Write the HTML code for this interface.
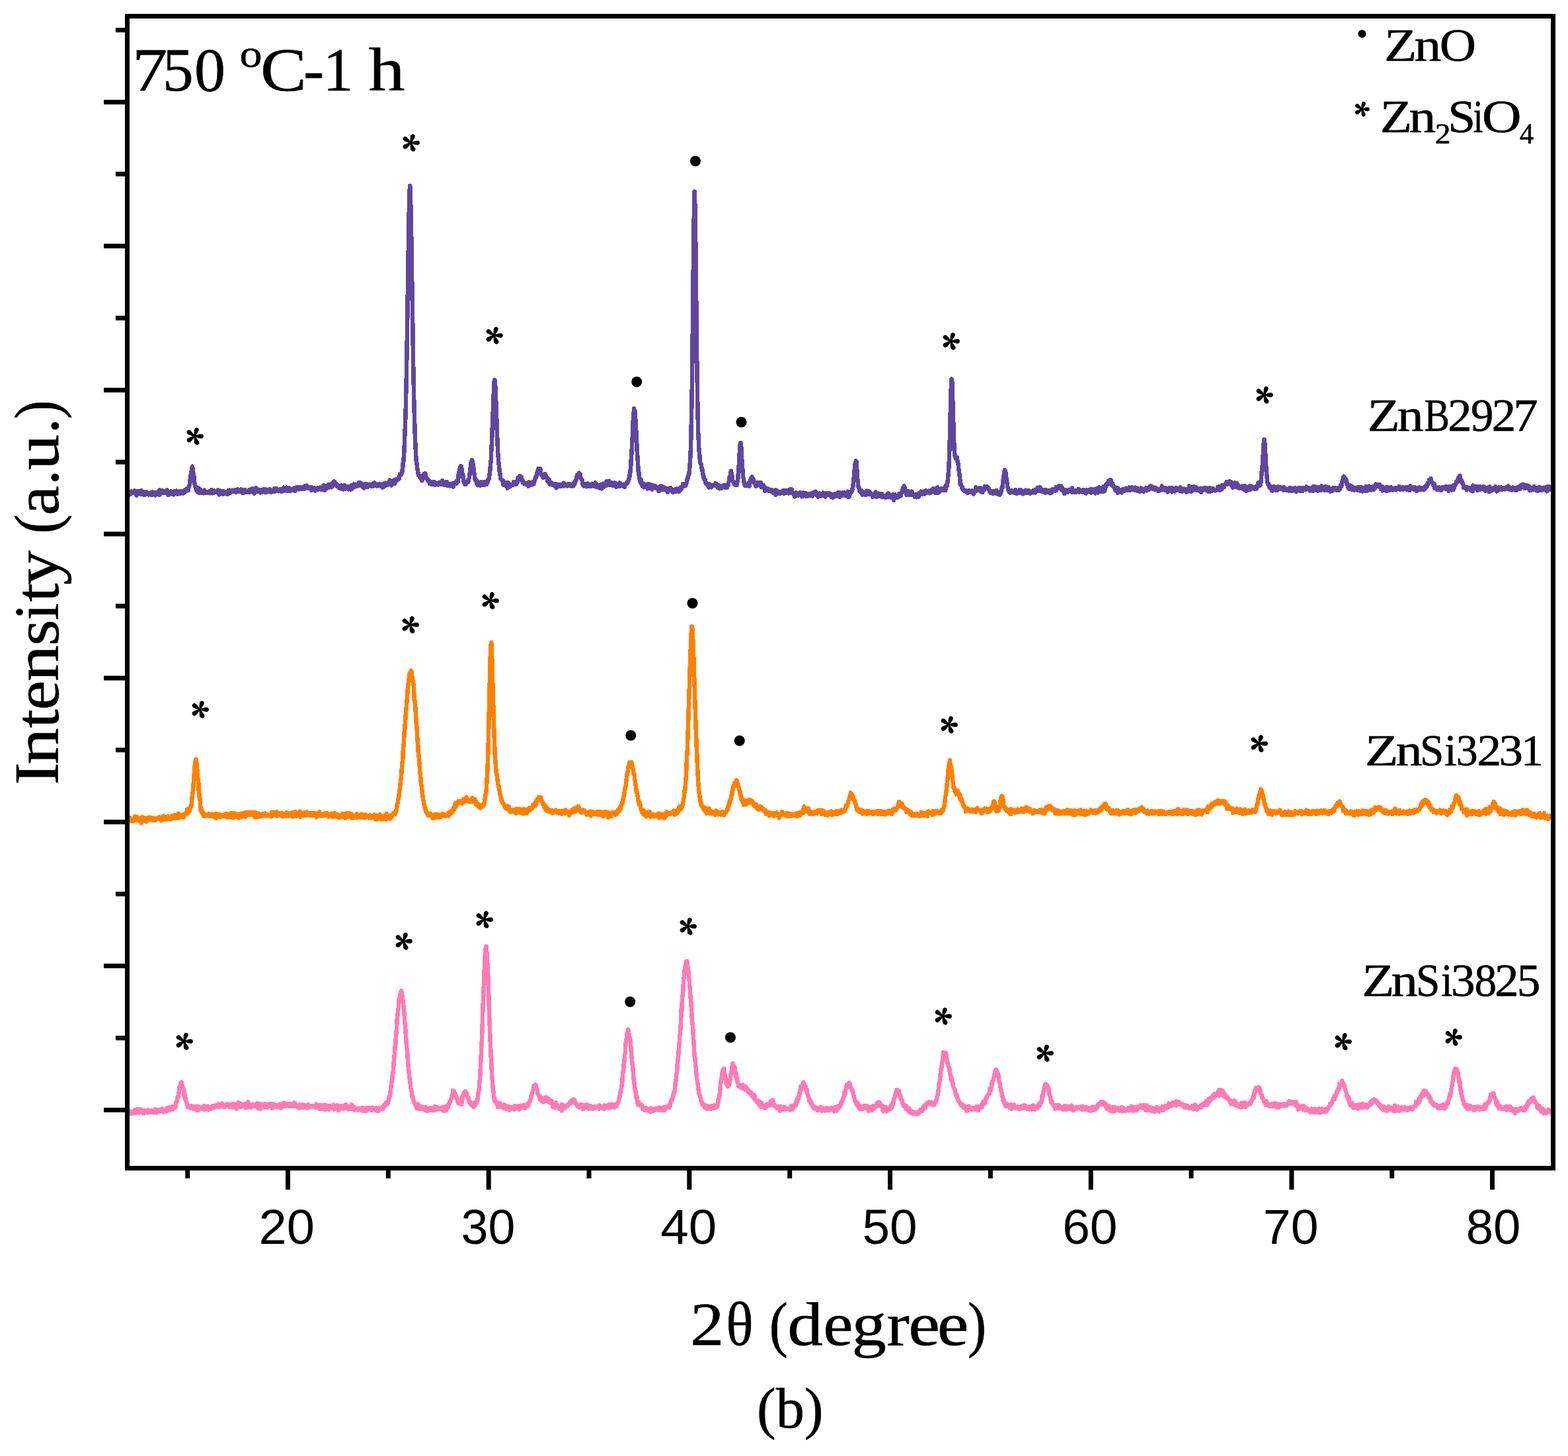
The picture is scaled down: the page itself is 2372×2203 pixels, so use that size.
<!DOCTYPE html>
<html><head><meta charset="utf-8"><title>XRD 750 C-1 h</title>
<style>html,body{margin:0;padding:0;background:#fff;width:2372px;height:2203px;overflow:hidden}svg{display:block}</style>
</head><body>
<svg width="2372" height="2203" viewBox="0 0 2372 2203">
<rect width="2372" height="2203" fill="#fff"/>
<path d="M192.6 746.2L193.2 747.3 193.8 748.0 194.4 744.0 195.0 746.0 195.6 746.1 196.2 746.7 196.8 748.2 197.4 744.2 198.0 747.3 198.6 743.5 199.2 745.1 199.9 745.4 200.5 745.8 201.1 745.2 201.7 745.2 202.3 745.4 202.9 745.4 203.5 742.5 204.1 743.1 204.7 744.6 205.3 746.1 205.9 746.8 206.5 749.8 207.1 745.1 207.7 743.5 208.4 745.2 209.0 746.1 209.6 745.3 210.2 743.4 210.8 745.2 211.4 745.4 212.0 743.3 212.6 743.7 213.2 747.9 213.8 742.1 214.4 746.2 215.0 745.5 215.6 748.2 216.3 746.9 216.9 744.3 217.5 747.8 218.1 744.7 218.7 749.0 219.3 748.4 219.9 745.4 220.5 746.9 221.1 746.0 221.7 744.2 222.3 747.6 222.9 746.6 223.5 747.4 224.1 747.8 224.8 748.4 225.4 747.8 226.0 745.8 226.6 746.1 227.2 746.6 227.8 745.6 228.4 745.4 229.0 748.9 229.6 746.6 230.2 748.9 230.8 744.5 231.4 745.8 232.0 745.1 232.6 745.3 233.3 745.5 233.9 745.9 234.5 745.4 235.1 749.3 235.7 747.4 236.3 745.0 236.9 745.4 237.5 747.5 238.1 747.1 238.7 745.1 239.3 747.6 239.9 743.5 240.5 745.1 241.2 748.7 241.8 741.3 242.4 745.3 243.0 747.2 243.6 745.3 244.2 744.2 244.8 744.0 245.4 742.0 246.0 743.4 246.6 745.7 247.2 744.7 247.8 745.6 248.4 745.4 249.0 746.1 249.7 742.8 250.3 745.1 250.9 744.9 251.5 744.9 252.1 743.9 252.7 741.6 253.3 746.3 253.9 746.6 254.5 749.1 255.1 746.4 255.7 747.9 256.3 746.2 256.9 744.6 257.5 746.1 258.2 743.4 258.8 745.9 259.4 745.3 260.0 743.8 260.6 747.7 261.2 747.5 261.8 746.4 262.4 747.0 263.0 748.3 263.6 745.2 264.2 743.1 264.8 743.7 265.4 746.4 266.1 745.5 266.7 742.6 267.3 747.2 267.9 745.3 268.5 747.6 269.1 746.7 269.7 744.0 270.3 744.9 270.9 743.5 271.5 743.3 272.1 744.2 272.7 745.5 273.3 747.0 273.9 743.2 274.6 745.9 275.2 744.7 275.8 744.2 276.4 746.3 277.0 743.7 277.6 746.4 278.2 743.3 278.8 742.2 279.4 744.8 280.0 740.9 280.6 741.2 281.2 742.8 281.8 743.0 282.5 742.3 283.1 739.2 283.7 739.8 284.3 742.2 284.9 741.2 285.5 736.9 286.1 736.7 286.7 733.4 287.3 730.8 287.9 723.1 288.5 721.8 289.1 713.7 289.7 712.6 290.3 709.2 291.0 705.6 291.6 709.0 292.2 714.1 292.8 720.2 293.4 720.9 294.0 727.1 294.6 733.1 295.2 736.1 295.8 736.0 296.4 738.1 297.0 741.7 297.6 740.1 298.2 742.8 298.8 744.4 299.5 743.1 300.1 738.7 300.7 745.4 301.3 745.4 301.9 745.9 302.5 745.0 303.1 740.7 303.7 745.9 304.3 744.1 304.9 745.1 305.5 743.2 306.1 743.1 306.7 743.1 307.4 746.3 308.0 744.1 308.6 743.3 309.2 741.5 309.8 744.6 310.4 743.8 311.0 744.2 311.6 745.7 312.2 745.3 312.8 744.2 313.4 744.6 314.0 744.5 314.6 745.7 315.2 745.8 315.9 744.9 316.5 743.3 317.1 746.2 317.7 746.3 318.3 743.0 318.9 745.4 319.5 744.1 320.1 741.0 320.7 744.6 321.3 746.3 321.9 743.4 322.5 743.4 323.1 746.2 323.7 742.6 324.4 742.7 325.0 743.7 325.6 745.1 326.2 745.0 326.8 742.9 327.4 743.1 328.0 743.6 328.6 742.7 329.2 741.9 329.8 741.5 330.4 744.6 331.0 743.1 331.6 748.4 332.3 744.7 332.9 742.4 333.5 743.8 334.1 744.4 334.7 744.6 335.3 744.6 335.9 744.7 336.5 743.6 337.1 745.0 337.7 747.6 338.3 743.1 338.9 743.3 339.5 745.2 340.1 746.2 340.8 745.6 341.4 746.4 342.0 744.4 342.6 744.3 343.2 745.9 343.8 746.1 344.4 747.9 345.0 747.7 345.6 742.0 346.2 746.5 346.8 744.0 347.4 741.5 348.0 745.7 348.7 744.6 349.3 744.2 349.9 742.5 350.5 742.8 351.1 744.0 351.7 741.7 352.3 743.9 352.9 744.1 353.5 743.5 354.1 744.1 354.7 743.4 355.3 741.5 355.9 741.6 356.5 743.6 357.2 744.9 357.8 743.6 358.4 742.5 359.0 743.7 359.6 740.4 360.2 741.9 360.8 743.0 361.4 743.6 362.0 743.2 362.6 743.3 363.2 741.7 363.8 742.7 364.4 744.1 365.0 740.5 365.7 741.5 366.3 742.9 366.9 745.9 367.5 744.5 368.1 745.9 368.7 745.4 369.3 742.3 369.9 742.8 370.5 740.9 371.1 744.8 371.7 744.0 372.3 743.8 372.9 743.9 373.6 743.6 374.2 743.2 374.8 743.4 375.4 745.0 376.0 741.6 376.6 741.2 377.2 743.0 377.8 744.9 378.4 743.3 379.0 742.6 379.6 744.3 380.2 743.1 380.8 739.7 381.4 741.3 382.1 739.5 382.7 742.7 383.3 742.3 383.9 743.8 384.5 746.7 385.1 742.1 385.7 743.1 386.3 742.4 386.9 738.2 387.5 741.7 388.1 741.7 388.7 743.4 389.3 741.5 389.9 740.7 390.6 743.9 391.2 742.8 391.8 741.4 392.4 741.7 393.0 742.5 393.6 744.4 394.2 745.5 394.8 740.9 395.4 745.0 396.0 743.1 396.6 743.5 397.2 744.5 397.8 741.0 398.5 744.0 399.1 740.1 399.7 741.4 400.3 740.5 400.9 744.7 401.5 744.5 402.1 742.9 402.7 742.5 403.3 740.7 403.9 744.6 404.5 744.0 405.1 743.2 405.7 741.6 406.3 741.2 407.0 741.7 407.6 744.2 408.2 740.3 408.8 742.1 409.4 744.6 410.0 743.3 410.6 744.7 411.2 742.4 411.8 742.4 412.4 743.9 413.0 742.6 413.6 742.0 414.2 740.5 414.9 738.9 415.5 743.9 416.1 740.7 416.7 740.2 417.3 742.9 417.9 740.0 418.5 739.2 419.1 740.5 419.7 741.4 420.3 742.0 420.9 742.4 421.5 743.1 422.1 741.2 422.7 741.9 423.4 741.1 424.0 740.1 424.6 741.7 425.2 741.5 425.8 744.0 426.4 741.7 427.0 739.5 427.6 741.6 428.2 740.1 428.8 743.2 429.4 737.6 430.0 739.4 430.6 739.5 431.2 740.8 431.9 740.4 432.5 738.0 433.1 737.6 433.7 741.0 434.3 743.2 434.9 743.2 435.5 740.0 436.1 741.4 436.7 739.2 437.3 738.2 437.9 742.7 438.5 741.8 439.1 740.2 439.8 740.2 440.4 742.4 441.0 741.4 441.6 740.3 442.2 741.3 442.8 740.8 443.4 740.0 444.0 739.4 444.6 742.0 445.2 739.5 445.8 738.1 446.4 742.9 447.0 741.9 447.6 740.5 448.3 739.4 448.9 739.8 449.5 737.0 450.1 739.4 450.7 740.0 451.3 739.2 451.9 740.3 452.5 738.4 453.1 740.0 453.7 737.0 454.3 739.6 454.9 738.5 455.5 737.1 456.1 738.5 456.8 739.0 457.4 737.7 458.0 740.0 458.6 737.0 459.2 739.4 459.8 738.8 460.4 736.3 461.0 739.6 461.6 734.8 462.2 737.9 462.8 737.1 463.4 738.4 464.0 734.7 464.7 735.6 465.3 736.5 465.9 738.3 466.5 738.7 467.1 738.8 467.7 738.6 468.3 738.1 468.9 737.1 469.5 738.8 470.1 740.5 470.7 741.4 471.3 739.0 471.9 741.6 472.5 737.6 473.2 741.2 473.8 738.1 474.4 740.4 475.0 738.4 475.6 738.4 476.2 739.2 476.8 742.5 477.4 739.0 478.0 741.2 478.6 740.4 479.2 740.6 479.8 740.6 480.4 741.0 481.1 737.9 481.7 739.9 482.3 740.3 482.9 738.6 483.5 740.1 484.1 737.6 484.7 740.5 485.3 738.0 485.9 738.6 486.5 740.4 487.1 740.9 487.7 738.1 488.3 738.0 488.9 740.8 489.6 734.4 490.2 741.5 490.8 741.4 491.4 737.5 492.0 741.3 492.6 739.9 493.2 740.0 493.8 735.3 494.4 738.2 495.0 738.6 495.6 738.1 496.2 737.9 496.8 737.8 497.4 733.2 498.1 737.4 498.7 736.1 499.3 736.7 499.9 735.5 500.5 735.7 501.1 735.6 501.7 737.3 502.3 732.2 502.9 735.7 503.5 731.7 504.1 730.0 504.7 728.7 505.3 732.4 506.0 728.4 506.6 732.8 507.2 732.3 507.8 731.3 508.4 731.8 509.0 734.4 509.6 734.5 510.2 736.1 510.8 735.4 511.4 735.0 512.0 737.2 512.6 734.6 513.2 738.3 513.8 737.1 514.5 735.3 515.1 735.6 515.7 736.8 516.3 734.4 516.9 739.8 517.5 739.1 518.1 735.7 518.7 737.4 519.3 740.4 519.9 738.3 520.5 735.9 521.1 734.0 521.7 734.9 522.3 739.7 523.0 738.3 523.6 735.6 524.2 739.1 524.8 737.3 525.4 736.8 526.0 737.0 526.6 737.1 527.2 740.6 527.8 736.2 528.4 737.0 529.0 739.8 529.6 739.9 530.2 735.6 530.9 740.5 531.5 738.7 532.1 734.1 532.7 739.5 533.3 733.7 533.9 737.2 534.5 733.9 535.1 732.7 535.7 737.1 536.3 736.2 536.9 735.3 537.5 735.7 538.1 735.1 538.7 734.7 539.4 733.1 540.0 735.7 540.6 734.4 541.2 733.6 541.8 732.7 542.4 732.8 543.0 730.4 543.6 732.1 544.2 730.7 544.8 734.5 545.4 730.6 546.0 731.6 546.6 732.5 547.3 734.0 547.9 733.7 548.5 733.1 549.1 737.0 549.7 733.5 550.3 734.3 550.9 738.6 551.5 732.7 552.1 736.1 552.7 735.4 553.3 732.6 553.9 733.9 554.5 736.4 555.1 732.6 555.8 734.7 556.4 736.5 557.0 734.3 557.6 735.0 558.2 733.2 558.8 733.0 559.4 732.7 560.0 732.8 560.6 734.1 561.2 732.9 561.8 735.9 562.4 733.2 563.0 732.7 563.6 736.0 564.3 732.0 564.9 730.9 565.5 732.7 566.1 730.7 566.7 733.6 567.3 735.1 567.9 734.0 568.5 732.3 569.1 732.9 569.7 734.0 570.3 735.3 570.9 732.7 571.5 732.7 572.2 735.3 572.8 733.9 573.4 734.1 574.0 734.4 574.6 732.3 575.2 733.3 575.8 735.4 576.4 733.3 577.0 733.2 577.6 734.0 578.2 734.1 578.8 737.8 579.4 732.0 580.0 733.6 580.7 736.7 581.3 733.3 581.9 733.8 582.5 730.6 583.1 734.6 583.7 734.3 584.3 734.1 584.9 732.2 585.5 733.0 586.1 732.1 586.7 733.5 587.3 731.9 587.9 733.0 588.5 729.3 589.2 730.8 589.8 726.3 590.4 730.8 591.0 732.2 591.6 730.2 592.2 734.5 592.8 728.7 593.4 729.6 594.0 728.4 594.6 729.0 595.2 728.8 595.8 726.8 596.4 727.4 597.1 732.2 597.7 727.9 598.3 729.5 598.9 725.3 599.5 726.8 600.1 727.5 600.7 725.7 601.3 724.6 601.9 724.5 602.5 724.3 603.1 725.0 603.7 724.9 604.3 719.8 604.9 717.6 605.6 719.8 606.2 718.9 606.8 718.6 607.4 717.5 608.0 712.2 608.6 714.3 609.2 707.5 609.8 699.2 610.4 698.1 611.0 689.0 611.6 678.8 612.2 662.1 612.8 648.0 613.5 628.5 614.1 603.0 614.7 575.5 615.3 543.2 615.9 506.5 616.5 465.6 617.1 420.4 617.7 384.3 618.3 343.2 618.9 314.4 619.5 291.2 620.1 280.8 620.7 285.2 621.3 312.0 622.0 339.8 622.6 378.8 623.2 421.9 623.8 457.6 624.4 497.6 625.0 539.9 625.6 573.9 626.2 602.0 626.8 626.4 627.4 645.0 628.0 664.7 628.6 676.7 629.2 689.2 629.8 698.1 630.5 701.5 631.1 707.9 631.7 711.1 632.3 714.8 632.9 718.5 633.5 718.8 634.1 720.3 634.7 721.6 635.3 720.5 635.9 722.0 636.5 723.2 637.1 725.2 637.7 725.5 638.4 727.3 639.0 721.2 639.6 722.6 640.2 719.0 640.8 720.2 641.4 717.2 642.0 721.2 642.6 719.7 643.2 716.2 643.8 719.0 644.4 720.6 645.0 723.7 645.6 723.6 646.2 724.0 646.9 725.1 647.5 727.7 648.1 728.2 648.7 727.7 649.3 727.1 649.9 731.5 650.5 728.9 651.1 730.0 651.7 732.0 652.3 730.8 652.9 733.0 653.5 729.3 654.1 732.7 654.7 729.2 655.4 729.1 656.0 729.9 656.6 732.0 657.2 730.7 657.8 729.6 658.4 734.0 659.0 730.4 659.6 731.8 660.2 732.4 660.8 731.1 661.4 732.5 662.0 732.9 662.6 731.6 663.3 733.4 663.9 730.6 664.5 729.8 665.1 732.0 665.7 730.0 666.3 732.4 666.9 731.7 667.5 731.2 668.1 733.1 668.7 733.2 669.3 727.3 669.9 731.9 670.5 732.8 671.1 733.5 671.8 731.8 672.4 730.8 673.0 733.0 673.6 734.1 674.2 729.5 674.8 730.5 675.4 732.1 676.0 728.8 676.6 732.3 677.2 734.7 677.8 731.6 678.4 733.6 679.0 731.9 679.7 734.0 680.3 734.3 680.9 735.3 681.5 733.1 682.1 734.7 682.7 733.5 683.3 731.9 683.9 735.2 684.5 731.6 685.1 732.9 685.7 736.7 686.3 734.0 686.9 731.1 687.5 732.9 688.2 731.4 688.8 731.9 689.4 729.3 690.0 731.8 690.6 728.2 691.2 730.6 691.8 729.3 692.4 728.3 693.0 728.3 693.6 718.6 694.2 715.9 694.8 712.6 695.4 709.7 696.0 709.3 696.7 705.5 697.3 705.1 697.9 706.0 698.5 710.0 699.1 714.1 699.7 718.5 700.3 719.7 700.9 725.1 701.5 728.6 702.1 730.0 702.7 728.5 703.3 732.8 703.9 733.2 704.6 732.4 705.2 729.7 705.8 729.0 706.4 731.0 707.0 728.5 707.6 726.9 708.2 729.3 708.8 727.3 709.4 724.3 710.0 722.1 710.6 717.3 711.2 709.0 711.8 708.1 712.4 701.4 713.1 698.0 713.7 697.9 714.3 696.0 714.9 700.6 715.5 702.1 716.1 706.4 716.7 711.0 717.3 716.8 717.9 718.2 718.5 724.3 719.1 726.7 719.7 727.8 720.3 726.2 720.9 727.2 721.6 732.6 722.2 730.1 722.8 734.3 723.4 730.9 724.0 732.7 724.6 729.7 725.2 731.0 725.8 731.6 726.4 732.9 727.0 734.6 727.6 733.3 728.2 729.1 728.8 731.5 729.5 731.1 730.1 730.2 730.7 732.2 731.3 733.8 731.9 730.2 732.5 732.8 733.1 733.2 733.7 728.8 734.3 733.5 734.9 733.2 735.5 730.5 736.1 732.7 736.7 729.7 737.3 730.7 738.0 729.0 738.6 725.3 739.2 725.6 739.8 722.7 740.4 719.1 741.0 713.8 741.6 709.0 742.2 700.9 742.8 696.0 743.4 678.8 744.0 669.1 744.6 652.1 745.2 633.8 745.9 620.1 746.5 600.1 747.1 590.0 747.7 577.2 748.3 574.7 748.9 577.0 749.5 588.3 750.1 603.0 750.7 616.8 751.3 635.1 751.9 655.5 752.5 666.4 753.1 684.3 753.7 691.5 754.4 700.4 755.0 705.6 755.6 712.6 756.2 715.2 756.8 720.3 757.4 724.8 758.0 725.2 758.6 725.6 759.2 725.9 759.8 727.3 760.4 726.7 761.0 727.6 761.6 733.6 762.2 731.1 762.9 729.6 763.5 732.6 764.1 734.4 764.7 731.0 765.3 732.1 765.9 730.3 766.5 729.9 767.1 735.2 767.7 738.9 768.3 731.9 768.9 730.5 769.5 735.9 770.1 735.4 770.8 734.5 771.4 736.3 772.0 733.2 772.6 734.3 773.2 735.1 773.8 733.2 774.4 734.4 775.0 733.1 775.6 734.1 776.2 733.4 776.8 729.6 777.4 732.9 778.0 730.1 778.6 730.8 779.3 729.1 779.9 733.0 780.5 730.6 781.1 729.9 781.7 732.0 782.3 730.1 782.9 727.4 783.5 723.0 784.1 726.4 784.7 723.4 785.3 722.0 785.9 723.0 786.5 720.0 787.1 720.8 787.8 722.9 788.4 723.1 789.0 722.1 789.6 726.9 790.2 727.6 790.8 730.1 791.4 727.8 792.0 729.2 792.6 731.5 793.2 731.1 793.8 731.2 794.4 731.3 795.0 731.3 795.7 731.1 796.3 731.4 796.9 733.4 797.5 732.4 798.1 730.6 798.7 733.2 799.3 736.0 799.9 735.4 800.5 729.6 801.1 731.5 801.7 734.2 802.3 732.8 802.9 732.6 803.5 732.1 804.2 732.2 804.8 730.0 805.4 733.4 806.0 729.2 806.6 730.2 807.2 732.3 807.8 730.7 808.4 727.8 809.0 726.5 809.6 724.0 810.2 722.4 810.8 720.8 811.4 721.3 812.1 715.9 812.7 715.4 813.3 713.0 813.9 711.2 814.5 708.8 815.1 710.1 815.7 709.3 816.3 710.2 816.9 710.7 817.5 709.5 818.1 716.5 818.7 718.3 819.3 717.7 819.9 719.5 820.6 721.2 821.2 719.5 821.8 722.6 822.4 722.5 823.0 722.4 823.6 722.1 824.2 716.8 824.8 720.8 825.4 719.0 826.0 722.0 826.6 722.4 827.2 722.8 827.8 722.3 828.4 728.5 829.1 724.7 829.7 724.2 830.3 728.8 830.9 725.8 831.5 732.5 832.1 731.8 832.7 733.0 833.3 733.1 833.9 732.6 834.5 730.1 835.1 731.6 835.7 733.9 836.3 732.9 837.0 734.1 837.6 732.5 838.2 732.6 838.8 734.6 839.4 735.6 840.0 734.5 840.6 733.0 841.2 732.0 841.8 738.3 842.4 733.0 843.0 733.5 843.6 733.8 844.2 736.5 844.8 733.7 845.5 735.9 846.1 735.4 846.7 733.0 847.3 735.2 847.9 732.9 848.5 734.7 849.1 736.2 849.7 734.5 850.3 733.3 850.9 734.1 851.5 734.4 852.1 735.2 852.7 730.7 853.3 731.4 854.0 735.3 854.6 734.3 855.2 734.5 855.8 734.8 856.4 734.1 857.0 733.6 857.6 734.5 858.2 735.4 858.8 734.8 859.4 734.2 860.0 732.3 860.6 734.4 861.2 732.0 861.9 732.7 862.5 734.0 863.1 733.8 863.7 735.4 864.3 734.9 864.9 734.2 865.5 732.7 866.1 733.1 866.7 732.5 867.3 735.5 867.9 733.0 868.5 730.6 869.1 729.5 869.7 732.1 870.4 727.3 871.0 727.9 871.6 725.8 872.2 725.4 872.8 720.0 873.4 720.3 874.0 717.9 874.6 717.6 875.2 717.8 875.8 715.6 876.4 715.9 877.0 719.4 877.6 717.4 878.3 722.3 878.9 722.6 879.5 724.3 880.1 725.6 880.7 727.1 881.3 732.7 881.9 733.7 882.5 733.2 883.1 735.3 883.7 733.9 884.3 733.2 884.9 732.3 885.5 735.4 886.1 735.5 886.8 736.2 887.4 732.7 888.0 733.5 888.6 731.6 889.2 735.8 889.8 735.0 890.4 734.7 891.0 733.8 891.6 733.6 892.2 733.3 892.8 735.9 893.4 733.0 894.0 735.7 894.6 734.7 895.3 732.6 895.9 731.8 896.5 732.9 897.1 734.2 897.7 732.0 898.3 735.2 898.9 736.1 899.5 735.0 900.1 731.3 900.7 730.2 901.3 735.7 901.9 736.8 902.5 733.7 903.2 735.4 903.8 734.2 904.4 733.8 905.0 736.7 905.6 734.3 906.2 736.8 906.8 738.4 907.4 735.4 908.0 738.8 908.6 733.4 909.2 737.0 909.8 735.4 910.4 739.5 911.0 735.1 911.7 733.4 912.3 737.3 912.9 731.7 913.5 734.8 914.1 732.5 914.7 735.9 915.3 733.1 915.9 734.4 916.5 732.5 917.1 730.3 917.7 728.1 918.3 734.4 918.9 731.4 919.5 728.7 920.2 729.9 920.8 732.0 921.4 727.7 922.0 734.2 922.6 730.0 923.2 730.1 923.8 733.2 924.4 731.7 925.0 729.9 925.6 733.5 926.2 733.1 926.8 734.5 927.4 731.3 928.1 731.3 928.7 734.5 929.3 733.0 929.9 730.3 930.5 733.2 931.1 735.4 931.7 733.3 932.3 736.8 932.9 733.8 933.5 734.5 934.1 731.9 934.7 733.3 935.3 734.2 935.9 735.5 936.6 734.7 937.2 736.1 937.8 730.6 938.4 734.3 939.0 734.0 939.6 732.5 940.2 734.3 940.8 733.1 941.4 735.1 942.0 733.8 942.6 735.2 943.2 732.7 943.8 736.3 944.5 734.6 945.1 736.8 945.7 733.2 946.3 732.3 946.9 733.0 947.5 731.5 948.1 730.1 948.7 731.3 949.3 730.4 949.9 728.5 950.5 727.7 951.1 724.9 951.7 724.5 952.3 718.7 953.0 719.8 953.6 711.4 954.2 706.1 954.8 693.7 955.4 686.5 956.0 674.3 956.6 664.3 957.2 651.6 957.8 634.8 958.4 630.4 959.0 618.2 959.6 621.5 960.2 620.8 960.8 625.0 961.5 638.6 962.1 648.8 962.7 659.2 963.3 671.9 963.9 685.5 964.5 692.1 965.1 701.7 965.7 713.7 966.3 714.6 966.9 721.0 967.5 724.5 968.1 727.9 968.7 729.6 969.4 725.1 970.0 729.7 970.6 733.4 971.2 730.7 971.8 735.7 972.4 733.5 973.0 731.4 973.6 734.8 974.2 737.4 974.8 733.2 975.4 735.5 976.0 733.2 976.6 733.8 977.2 735.1 977.9 735.9 978.5 735.7 979.1 735.5 979.7 739.4 980.3 733.4 980.9 732.1 981.5 736.4 982.1 735.8 982.7 733.1 983.3 738.7 983.9 734.6 984.5 733.6 985.1 736.8 985.8 737.5 986.4 740.7 987.0 734.2 987.6 734.9 988.2 736.8 988.8 736.6 989.4 737.4 990.0 736.4 990.6 735.0 991.2 737.0 991.8 739.0 992.4 739.1 993.0 736.7 993.6 738.8 994.3 738.7 994.9 737.2 995.5 737.5 996.1 738.3 996.7 743.2 997.3 738.8 997.9 737.1 998.5 738.4 999.1 737.8 999.7 740.8 1000.3 735.2 1000.9 737.1 1001.5 740.5 1002.1 739.9 1002.8 739.3 1003.4 740.6 1004.0 737.2 1004.6 740.3 1005.2 737.8 1005.8 737.8 1006.4 741.0 1007.0 739.0 1007.6 739.9 1008.2 741.8 1008.8 739.0 1009.4 742.0 1010.0 744.9 1010.7 740.8 1011.3 742.8 1011.9 742.6 1012.5 739.1 1013.1 739.0 1013.7 741.5 1014.3 737.9 1014.9 741.7 1015.5 742.2 1016.1 742.7 1016.7 742.7 1017.3 744.4 1017.9 741.6 1018.5 744.6 1019.2 743.1 1019.8 743.1 1020.4 741.8 1021.0 743.6 1021.6 740.4 1022.2 742.8 1022.8 743.4 1023.4 740.1 1024.0 739.5 1024.6 739.7 1025.2 740.9 1025.8 741.5 1026.4 742.3 1027.0 744.0 1027.7 743.4 1028.3 740.8 1028.9 739.4 1029.5 737.6 1030.1 740.7 1030.7 739.7 1031.3 737.7 1031.9 737.3 1032.5 736.8 1033.1 731.9 1033.7 735.6 1034.3 735.6 1034.9 734.2 1035.6 731.9 1036.2 733.1 1036.8 733.1 1037.4 734.6 1038.0 732.3 1038.6 730.4 1039.2 728.0 1039.8 724.1 1040.4 723.9 1041.0 720.0 1041.6 719.5 1042.2 718.1 1042.8 713.4 1043.4 706.6 1044.1 695.9 1044.7 684.8 1045.3 664.2 1045.9 635.9 1046.5 607.3 1047.1 565.4 1047.7 511.2 1048.3 457.5 1048.9 393.6 1049.5 344.8 1050.1 310.2 1050.7 289.7 1051.3 308.9 1052.0 343.6 1052.6 393.4 1053.2 448.1 1053.8 509.4 1054.4 557.6 1055.0 593.1 1055.6 627.0 1056.2 653.7 1056.8 667.0 1057.4 681.1 1058.0 685.0 1058.6 692.8 1059.2 700.2 1059.8 700.1 1060.5 702.6 1061.1 705.3 1061.7 709.6 1062.3 709.8 1062.9 714.7 1063.5 718.0 1064.1 721.7 1064.7 720.1 1065.3 725.5 1065.9 725.2 1066.5 725.4 1067.1 728.1 1067.7 731.1 1068.3 732.2 1069.0 732.0 1069.6 731.4 1070.2 733.8 1070.8 733.5 1071.4 734.0 1072.0 734.6 1072.6 737.7 1073.2 732.7 1073.8 734.8 1074.4 733.1 1075.0 736.6 1075.6 736.9 1076.2 737.2 1076.9 734.1 1077.5 734.6 1078.1 735.6 1078.7 734.3 1079.3 734.3 1079.9 734.0 1080.5 734.0 1081.1 733.3 1081.7 734.3 1082.3 731.1 1082.9 733.2 1083.5 731.9 1084.1 734.4 1084.7 733.7 1085.4 736.3 1086.0 737.9 1086.6 733.9 1087.2 735.0 1087.8 737.2 1088.4 739.3 1089.0 738.3 1089.6 737.9 1090.2 737.1 1090.8 736.6 1091.4 738.0 1092.0 738.3 1092.6 737.7 1093.2 736.5 1093.9 734.6 1094.5 735.9 1095.1 736.6 1095.7 735.1 1096.3 737.5 1096.9 734.3 1097.5 736.0 1098.1 737.0 1098.7 737.6 1099.3 736.3 1099.9 737.6 1100.5 733.8 1101.1 732.6 1101.8 734.5 1102.4 729.1 1103.0 727.9 1103.6 722.1 1104.2 724.0 1104.8 720.2 1105.4 715.2 1106.0 712.5 1106.6 716.9 1107.2 719.2 1107.8 723.8 1108.4 728.1 1109.0 728.1 1109.6 729.6 1110.3 731.4 1110.9 732.5 1111.5 731.4 1112.1 732.5 1112.7 734.0 1113.3 731.0 1113.9 730.9 1114.5 734.1 1115.1 728.8 1115.7 728.2 1116.3 724.0 1116.9 715.5 1117.5 708.4 1118.2 696.4 1118.8 684.2 1119.4 675.9 1120.0 670.2 1120.6 670.2 1121.2 675.8 1121.8 684.4 1122.4 697.7 1123.0 705.3 1123.6 713.3 1124.2 722.2 1124.8 723.5 1125.4 728.4 1126.0 733.1 1126.7 732.0 1127.3 735.2 1127.9 732.9 1128.5 732.9 1129.1 733.7 1129.7 733.2 1130.3 733.5 1130.9 733.2 1131.5 735.0 1132.1 733.7 1132.7 731.8 1133.3 729.9 1133.9 735.5 1134.5 728.2 1135.2 729.6 1135.8 723.6 1136.4 723.2 1137.0 725.8 1137.6 721.5 1138.2 721.8 1138.8 724.4 1139.4 724.5 1140.0 726.6 1140.6 728.9 1141.2 731.5 1141.8 731.4 1142.4 732.6 1143.1 735.0 1143.7 735.6 1144.3 732.7 1144.9 730.0 1145.5 731.2 1146.1 734.5 1146.7 731.3 1147.3 730.5 1147.9 730.5 1148.5 733.8 1149.1 730.9 1149.7 730.2 1150.3 730.0 1150.9 729.8 1151.6 737.3 1152.2 733.1 1152.8 734.3 1153.4 734.3 1154.0 737.6 1154.6 734.8 1155.2 733.9 1155.8 736.9 1156.4 739.0 1157.0 742.8 1157.6 739.2 1158.2 738.2 1158.8 739.5 1159.4 738.8 1160.1 738.9 1160.7 740.6 1161.3 741.0 1161.9 739.6 1162.5 742.8 1163.1 740.9 1163.7 741.4 1164.3 740.6 1164.9 742.3 1165.5 742.6 1166.1 743.3 1166.7 740.9 1167.3 743.6 1168.0 741.8 1168.6 743.2 1169.2 744.5 1169.8 746.0 1170.4 742.9 1171.0 742.0 1171.6 744.3 1172.2 746.3 1172.8 743.8 1173.4 748.7 1174.0 741.4 1174.6 747.2 1175.2 746.7 1175.8 746.6 1176.5 743.3 1177.1 747.0 1177.7 746.7 1178.3 746.9 1178.9 744.4 1179.5 744.4 1180.1 747.1 1180.7 745.5 1181.3 744.4 1181.9 743.6 1182.5 745.5 1183.1 742.8 1183.7 746.1 1184.4 745.3 1185.0 742.4 1185.6 745.8 1186.2 747.0 1186.8 745.3 1187.4 742.5 1188.0 743.7 1188.6 746.1 1189.2 742.3 1189.8 743.7 1190.4 746.2 1191.0 743.5 1191.6 742.8 1192.2 745.0 1192.9 746.3 1193.5 744.1 1194.1 741.1 1194.7 740.7 1195.3 743.2 1195.9 740.8 1196.5 744.1 1197.1 746.2 1197.7 740.5 1198.3 745.2 1198.9 746.4 1199.5 745.2 1200.1 747.1 1200.7 747.6 1201.4 748.7 1202.0 751.6 1202.6 747.6 1203.2 745.5 1203.8 745.3 1204.4 745.0 1205.0 748.3 1205.6 747.6 1206.2 747.9 1206.8 747.4 1207.4 749.8 1208.0 749.0 1208.6 748.9 1209.3 746.0 1209.9 746.7 1210.5 745.2 1211.1 746.4 1211.7 747.8 1212.3 745.7 1212.9 746.8 1213.5 751.5 1214.1 747.8 1214.7 745.6 1215.3 746.1 1215.9 748.1 1216.5 749.6 1217.1 748.0 1217.8 749.6 1218.4 748.6 1219.0 746.1 1219.6 749.7 1220.2 747.1 1220.8 751.2 1221.4 746.9 1222.0 747.7 1222.6 747.0 1223.2 747.5 1223.8 748.7 1224.4 747.6 1225.0 749.9 1225.6 748.4 1226.3 750.2 1226.9 747.4 1227.5 749.2 1228.1 748.8 1228.7 746.1 1229.3 750.4 1229.9 748.3 1230.5 746.4 1231.1 745.0 1231.7 745.1 1232.3 745.0 1232.9 745.9 1233.5 743.7 1234.2 746.0 1234.8 745.1 1235.4 749.4 1236.0 748.2 1236.6 750.0 1237.2 751.5 1237.8 748.5 1238.4 751.4 1239.0 748.7 1239.6 749.2 1240.2 746.5 1240.8 748.3 1241.4 750.6 1242.0 749.0 1242.7 747.5 1243.3 748.1 1243.9 746.9 1244.5 747.0 1245.1 745.7 1245.7 750.1 1246.3 750.1 1246.9 748.0 1247.5 746.0 1248.1 747.9 1248.7 751.7 1249.3 746.0 1249.9 747.4 1250.6 747.5 1251.2 749.6 1251.8 746.1 1252.4 748.7 1253.0 746.8 1253.6 747.6 1254.2 746.2 1254.8 749.1 1255.4 747.4 1256.0 747.2 1256.6 750.1 1257.2 748.8 1257.8 752.2 1258.4 748.9 1259.1 748.3 1259.7 748.4 1260.3 752.9 1260.9 750.3 1261.5 747.7 1262.1 748.8 1262.7 747.4 1263.3 749.5 1263.9 747.6 1264.5 747.6 1265.1 749.5 1265.7 751.1 1266.3 750.3 1266.9 750.2 1267.6 749.0 1268.2 744.8 1268.8 748.7 1269.4 748.6 1270.0 749.8 1270.6 751.8 1271.2 750.1 1271.8 745.7 1272.4 748.7 1273.0 748.2 1273.6 749.8 1274.2 748.4 1274.8 745.2 1275.5 746.9 1276.1 747.9 1276.7 744.9 1277.3 748.2 1277.9 747.9 1278.5 750.2 1279.1 748.1 1279.7 747.2 1280.3 748.0 1280.9 748.1 1281.5 749.6 1282.1 746.1 1282.7 743.7 1283.3 752.1 1284.0 748.4 1284.6 746.9 1285.2 750.7 1285.8 744.2 1286.4 744.4 1287.0 744.5 1287.6 745.4 1288.2 742.8 1288.8 743.6 1289.4 739.6 1290.0 739.7 1290.6 734.3 1291.2 725.5 1291.8 722.1 1292.5 713.0 1293.1 707.5 1293.7 701.4 1294.3 701.8 1294.9 697.3 1295.5 698.7 1296.1 708.4 1296.7 713.6 1297.3 726.2 1297.9 730.5 1298.5 737.1 1299.1 737.5 1299.7 739.1 1300.4 743.4 1301.0 741.7 1301.6 743.3 1302.2 744.2 1302.8 745.6 1303.4 743.4 1304.0 742.6 1304.6 748.7 1305.2 745.3 1305.8 745.9 1306.4 747.2 1307.0 746.9 1307.6 745.0 1308.2 745.3 1308.9 748.8 1309.5 748.2 1310.1 747.3 1310.7 748.9 1311.3 742.7 1311.9 746.3 1312.5 745.6 1313.1 742.8 1313.7 746.8 1314.3 747.5 1314.9 746.9 1315.5 743.5 1316.1 746.4 1316.8 747.3 1317.4 746.6 1318.0 747.6 1318.6 748.1 1319.2 749.7 1319.8 747.7 1320.4 751.9 1321.0 747.8 1321.6 747.9 1322.2 748.8 1322.8 747.5 1323.4 747.3 1324.0 750.1 1324.6 744.4 1325.3 745.2 1325.9 752.0 1326.5 749.7 1327.1 749.4 1327.7 749.1 1328.3 749.1 1328.9 746.9 1329.5 748.1 1330.1 746.8 1330.7 750.6 1331.3 749.8 1331.9 749.1 1332.5 749.5 1333.1 748.7 1333.8 747.1 1334.4 752.3 1335.0 750.7 1335.6 749.4 1336.2 750.9 1336.8 752.3 1337.4 752.3 1338.0 751.5 1338.6 751.8 1339.2 750.1 1339.8 752.9 1340.4 752.2 1341.0 752.3 1341.7 748.4 1342.3 751.9 1342.9 752.0 1343.5 752.3 1344.1 746.5 1344.7 747.8 1345.3 751.6 1345.9 749.5 1346.5 751.9 1347.1 751.1 1347.7 752.7 1348.3 750.3 1348.9 749.4 1349.5 752.2 1350.2 750.9 1350.8 749.3 1351.4 748.0 1352.0 757.0 1352.6 751.0 1353.2 751.2 1353.8 748.2 1354.4 749.9 1355.0 751.3 1355.6 752.1 1356.2 752.8 1356.8 750.0 1357.4 752.0 1358.0 753.1 1358.7 750.0 1359.3 750.7 1359.9 747.4 1360.5 748.9 1361.1 747.5 1361.7 750.5 1362.3 748.1 1362.9 750.1 1363.5 746.3 1364.1 745.9 1364.7 743.9 1365.3 741.8 1365.9 738.2 1366.6 742.0 1367.2 738.3 1367.8 735.2 1368.4 738.0 1369.0 738.0 1369.6 743.3 1370.2 744.4 1370.8 746.6 1371.4 749.0 1372.0 745.0 1372.6 743.7 1373.2 745.9 1373.8 748.6 1374.4 743.1 1375.1 746.6 1375.7 748.7 1376.3 745.2 1376.9 745.9 1377.5 744.0 1378.1 748.4 1378.7 748.7 1379.3 743.7 1379.9 744.5 1380.5 746.8 1381.1 748.4 1381.7 748.5 1382.3 749.3 1383.0 750.2 1383.6 750.8 1384.2 752.0 1384.8 749.0 1385.4 747.8 1386.0 748.4 1386.6 752.3 1387.2 749.6 1387.8 749.2 1388.4 750.2 1389.0 749.8 1389.6 751.6 1390.2 745.9 1390.8 747.5 1391.5 748.3 1392.1 748.3 1392.7 746.0 1393.3 743.6 1393.9 745.8 1394.5 744.9 1395.1 745.8 1395.7 747.8 1396.3 747.0 1396.9 743.7 1397.5 744.3 1398.1 745.8 1398.7 747.4 1399.3 745.2 1400.0 745.7 1400.6 742.5 1401.2 744.3 1401.8 743.6 1402.4 745.3 1403.0 744.4 1403.6 743.3 1404.2 742.8 1404.8 745.0 1405.4 743.3 1406.0 746.3 1406.6 744.4 1407.2 743.5 1407.9 745.4 1408.5 741.4 1409.1 745.0 1409.7 741.9 1410.3 744.2 1410.9 741.5 1411.5 740.9 1412.1 739.2 1412.7 742.4 1413.3 743.1 1413.9 739.9 1414.5 745.6 1415.1 742.5 1415.7 740.6 1416.4 746.1 1417.0 741.9 1417.6 745.2 1418.2 737.5 1418.8 746.2 1419.4 742.6 1420.0 742.2 1420.6 742.6 1421.2 739.8 1421.8 743.4 1422.4 742.3 1423.0 742.0 1423.6 740.2 1424.2 738.9 1424.9 741.4 1425.5 742.0 1426.1 740.5 1426.7 739.6 1427.3 738.8 1427.9 740.6 1428.5 741.6 1429.1 738.4 1429.7 736.7 1430.3 742.1 1430.9 734.2 1431.5 736.6 1432.1 734.7 1432.8 735.4 1433.4 730.0 1434.0 723.1 1434.6 717.6 1435.2 710.6 1435.8 697.3 1436.4 678.8 1437.0 657.6 1437.6 631.2 1438.2 606.5 1438.8 586.9 1439.4 573.6 1440.0 573.8 1440.6 582.5 1441.3 607.6 1441.9 622.5 1442.5 649.0 1443.1 666.0 1443.7 681.0 1444.3 689.1 1444.9 688.3 1445.5 693.2 1446.1 694.0 1446.7 693.8 1447.3 693.1 1447.9 692.3 1448.5 698.6 1449.2 699.9 1449.8 704.1 1450.4 710.6 1451.0 714.6 1451.6 719.0 1452.2 724.8 1452.8 733.1 1453.4 732.1 1454.0 734.2 1454.6 735.3 1455.2 738.3 1455.8 736.8 1456.4 740.6 1457.0 740.9 1457.7 741.2 1458.3 742.3 1458.9 741.5 1459.5 743.3 1460.1 743.3 1460.7 743.6 1461.3 742.8 1461.9 744.5 1462.5 742.8 1463.1 745.5 1463.7 743.2 1464.3 745.7 1464.9 744.1 1465.5 743.7 1466.2 742.1 1466.8 745.1 1467.4 744.8 1468.0 744.3 1468.6 745.0 1469.2 744.5 1469.8 742.7 1470.4 742.2 1471.0 745.3 1471.6 744.4 1472.2 746.6 1472.8 747.3 1473.4 745.0 1474.1 744.4 1474.7 744.0 1475.3 742.9 1475.9 741.2 1476.5 737.2 1477.1 742.7 1477.7 741.9 1478.3 740.4 1478.9 740.0 1479.5 741.0 1480.1 740.6 1480.7 739.1 1481.3 738.3 1481.9 740.0 1482.6 740.6 1483.2 743.5 1483.8 738.4 1484.4 741.3 1485.0 739.2 1485.6 740.2 1486.2 745.2 1486.8 740.2 1487.4 740.4 1488.0 739.3 1488.6 741.3 1489.2 738.5 1489.8 735.7 1490.4 738.4 1491.1 739.2 1491.7 737.4 1492.3 737.7 1492.9 736.4 1493.5 736.3 1494.1 738.6 1494.7 737.3 1495.3 739.3 1495.9 739.1 1496.5 741.3 1497.1 743.8 1497.7 743.0 1498.3 745.6 1499.0 744.8 1499.6 744.4 1500.2 743.4 1500.8 745.5 1501.4 743.5 1502.0 747.1 1502.6 743.5 1503.2 743.5 1503.8 744.5 1504.4 743.1 1505.0 746.2 1505.6 744.6 1506.2 745.1 1506.8 746.9 1507.5 741.9 1508.1 745.2 1508.7 746.2 1509.3 747.3 1509.9 745.6 1510.5 744.1 1511.1 746.7 1511.7 746.5 1512.3 748.5 1512.9 748.1 1513.5 743.4 1514.1 745.5 1514.7 742.3 1515.4 738.5 1516.0 739.3 1516.6 737.3 1517.2 726.8 1517.8 728.7 1518.4 719.5 1519.0 719.0 1519.6 712.7 1520.2 711.0 1520.8 714.7 1521.4 715.1 1522.0 724.4 1522.6 723.9 1523.2 729.2 1523.9 732.3 1524.5 738.2 1525.1 739.3 1525.7 742.4 1526.3 743.9 1526.9 744.1 1527.5 745.0 1528.1 745.3 1528.7 743.5 1529.3 742.5 1529.9 742.2 1530.5 745.4 1531.1 743.3 1531.7 742.7 1532.4 743.0 1533.0 744.2 1533.6 745.1 1534.2 744.3 1534.8 743.0 1535.4 745.8 1536.0 741.0 1536.6 744.3 1537.2 746.6 1537.8 745.2 1538.4 746.7 1539.0 744.7 1539.6 745.4 1540.3 744.4 1540.9 743.5 1541.5 744.9 1542.1 746.0 1542.7 740.9 1543.3 743.0 1543.9 740.9 1544.5 743.0 1545.1 742.5 1545.7 744.0 1546.3 744.4 1546.9 746.7 1547.5 747.2 1548.1 743.6 1548.8 744.2 1549.4 746.1 1550.0 743.9 1550.6 744.2 1551.2 741.7 1551.8 746.1 1552.4 745.3 1553.0 743.1 1553.6 742.4 1554.2 742.8 1554.8 745.3 1555.4 743.6 1556.0 742.3 1556.6 743.8 1557.3 745.8 1557.9 746.5 1558.5 746.7 1559.1 744.6 1559.7 744.9 1560.3 745.0 1560.9 745.6 1561.5 745.5 1562.1 742.7 1562.7 743.0 1563.3 743.5 1563.9 745.2 1564.5 742.8 1565.2 742.0 1565.8 744.8 1566.4 745.3 1567.0 740.7 1567.6 741.7 1568.2 743.5 1568.8 740.3 1569.4 742.2 1570.0 737.7 1570.6 739.5 1571.2 740.9 1571.8 742.4 1572.4 741.5 1573.0 737.3 1573.7 737.7 1574.3 739.3 1574.9 742.7 1575.5 742.9 1576.1 743.9 1576.7 743.5 1577.3 741.6 1577.9 742.2 1578.5 741.5 1579.1 744.6 1579.7 741.0 1580.3 743.4 1580.9 743.7 1581.6 745.4 1582.2 741.9 1582.8 744.0 1583.4 741.6 1584.0 745.1 1584.6 742.8 1585.2 743.0 1585.8 742.0 1586.4 742.8 1587.0 742.8 1587.6 743.1 1588.2 746.3 1588.8 742.6 1589.4 744.8 1590.1 745.8 1590.7 742.3 1591.3 740.4 1591.9 744.7 1592.5 740.7 1593.1 741.8 1593.7 742.6 1594.3 742.7 1594.9 741.3 1595.5 739.9 1596.1 742.2 1596.7 740.2 1597.3 742.5 1597.9 736.9 1598.6 737.6 1599.2 737.0 1599.8 737.4 1600.4 736.4 1601.0 735.7 1601.6 739.0 1602.2 735.4 1602.8 736.8 1603.4 736.9 1604.0 736.1 1604.6 739.2 1605.2 735.3 1605.8 741.3 1606.5 737.3 1607.1 740.1 1607.7 741.4 1608.3 740.9 1608.9 741.2 1609.5 744.5 1610.1 746.9 1610.7 744.7 1611.3 743.3 1611.9 741.9 1612.5 741.6 1613.1 745.0 1613.7 744.3 1614.3 745.0 1615.0 744.3 1615.6 744.8 1616.2 741.5 1616.8 741.2 1617.4 740.8 1618.0 742.6 1618.6 742.4 1619.2 743.0 1619.8 740.8 1620.4 743.3 1621.0 744.4 1621.6 743.2 1622.2 738.5 1622.8 743.1 1623.5 742.5 1624.1 744.7 1624.7 742.8 1625.3 744.1 1625.9 742.3 1626.5 743.5 1627.1 744.6 1627.7 742.4 1628.3 743.4 1628.9 743.1 1629.5 743.9 1630.1 742.7 1630.7 743.8 1631.4 739.9 1632.0 742.7 1632.6 744.6 1633.2 744.4 1633.8 741.6 1634.4 741.9 1635.0 744.0 1635.6 743.9 1636.2 744.1 1636.8 743.4 1637.4 743.4 1638.0 745.0 1638.6 741.7 1639.2 740.9 1639.9 745.1 1640.5 742.1 1641.1 744.7 1641.7 742.4 1642.3 741.8 1642.9 746.4 1643.5 743.7 1644.1 741.5 1644.7 743.5 1645.3 743.6 1645.9 743.5 1646.5 744.0 1647.1 741.7 1647.8 743.1 1648.4 744.3 1649.0 744.5 1649.6 743.4 1650.2 741.8 1650.8 739.7 1651.4 745.4 1652.0 740.9 1652.6 741.9 1653.2 742.5 1653.8 743.1 1654.4 742.2 1655.0 740.7 1655.6 742.0 1656.3 745.6 1656.9 746.3 1657.5 741.7 1658.1 743.2 1658.7 739.2 1659.3 742.6 1659.9 743.5 1660.5 741.7 1661.1 745.3 1661.7 743.6 1662.3 743.1 1662.9 737.5 1663.5 740.8 1664.1 743.0 1664.8 740.8 1665.4 738.6 1666.0 740.6 1666.6 744.1 1667.2 742.6 1667.8 742.9 1668.4 741.6 1669.0 743.8 1669.6 736.0 1670.2 738.3 1670.8 743.1 1671.4 741.0 1672.0 738.8 1672.7 736.8 1673.3 733.2 1673.9 734.3 1674.5 733.4 1675.1 730.6 1675.7 733.2 1676.3 731.2 1676.9 727.7 1677.5 728.9 1678.1 726.6 1678.7 727.1 1679.3 726.1 1679.9 732.0 1680.5 726.1 1681.2 729.8 1681.8 733.2 1682.4 734.6 1683.0 731.4 1683.6 733.8 1684.2 736.4 1684.8 736.2 1685.4 737.2 1686.0 738.6 1686.6 739.3 1687.2 741.9 1687.8 737.4 1688.4 742.4 1689.0 740.5 1689.7 742.1 1690.3 740.7 1690.9 745.5 1691.5 738.6 1692.1 743.9 1692.7 741.2 1693.3 741.7 1693.9 744.6 1694.5 741.9 1695.1 743.7 1695.7 744.6 1696.3 741.0 1696.9 745.4 1697.6 744.0 1698.2 741.3 1698.8 741.9 1699.4 740.1 1700.0 741.7 1700.6 742.5 1701.2 742.6 1701.8 741.1 1702.4 739.8 1703.0 739.5 1703.6 738.9 1704.2 740.1 1704.8 741.7 1705.4 739.7 1706.1 739.5 1706.7 738.9 1707.3 741.6 1707.9 740.1 1708.5 737.6 1709.1 742.0 1709.7 741.6 1710.3 739.5 1710.9 738.5 1711.5 738.7 1712.1 736.9 1712.7 740.0 1713.3 740.5 1714.0 739.8 1714.6 738.5 1715.2 738.6 1715.8 739.4 1716.4 741.7 1717.0 737.7 1717.6 739.4 1718.2 738.6 1718.8 737.9 1719.4 740.8 1720.0 742.4 1720.6 738.8 1721.2 742.4 1721.8 742.0 1722.5 741.8 1723.1 743.4 1723.7 740.0 1724.3 743.9 1724.9 740.6 1725.5 742.2 1726.1 738.7 1726.7 743.1 1727.3 741.6 1727.9 740.6 1728.5 739.8 1729.1 742.0 1729.7 743.9 1730.3 742.5 1731.0 741.0 1731.6 740.2 1732.2 739.6 1732.8 740.7 1733.4 738.3 1734.0 740.1 1734.6 742.3 1735.2 740.0 1735.8 739.5 1736.4 738.3 1737.0 740.2 1737.6 739.7 1738.2 740.8 1738.9 736.8 1739.5 735.9 1740.1 736.6 1740.7 735.4 1741.3 737.4 1741.9 736.8 1742.5 736.2 1743.1 737.8 1743.7 739.9 1744.3 739.7 1744.9 737.6 1745.5 739.0 1746.1 739.8 1746.7 740.6 1747.4 739.2 1748.0 737.8 1748.6 740.8 1749.2 738.7 1749.8 739.9 1750.4 740.2 1751.0 742.4 1751.6 740.1 1752.2 741.3 1752.8 740.7 1753.4 740.2 1754.0 742.7 1754.6 740.4 1755.2 742.0 1755.9 741.6 1756.5 737.9 1757.1 738.2 1757.7 735.5 1758.3 741.3 1758.9 741.0 1759.5 739.6 1760.1 739.4 1760.7 739.6 1761.3 738.9 1761.9 739.9 1762.5 739.8 1763.1 738.3 1763.8 742.3 1764.4 741.6 1765.0 739.3 1765.6 743.8 1766.2 744.4 1766.8 742.4 1767.4 742.5 1768.0 739.5 1768.6 740.1 1769.2 738.0 1769.8 740.1 1770.4 742.5 1771.0 740.2 1771.6 738.1 1772.3 743.7 1772.9 744.3 1773.5 743.5 1774.1 738.3 1774.7 742.3 1775.3 739.5 1775.9 740.6 1776.5 741.9 1777.1 743.3 1777.7 739.5 1778.3 739.9 1778.9 738.3 1779.5 740.4 1780.2 738.7 1780.8 739.4 1781.4 741.5 1782.0 740.2 1782.6 740.4 1783.2 740.6 1783.8 741.6 1784.4 742.6 1785.0 738.3 1785.6 737.6 1786.2 741.4 1786.8 741.8 1787.4 743.1 1788.0 742.2 1788.7 743.9 1789.3 741.9 1789.9 740.0 1790.5 742.8 1791.1 739.7 1791.7 740.1 1792.3 742.0 1792.9 740.9 1793.5 743.0 1794.1 740.8 1794.7 744.6 1795.3 739.8 1795.9 742.7 1796.5 740.7 1797.2 743.8 1797.8 740.3 1798.4 742.5 1799.0 735.5 1799.6 739.4 1800.2 743.3 1800.8 740.5 1801.4 740.0 1802.0 741.1 1802.6 743.5 1803.2 737.3 1803.8 738.9 1804.4 738.2 1805.1 740.1 1805.7 737.8 1806.3 736.4 1806.9 736.6 1807.5 740.5 1808.1 739.9 1808.7 741.2 1809.3 737.2 1809.9 738.6 1810.5 739.3 1811.1 741.8 1811.7 741.2 1812.3 740.2 1812.9 738.9 1813.6 740.9 1814.2 739.8 1814.8 742.2 1815.4 743.6 1816.0 740.9 1816.6 738.8 1817.2 744.8 1817.8 741.8 1818.4 741.7 1819.0 741.0 1819.6 741.1 1820.2 741.0 1820.8 741.3 1821.4 738.3 1822.1 739.7 1822.7 740.8 1823.3 741.2 1823.9 741.3 1824.5 741.7 1825.1 737.8 1825.7 739.3 1826.3 739.8 1826.9 741.1 1827.5 740.6 1828.1 744.2 1828.7 740.1 1829.3 740.3 1830.0 738.0 1830.6 743.7 1831.2 740.7 1831.8 740.3 1832.4 739.4 1833.0 740.6 1833.6 739.9 1834.2 742.6 1834.8 739.2 1835.4 739.9 1836.0 739.7 1836.6 741.7 1837.2 741.3 1837.8 742.4 1838.5 741.6 1839.1 741.6 1839.7 740.7 1840.3 742.0 1840.9 741.2 1841.5 740.8 1842.1 737.3 1842.7 739.1 1843.3 738.5 1843.9 736.4 1844.5 741.6 1845.1 741.6 1845.7 740.8 1846.4 739.8 1847.0 741.1 1847.6 735.5 1848.2 740.3 1848.8 734.3 1849.4 737.7 1850.0 737.3 1850.6 737.6 1851.2 737.4 1851.8 736.9 1852.4 733.9 1853.0 733.4 1853.6 732.5 1854.2 733.5 1854.9 732.0 1855.5 729.2 1856.1 733.1 1856.7 728.9 1857.3 729.7 1857.9 728.9 1858.5 728.8 1859.1 731.1 1859.7 729.1 1860.3 728.1 1860.9 729.9 1861.5 729.8 1862.1 729.5 1862.7 734.3 1863.4 735.3 1864.0 731.3 1864.6 737.0 1865.2 737.8 1865.8 732.6 1866.4 735.9 1867.0 734.9 1867.6 736.8 1868.2 730.4 1868.8 736.5 1869.4 734.7 1870.0 736.1 1870.6 736.8 1871.3 731.3 1871.9 735.4 1872.5 735.7 1873.1 737.0 1873.7 738.2 1874.3 737.9 1874.9 735.6 1875.5 738.4 1876.1 736.2 1876.7 739.0 1877.3 737.6 1877.9 737.7 1878.5 738.4 1879.1 735.6 1879.8 737.9 1880.4 736.5 1881.0 740.2 1881.6 740.9 1882.2 736.4 1882.8 735.1 1883.4 739.4 1884.0 738.1 1884.6 737.5 1885.2 743.0 1885.8 738.4 1886.4 737.2 1887.0 738.4 1887.6 739.3 1888.3 741.3 1888.9 739.0 1889.5 736.2 1890.1 737.4 1890.7 741.2 1891.3 735.0 1891.9 737.8 1892.5 739.9 1893.1 738.3 1893.7 737.4 1894.3 736.3 1894.9 738.0 1895.5 738.6 1896.2 738.0 1896.8 739.4 1897.4 737.9 1898.0 739.6 1898.6 737.6 1899.2 738.7 1899.8 736.5 1900.4 739.8 1901.0 738.8 1901.6 737.6 1902.2 734.5 1902.8 736.3 1903.4 730.6 1904.0 734.7 1904.7 735.1 1905.3 732.7 1905.9 733.6 1906.5 733.1 1907.1 732.9 1907.7 726.6 1908.3 719.2 1908.9 711.5 1909.5 707.2 1910.1 699.4 1910.7 689.2 1911.3 677.0 1911.9 667.8 1912.6 664.9 1913.2 669.1 1913.8 677.5 1914.4 689.0 1915.0 699.0 1915.6 712.4 1916.2 717.3 1916.8 724.4 1917.4 730.1 1918.0 733.2 1918.6 732.7 1919.2 732.5 1919.8 734.0 1920.4 737.5 1921.1 738.3 1921.7 738.1 1922.3 739.1 1922.9 740.1 1923.5 736.7 1924.1 742.6 1924.7 742.8 1925.3 739.7 1925.9 738.2 1926.5 738.9 1927.1 736.1 1927.7 738.6 1928.3 737.2 1928.9 738.4 1929.6 738.0 1930.2 742.1 1930.8 737.2 1931.4 739.3 1932.0 738.1 1932.6 741.6 1933.2 740.8 1933.8 736.5 1934.4 737.5 1935.0 739.7 1935.6 738.2 1936.2 740.0 1936.8 739.4 1937.5 737.5 1938.1 738.8 1938.7 740.1 1939.3 739.2 1939.9 739.6 1940.5 740.0 1941.1 739.2 1941.7 741.7 1942.3 737.3 1942.9 740.4 1943.5 738.8 1944.1 740.5 1944.7 741.4 1945.3 741.2 1946.0 741.4 1946.6 741.7 1947.2 741.5 1947.8 740.3 1948.4 742.1 1949.0 742.6 1949.6 742.5 1950.2 741.6 1950.8 741.6 1951.4 737.8 1952.0 739.8 1952.6 740.8 1953.2 742.7 1953.8 743.0 1954.5 741.1 1955.1 738.8 1955.7 741.4 1956.3 742.2 1956.9 741.7 1957.5 739.1 1958.1 738.4 1958.7 738.6 1959.3 738.3 1959.9 741.8 1960.5 740.6 1961.1 743.8 1961.7 742.9 1962.4 741.9 1963.0 739.1 1963.6 741.5 1964.2 741.2 1964.8 738.1 1965.4 738.4 1966.0 739.3 1966.6 742.7 1967.2 739.8 1967.8 738.0 1968.4 740.4 1969.0 741.2 1969.6 738.0 1970.2 743.2 1970.9 738.6 1971.5 741.6 1972.1 740.9 1972.7 738.5 1973.3 739.5 1973.9 739.7 1974.5 739.0 1975.1 740.9 1975.7 739.7 1976.3 736.6 1976.9 739.7 1977.5 737.6 1978.1 739.1 1978.8 739.9 1979.4 739.4 1980.0 741.3 1980.6 739.4 1981.2 738.7 1981.8 742.4 1982.4 740.9 1983.0 739.4 1983.6 739.7 1984.2 739.0 1984.8 739.9 1985.4 738.1 1986.0 742.9 1986.6 742.0 1987.3 736.1 1987.9 738.4 1988.5 740.0 1989.1 739.0 1989.7 736.5 1990.3 741.3 1990.9 738.0 1991.5 741.1 1992.1 740.6 1992.7 742.2 1993.3 737.9 1993.9 742.4 1994.5 737.1 1995.1 741.6 1995.8 740.8 1996.4 739.7 1997.0 737.2 1997.6 741.9 1998.2 740.6 1998.8 736.5 1999.4 735.0 2000.0 738.5 2000.6 738.3 2001.2 741.1 2001.8 740.2 2002.4 740.6 2003.0 739.3 2003.7 741.9 2004.3 739.3 2004.9 737.7 2005.5 736.2 2006.1 741.3 2006.7 739.3 2007.3 737.5 2007.9 739.0 2008.5 739.8 2009.1 741.7 2009.7 736.9 2010.3 739.9 2010.9 741.9 2011.5 741.4 2012.2 741.9 2012.8 743.8 2013.4 738.9 2014.0 739.3 2014.6 742.0 2015.2 742.9 2015.8 740.6 2016.4 739.4 2017.0 738.0 2017.6 741.0 2018.2 740.5 2018.8 738.0 2019.4 739.0 2020.1 738.2 2020.7 740.9 2021.3 739.7 2021.9 742.1 2022.5 742.2 2023.1 740.4 2023.7 741.7 2024.3 741.2 2024.9 741.7 2025.5 737.8 2026.1 739.2 2026.7 740.5 2027.3 737.6 2027.9 734.6 2028.6 734.5 2029.2 736.6 2029.8 730.3 2030.4 728.1 2031.0 729.1 2031.6 725.2 2032.2 721.8 2032.8 720.8 2033.4 723.2 2034.0 722.2 2034.6 726.7 2035.2 724.1 2035.8 724.2 2036.4 726.8 2037.1 727.6 2037.7 733.3 2038.3 731.3 2038.9 736.6 2039.5 736.0 2040.1 739.5 2040.7 736.5 2041.3 738.7 2041.9 734.1 2042.5 737.3 2043.1 737.1 2043.7 740.5 2044.3 738.5 2045.0 740.0 2045.6 737.6 2046.2 736.7 2046.8 738.8 2047.4 741.3 2048.0 739.0 2048.6 741.8 2049.2 738.5 2049.8 738.5 2050.4 738.6 2051.0 738.8 2051.6 738.0 2052.2 738.8 2052.8 737.9 2053.5 737.5 2054.1 742.0 2054.7 740.9 2055.3 739.0 2055.9 738.5 2056.5 737.0 2057.1 740.8 2057.7 738.7 2058.3 743.2 2058.9 736.9 2059.5 740.5 2060.1 742.0 2060.7 739.0 2061.3 743.4 2062.0 741.6 2062.6 741.5 2063.2 738.2 2063.8 741.5 2064.4 741.4 2065.0 739.9 2065.6 742.9 2066.2 740.4 2066.8 736.0 2067.4 740.6 2068.0 743.1 2068.6 739.1 2069.2 741.5 2069.9 739.1 2070.5 740.3 2071.1 735.6 2071.7 737.2 2072.3 739.8 2072.9 739.3 2073.5 737.0 2074.1 741.3 2074.7 740.6 2075.3 738.3 2075.9 736.1 2076.5 740.4 2077.1 738.3 2077.7 740.1 2078.4 740.4 2079.0 737.4 2079.6 737.2 2080.2 738.4 2080.8 736.1 2081.4 732.5 2082.0 736.5 2082.6 735.6 2083.2 733.7 2083.8 735.4 2084.4 733.8 2085.0 733.9 2085.6 736.4 2086.3 733.1 2086.9 733.2 2087.5 736.4 2088.1 735.1 2088.7 739.5 2089.3 737.3 2089.9 736.0 2090.5 738.8 2091.1 735.9 2091.7 742.4 2092.3 740.2 2092.9 741.5 2093.5 741.3 2094.1 740.8 2094.8 738.7 2095.4 742.0 2096.0 740.1 2096.6 739.4 2097.2 737.2 2097.8 743.0 2098.4 740.3 2099.0 740.0 2099.6 737.3 2100.2 742.2 2100.8 740.2 2101.4 742.1 2102.0 740.1 2102.6 738.6 2103.3 741.0 2103.9 737.3 2104.5 737.3 2105.1 739.8 2105.7 741.2 2106.3 741.8 2106.9 739.8 2107.5 739.7 2108.1 740.2 2108.7 739.5 2109.3 738.9 2109.9 740.6 2110.5 738.8 2111.2 739.2 2111.8 741.5 2112.4 739.7 2113.0 738.3 2113.6 740.3 2114.2 738.7 2114.8 740.0 2115.4 737.2 2116.0 737.2 2116.6 736.0 2117.2 740.3 2117.8 740.8 2118.4 740.4 2119.0 739.0 2119.7 738.8 2120.3 738.1 2120.9 739.6 2121.5 738.3 2122.1 737.0 2122.7 740.6 2123.3 740.5 2123.9 739.9 2124.5 739.0 2125.1 738.5 2125.7 739.4 2126.3 739.6 2126.9 737.3 2127.5 738.5 2128.2 737.4 2128.8 741.0 2129.4 736.8 2130.0 736.9 2130.6 737.5 2131.2 739.2 2131.8 737.4 2132.4 742.1 2133.0 740.4 2133.6 735.2 2134.2 739.8 2134.8 740.1 2135.4 737.5 2136.1 739.6 2136.7 739.9 2137.3 738.6 2137.9 739.5 2138.5 740.1 2139.1 738.6 2139.7 739.3 2140.3 737.3 2140.9 740.4 2141.5 738.2 2142.1 741.4 2142.7 742.9 2143.3 742.2 2143.9 738.6 2144.6 740.2 2145.2 739.0 2145.8 740.3 2146.4 738.0 2147.0 737.6 2147.6 739.2 2148.2 737.8 2148.8 741.2 2149.4 740.2 2150.0 739.5 2150.6 738.5 2151.2 738.4 2151.8 740.2 2152.5 738.6 2153.1 738.3 2153.7 741.3 2154.3 738.1 2154.9 737.1 2155.5 736.8 2156.1 738.9 2156.7 735.4 2157.3 734.8 2157.9 736.8 2158.5 736.1 2159.1 735.7 2159.7 730.9 2160.3 732.3 2161.0 729.7 2161.6 730.6 2162.2 726.4 2162.8 728.2 2163.4 730.1 2164.0 728.5 2164.6 724.0 2165.2 730.3 2165.8 729.8 2166.4 729.5 2167.0 730.8 2167.6 731.2 2168.2 734.7 2168.8 733.7 2169.5 731.9 2170.1 734.1 2170.7 739.2 2171.3 739.0 2171.9 739.0 2172.5 736.8 2173.1 739.5 2173.7 740.6 2174.3 739.3 2174.9 740.5 2175.5 741.3 2176.1 741.2 2176.7 740.2 2177.4 740.2 2178.0 737.3 2178.6 738.8 2179.2 740.6 2179.8 742.0 2180.4 739.3 2181.0 740.7 2181.6 738.7 2182.2 736.9 2182.8 739.2 2183.4 739.1 2184.0 736.8 2184.6 736.8 2185.2 738.3 2185.9 737.4 2186.5 739.2 2187.1 736.1 2187.7 739.9 2188.3 737.5 2188.9 739.3 2189.5 736.2 2190.1 740.6 2190.7 739.5 2191.3 742.9 2191.9 736.6 2192.5 736.4 2193.1 740.8 2193.7 741.0 2194.4 736.4 2195.0 740.2 2195.6 740.7 2196.2 741.3 2196.8 738.8 2197.4 735.6 2198.0 734.6 2198.6 741.1 2199.2 737.7 2199.8 738.1 2200.4 735.2 2201.0 734.6 2201.6 733.7 2202.3 731.3 2202.9 731.2 2203.5 728.4 2204.1 728.1 2204.7 729.3 2205.3 725.9 2205.9 723.3 2206.5 726.5 2207.1 725.1 2207.7 722.6 2208.3 719.7 2208.9 725.7 2209.5 726.9 2210.1 724.9 2210.8 729.9 2211.4 727.5 2212.0 730.1 2212.6 731.2 2213.2 733.6 2213.8 734.2 2214.4 737.9 2215.0 735.7 2215.6 737.8 2216.2 737.7 2216.8 738.5 2217.4 737.0 2218.0 738.7 2218.7 741.4 2219.3 740.7 2219.9 737.5 2220.5 739.0 2221.1 738.1 2221.7 738.7 2222.3 738.8 2222.9 737.9 2223.5 740.8 2224.1 741.5 2224.7 740.1 2225.3 739.0 2225.9 739.9 2226.5 738.2 2227.2 741.1 2227.8 743.2 2228.4 734.5 2229.0 739.5 2229.6 738.8 2230.2 738.9 2230.8 738.0 2231.4 735.8 2232.0 738.1 2232.6 737.5 2233.2 737.9 2233.8 738.1 2234.4 737.3 2235.0 742.1 2235.7 736.1 2236.3 737.6 2236.9 736.1 2237.5 738.1 2238.1 741.1 2238.7 738.5 2239.3 737.2 2239.9 736.4 2240.5 739.6 2241.1 737.5 2241.7 739.8 2242.3 737.5 2242.9 737.8 2243.6 738.6 2244.2 735.9 2244.8 740.8 2245.4 736.8 2246.0 739.0 2246.6 739.5 2247.2 742.8 2247.8 739.6 2248.4 740.3 2249.0 738.0 2249.6 738.7 2250.2 739.0 2250.8 740.9 2251.4 737.5 2252.1 739.9 2252.7 744.2 2253.3 737.8 2253.9 736.4 2254.5 738.8 2255.1 739.6 2255.7 742.7 2256.3 740.8 2256.9 742.0 2257.5 738.9 2258.1 740.1 2258.7 740.6 2259.3 738.7 2259.9 740.6 2260.6 739.5 2261.2 740.3 2261.8 737.4 2262.4 736.1 2263.0 741.8 2263.6 739.4 2264.2 739.0 2264.8 743.4 2265.4 740.6 2266.0 739.5 2266.6 737.6 2267.2 739.3 2267.8 739.0 2268.5 738.2 2269.1 741.1 2269.7 740.0 2270.3 739.7 2270.9 737.4 2271.5 737.7 2272.1 740.8 2272.7 739.3 2273.3 737.9 2273.9 739.4 2274.5 739.0 2275.1 738.2 2275.7 738.7 2276.3 740.3 2277.0 739.7 2277.6 737.7 2278.2 738.0 2278.8 739.8 2279.4 737.6 2280.0 739.6 2280.6 739.2 2281.2 737.2 2281.8 735.3 2282.4 737.9 2283.0 739.2 2283.6 739.1 2284.2 741.1 2284.9 738.9 2285.5 738.7 2286.1 739.3 2286.7 737.9 2287.3 741.5 2287.9 737.6 2288.5 737.2 2289.1 737.8 2289.7 740.9 2290.3 738.0 2290.9 737.8 2291.5 740.3 2292.1 741.4 2292.7 738.8 2293.4 740.8 2294.0 738.5 2294.6 741.9 2295.2 737.5 2295.8 738.7 2296.4 738.1 2297.0 736.9 2297.6 737.9 2298.2 738.7 2298.8 735.7 2299.4 739.9 2300.0 736.6 2300.6 736.3 2301.2 734.0 2301.9 734.9 2302.5 736.4 2303.1 733.0 2303.7 733.6 2304.3 733.5 2304.9 733.0 2305.5 736.7 2306.1 734.6 2306.7 739.2 2307.3 734.6 2307.9 736.5 2308.5 737.5 2309.1 736.0 2309.8 734.3 2310.4 736.9 2311.0 738.1 2311.6 736.7 2312.2 738.8 2312.8 735.3 2313.4 739.1 2314.0 742.3 2314.6 740.5 2315.2 740.7 2315.8 738.6 2316.4 738.6 2317.0 741.4 2317.6 739.0 2318.3 740.8 2318.9 738.0 2319.5 740.4 2320.1 740.1 2320.7 736.0 2321.3 739.5 2321.9 740.7 2322.5 740.6 2323.1 740.3 2323.7 741.9 2324.3 739.5 2324.9 738.3 2325.5 741.1 2326.1 743.2 2326.8 739.0 2327.4 742.1 2328.0 739.2 2328.6 737.0 2329.2 738.0 2329.8 738.0 2330.4 741.4 2331.0 739.6 2331.6 738.4 2332.2 739.5 2332.8 741.6 2333.4 739.0 2334.0 737.9 2334.7 739.7 2335.3 737.7 2335.9 740.0 2336.5 740.8 2337.1 739.5 2337.7 738.5 2338.3 739.5 2338.9 736.9 2339.5 742.0 2340.1 743.4 2340.7 739.4 2341.3 735.9 2341.9 738.2 2342.5 736.9 2343.2 736.2 2343.8 739.1 2344.4 739.1 2345.0 738.3 2345.6 741.2 2346.2 739.4 2346.8 737.7 2347.4 740.1 2348.0 737.2 2348.6 738.8" fill="none" stroke="#5e489e" stroke-width="6.5" stroke-linejoin="round" shape-rendering="crispEdges"/>
<path d="M192.6 1239.1L193.2 1239.0 193.8 1241.9 194.4 1239.6 195.0 1239.0 195.6 1237.5 196.2 1239.7 196.8 1237.6 197.4 1239.5 198.0 1241.3 198.6 1239.5 199.2 1240.2 199.9 1241.3 200.5 1242.0 201.1 1243.2 201.7 1242.3 202.3 1241.0 202.9 1240.5 203.5 1239.5 204.1 1238.3 204.7 1234.8 205.3 1239.9 205.9 1238.0 206.5 1241.4 207.1 1237.0 207.7 1236.3 208.4 1238.5 209.0 1241.4 209.6 1239.1 210.2 1238.9 210.8 1241.4 211.4 1239.3 212.0 1240.3 212.6 1239.0 213.2 1239.4 213.8 1245.4 214.4 1236.7 215.0 1242.2 215.6 1236.2 216.3 1236.6 216.9 1241.7 217.5 1239.9 218.1 1240.4 218.7 1242.0 219.3 1239.8 219.9 1237.8 220.5 1241.0 221.1 1239.4 221.7 1243.3 222.3 1240.8 222.9 1241.2 223.5 1237.5 224.1 1239.8 224.8 1239.7 225.4 1240.1 226.0 1236.7 226.6 1239.4 227.2 1240.2 227.8 1237.6 228.4 1237.2 229.0 1238.9 229.6 1239.7 230.2 1237.6 230.8 1239.7 231.4 1241.3 232.0 1239.2 232.6 1238.3 233.3 1240.1 233.9 1241.3 234.5 1241.2 235.1 1239.4 235.7 1240.4 236.3 1238.1 236.9 1239.2 237.5 1238.2 238.1 1237.8 238.7 1238.6 239.3 1237.6 239.9 1238.4 240.5 1238.2 241.2 1236.0 241.8 1236.9 242.4 1238.7 243.0 1237.0 243.6 1240.6 244.2 1241.5 244.8 1239.0 245.4 1238.2 246.0 1238.4 246.6 1235.4 247.2 1237.2 247.8 1234.6 248.4 1238.7 249.0 1239.5 249.7 1238.3 250.3 1237.7 250.9 1236.8 251.5 1238.6 252.1 1235.9 252.7 1239.6 253.3 1235.7 253.9 1235.2 254.5 1237.3 255.1 1238.3 255.7 1236.8 256.3 1237.7 256.9 1238.5 257.5 1236.8 258.2 1239.5 258.8 1237.6 259.4 1238.7 260.0 1236.4 260.6 1234.4 261.2 1237.9 261.8 1238.2 262.4 1235.2 263.0 1236.0 263.6 1233.7 264.2 1233.0 264.8 1237.7 265.4 1237.9 266.1 1234.2 266.7 1238.2 267.3 1234.1 267.9 1235.9 268.5 1235.1 269.1 1235.2 269.7 1230.7 270.3 1237.5 270.9 1233.4 271.5 1234.7 272.1 1236.8 272.7 1232.9 273.3 1234.9 273.9 1234.9 274.6 1234.7 275.2 1233.0 275.8 1235.6 276.4 1232.7 277.0 1234.6 277.6 1237.2 278.2 1234.3 278.8 1231.6 279.4 1233.7 280.0 1230.7 280.6 1231.0 281.2 1232.1 281.8 1229.9 282.5 1230.3 283.1 1224.6 283.7 1229.1 284.3 1230.3 284.9 1224.4 285.5 1226.6 286.1 1228.0 286.7 1225.6 287.3 1223.7 287.9 1222.3 288.5 1220.4 289.1 1218.6 289.7 1216.6 290.3 1209.6 291.0 1203.1 291.6 1199.8 292.2 1192.3 292.8 1184.2 293.4 1176.2 294.0 1167.3 294.6 1158.8 295.2 1157.9 295.8 1150.5 296.4 1148.9 297.0 1151.0 297.6 1156.9 298.2 1163.8 298.8 1170.1 299.5 1180.3 300.1 1180.2 300.7 1195.9 301.3 1200.1 301.9 1208.7 302.5 1208.1 303.1 1217.1 303.7 1226.3 304.3 1223.4 304.9 1229.4 305.5 1228.5 306.1 1230.6 306.7 1228.4 307.4 1231.1 308.0 1235.2 308.6 1234.3 309.2 1231.6 309.8 1233.0 310.4 1232.5 311.0 1234.4 311.6 1234.8 312.2 1234.0 312.8 1233.1 313.4 1234.2 314.0 1234.0 314.6 1233.9 315.2 1233.8 315.9 1231.4 316.5 1232.9 317.1 1232.7 317.7 1235.0 318.3 1233.9 318.9 1234.9 319.5 1234.2 320.1 1231.8 320.7 1234.0 321.3 1233.5 321.9 1235.1 322.5 1233.1 323.1 1235.3 323.7 1232.2 324.4 1235.0 325.0 1234.2 325.6 1233.3 326.2 1231.8 326.8 1231.2 327.4 1238.0 328.0 1232.3 328.6 1236.1 329.2 1233.4 329.8 1234.9 330.4 1235.2 331.0 1233.5 331.6 1235.1 332.3 1232.2 332.9 1235.6 333.5 1236.1 334.1 1232.9 334.7 1234.3 335.3 1234.6 335.9 1234.4 336.5 1234.3 337.1 1233.3 337.7 1234.2 338.3 1232.7 338.9 1232.6 339.5 1234.8 340.1 1232.6 340.8 1232.5 341.4 1232.3 342.0 1234.7 342.6 1231.0 343.2 1235.3 343.8 1236.6 344.4 1232.8 345.0 1233.6 345.6 1235.8 346.2 1232.1 346.8 1231.9 347.4 1234.2 348.0 1233.0 348.7 1237.2 349.3 1231.0 349.9 1230.0 350.5 1233.5 351.1 1232.8 351.7 1230.9 352.3 1234.9 352.9 1233.6 353.5 1237.4 354.1 1230.6 354.7 1231.1 355.3 1233.2 355.9 1232.6 356.5 1236.0 357.2 1233.8 357.8 1235.3 358.4 1231.6 359.0 1233.9 359.6 1234.2 360.2 1234.0 360.8 1233.5 361.4 1232.9 362.0 1237.6 362.6 1233.3 363.2 1233.2 363.8 1231.9 364.4 1232.7 365.0 1233.5 365.7 1230.8 366.3 1235.5 366.9 1232.8 367.5 1235.0 368.1 1230.6 368.7 1234.2 369.3 1230.2 369.9 1233.4 370.5 1234.2 371.1 1235.9 371.7 1229.4 372.3 1233.5 372.9 1234.3 373.6 1229.9 374.2 1229.1 374.8 1229.8 375.4 1231.8 376.0 1229.8 376.6 1229.1 377.2 1233.0 377.8 1232.2 378.4 1231.1 379.0 1232.4 379.6 1228.9 380.2 1231.1 380.8 1232.5 381.4 1232.9 382.1 1230.7 382.7 1233.4 383.3 1229.2 383.9 1231.6 384.5 1231.0 385.1 1235.0 385.7 1236.8 386.3 1233.4 386.9 1229.5 387.5 1230.0 388.1 1234.4 388.7 1236.2 389.3 1232.4 389.9 1233.8 390.6 1231.0 391.2 1230.8 391.8 1235.1 392.4 1236.1 393.0 1233.9 393.6 1233.5 394.2 1233.3 394.8 1232.3 395.4 1232.3 396.0 1235.1 396.6 1233.5 397.2 1233.3 397.8 1233.2 398.5 1231.1 399.1 1232.1 399.7 1233.5 400.3 1232.1 400.9 1230.6 401.5 1234.4 402.1 1233.7 402.7 1231.9 403.3 1232.8 403.9 1234.4 404.5 1233.1 405.1 1234.0 405.7 1233.2 406.3 1233.8 407.0 1233.3 407.6 1233.5 408.2 1234.1 408.8 1234.2 409.4 1235.4 410.0 1235.3 410.6 1232.0 411.2 1229.0 411.8 1232.1 412.4 1234.3 413.0 1232.3 413.6 1231.0 414.2 1229.2 414.9 1231.0 415.5 1232.4 416.1 1232.9 416.7 1230.8 417.3 1229.3 417.9 1233.6 418.5 1228.3 419.1 1234.7 419.7 1231.7 420.3 1230.8 420.9 1230.0 421.5 1231.7 422.1 1230.0 422.7 1232.4 423.4 1230.9 424.0 1233.0 424.6 1230.6 425.2 1230.1 425.8 1230.0 426.4 1234.8 427.0 1232.6 427.6 1232.4 428.2 1235.4 428.8 1231.0 429.4 1233.6 430.0 1233.0 430.6 1232.9 431.2 1233.7 431.9 1233.2 432.5 1235.1 433.1 1230.9 433.7 1229.4 434.3 1232.4 434.9 1230.2 435.5 1233.4 436.1 1231.1 436.7 1233.4 437.3 1234.9 437.9 1231.7 438.5 1231.3 439.1 1230.8 439.8 1231.8 440.4 1230.1 441.0 1232.8 441.6 1233.3 442.2 1229.7 442.8 1235.6 443.4 1231.0 444.0 1232.2 444.6 1232.3 445.2 1230.6 445.8 1235.2 446.4 1228.3 447.0 1231.3 447.6 1229.6 448.3 1232.5 448.9 1234.3 449.5 1233.8 450.1 1230.0 450.7 1231.7 451.3 1231.5 451.9 1231.5 452.5 1229.5 453.1 1232.7 453.7 1227.7 454.3 1235.7 454.9 1232.0 455.5 1231.1 456.1 1230.7 456.8 1234.3 457.4 1231.4 458.0 1234.1 458.6 1230.3 459.2 1231.6 459.8 1231.1 460.4 1232.4 461.0 1233.5 461.6 1229.6 462.2 1233.7 462.8 1230.3 463.4 1231.9 464.0 1228.5 464.7 1230.4 465.3 1230.1 465.9 1230.8 466.5 1233.4 467.1 1231.8 467.7 1230.8 468.3 1231.4 468.9 1231.1 469.5 1229.9 470.1 1231.0 470.7 1233.9 471.3 1232.2 471.9 1231.9 472.5 1234.2 473.2 1230.3 473.8 1231.2 474.4 1229.8 475.0 1232.9 475.6 1232.4 476.2 1230.1 476.8 1231.7 477.4 1232.3 478.0 1231.9 478.6 1236.4 479.2 1233.8 479.8 1233.3 480.4 1234.5 481.1 1234.7 481.7 1230.2 482.3 1231.2 482.9 1232.7 483.5 1228.4 484.1 1233.1 484.7 1232.1 485.3 1231.5 485.9 1232.8 486.5 1234.4 487.1 1233.9 487.7 1232.7 488.3 1233.0 488.9 1234.2 489.6 1231.8 490.2 1233.9 490.8 1231.8 491.4 1232.7 492.0 1233.9 492.6 1232.7 493.2 1230.3 493.8 1232.7 494.4 1230.5 495.0 1231.6 495.6 1232.0 496.2 1233.1 496.8 1231.8 497.4 1235.8 498.1 1233.7 498.7 1234.0 499.3 1233.4 499.9 1233.9 500.5 1231.5 501.1 1232.3 501.7 1235.0 502.3 1234.8 502.9 1233.6 503.5 1236.1 504.1 1231.0 504.7 1230.8 505.3 1231.4 506.0 1234.6 506.6 1230.1 507.2 1234.7 507.8 1232.5 508.4 1235.4 509.0 1235.9 509.6 1234.3 510.2 1232.1 510.8 1232.4 511.4 1236.5 512.0 1235.7 512.6 1233.9 513.2 1234.5 513.8 1237.3 514.5 1234.8 515.1 1236.6 515.7 1233.1 516.3 1232.8 516.9 1232.6 517.5 1233.0 518.1 1235.4 518.7 1231.1 519.3 1235.1 519.9 1231.6 520.5 1234.0 521.1 1231.4 521.7 1232.7 522.3 1238.1 523.0 1232.1 523.6 1233.8 524.2 1233.1 524.8 1230.3 525.4 1235.0 526.0 1232.9 526.6 1231.5 527.2 1232.9 527.8 1235.6 528.4 1230.4 529.0 1236.0 529.6 1230.7 530.2 1235.2 530.9 1232.6 531.5 1232.0 532.1 1238.1 532.7 1235.2 533.3 1235.7 533.9 1233.4 534.5 1237.6 535.1 1237.3 535.7 1236.0 536.3 1234.8 536.9 1237.1 537.5 1234.6 538.1 1237.2 538.7 1237.0 539.4 1237.3 540.0 1231.6 540.6 1235.8 541.2 1234.6 541.8 1233.8 542.4 1236.3 543.0 1233.6 543.6 1234.6 544.2 1235.4 544.8 1234.3 545.4 1237.1 546.0 1235.3 546.6 1236.3 547.3 1232.1 547.9 1235.7 548.5 1234.5 549.1 1236.7 549.7 1234.0 550.3 1235.2 550.9 1232.9 551.5 1233.4 552.1 1232.5 552.7 1237.4 553.3 1233.2 553.9 1234.3 554.5 1234.0 555.1 1234.1 555.8 1235.8 556.4 1235.3 557.0 1234.6 557.6 1235.2 558.2 1237.5 558.8 1234.1 559.4 1233.2 560.0 1234.5 560.6 1236.7 561.2 1237.4 561.8 1234.5 562.4 1236.4 563.0 1234.7 563.6 1236.7 564.3 1234.7 564.9 1236.6 565.5 1235.7 566.1 1232.7 566.7 1235.1 567.3 1234.7 567.9 1239.6 568.5 1234.8 569.1 1237.0 569.7 1233.6 570.3 1239.9 570.9 1237.7 571.5 1235.4 572.2 1234.0 572.8 1235.2 573.4 1234.0 574.0 1237.3 574.6 1232.4 575.2 1236.7 575.8 1239.5 576.4 1237.5 577.0 1239.1 577.6 1236.8 578.2 1236.1 578.8 1235.8 579.4 1235.3 580.0 1239.5 580.7 1235.0 581.3 1234.5 581.9 1236.7 582.5 1235.9 583.1 1237.7 583.7 1237.7 584.3 1240.1 584.9 1230.9 585.5 1236.7 586.1 1235.9 586.7 1235.4 587.3 1236.6 587.9 1236.3 588.5 1236.6 589.2 1236.3 589.8 1238.1 590.4 1239.1 591.0 1233.9 591.6 1235.0 592.2 1235.5 592.8 1234.1 593.4 1232.6 594.0 1233.9 594.6 1230.4 595.2 1233.6 595.8 1229.7 596.4 1229.6 597.1 1229.7 597.7 1232.0 598.3 1230.1 598.9 1226.8 599.5 1226.3 600.1 1222.8 600.7 1218.0 601.3 1216.4 601.9 1213.4 602.5 1209.2 603.1 1207.7 603.7 1201.7 604.3 1196.8 604.9 1192.7 605.6 1187.6 606.2 1179.5 606.8 1177.5 607.4 1169.8 608.0 1158.1 608.6 1152.9 609.2 1150.2 609.8 1135.2 610.4 1129.7 611.0 1122.6 611.6 1108.6 612.2 1105.4 612.8 1093.9 613.5 1085.8 614.1 1076.1 614.7 1070.6 615.3 1062.9 615.9 1056.6 616.5 1045.3 617.1 1038.8 617.7 1035.3 618.3 1027.9 618.9 1025.8 619.5 1019.4 620.1 1017.9 620.7 1018.5 621.3 1017.8 622.0 1014.6 622.6 1016.1 623.2 1024.0 623.8 1025.0 624.4 1030.4 625.0 1034.4 625.6 1035.0 626.2 1046.6 626.8 1060.8 627.4 1060.4 628.0 1066.1 628.6 1073.7 629.2 1085.3 629.8 1096.0 630.5 1099.2 631.1 1113.3 631.7 1122.0 632.3 1127.4 632.9 1140.2 633.5 1142.8 634.1 1150.3 634.7 1159.2 635.3 1168.1 635.9 1172.7 636.5 1179.0 637.1 1187.1 637.7 1189.0 638.4 1195.3 639.0 1204.3 639.6 1204.4 640.2 1209.7 640.8 1212.1 641.4 1216.5 642.0 1218.2 642.6 1220.7 643.2 1221.0 643.8 1226.2 644.4 1228.4 645.0 1228.0 645.6 1230.2 646.2 1231.4 646.9 1231.3 647.5 1233.8 648.1 1232.1 648.7 1234.2 649.3 1233.2 649.9 1231.3 650.5 1230.8 651.1 1233.4 651.7 1231.4 652.3 1233.8 652.9 1234.9 653.5 1233.0 654.1 1233.1 654.7 1237.9 655.4 1235.0 656.0 1234.9 656.6 1235.5 657.2 1234.0 657.8 1232.4 658.4 1237.5 659.0 1232.4 659.6 1235.0 660.2 1236.2 660.8 1236.4 661.4 1235.5 662.0 1232.1 662.6 1235.7 663.3 1236.5 663.9 1233.5 664.5 1234.3 665.1 1236.3 665.7 1233.3 666.3 1234.6 666.9 1233.0 667.5 1234.4 668.1 1235.2 668.7 1233.2 669.3 1231.3 669.9 1232.5 670.5 1232.9 671.1 1232.6 671.8 1232.4 672.4 1234.6 673.0 1232.9 673.6 1233.6 674.2 1233.9 674.8 1234.3 675.4 1233.0 676.0 1232.6 676.6 1232.8 677.2 1233.7 677.8 1232.3 678.4 1229.7 679.0 1234.5 679.7 1231.4 680.3 1233.1 680.9 1228.7 681.5 1231.2 682.1 1227.7 682.7 1230.0 683.3 1229.8 683.9 1227.9 684.5 1225.6 685.1 1228.7 685.7 1225.4 686.3 1221.1 686.9 1220.9 687.5 1224.3 688.2 1217.4 688.8 1215.5 689.4 1220.6 690.0 1216.5 690.6 1219.1 691.2 1213.8 691.8 1214.7 692.4 1214.8 693.0 1213.9 693.6 1212.1 694.2 1215.2 694.8 1215.1 695.4 1215.0 696.0 1213.1 696.7 1213.2 697.3 1212.0 697.9 1212.6 698.5 1212.9 699.1 1215.3 699.7 1213.1 700.3 1212.7 700.9 1213.6 701.5 1209.0 702.1 1213.7 702.7 1210.1 703.3 1212.4 703.9 1210.9 704.6 1207.6 705.2 1209.0 705.8 1206.4 706.4 1208.8 707.0 1212.2 707.6 1211.8 708.2 1209.9 708.8 1212.9 709.4 1211.9 710.0 1211.6 710.6 1213.0 711.2 1213.2 711.8 1211.0 712.4 1213.3 713.1 1211.1 713.7 1210.8 714.3 1207.4 714.9 1210.9 715.5 1212.3 716.1 1211.1 716.7 1209.0 717.3 1212.2 717.9 1208.9 718.5 1213.9 719.1 1214.5 719.7 1211.6 720.3 1216.7 720.9 1215.7 721.6 1216.0 722.2 1219.1 722.8 1218.5 723.4 1216.3 724.0 1219.5 724.6 1221.0 725.2 1219.9 725.8 1222.1 726.4 1222.5 727.0 1222.1 727.6 1218.5 728.2 1221.3 728.8 1219.8 729.5 1218.7 730.1 1218.8 730.7 1218.9 731.3 1219.1 731.9 1215.9 732.5 1215.3 733.1 1209.4 733.7 1209.1 734.3 1203.0 734.9 1200.8 735.5 1198.8 736.1 1188.8 736.7 1177.2 737.3 1166.0 738.0 1150.3 738.6 1129.9 739.2 1107.2 739.8 1075.5 740.4 1051.2 741.0 1021.1 741.6 998.2 742.2 978.8 742.8 974.4 743.4 972.2 744.0 987.2 744.6 1007.2 745.2 1030.5 745.9 1054.1 746.5 1075.0 747.1 1098.1 747.7 1114.0 748.3 1130.8 748.9 1145.4 749.5 1153.0 750.1 1160.4 750.7 1168.5 751.3 1170.4 751.9 1174.8 752.5 1180.7 753.1 1183.9 753.7 1187.3 754.4 1189.2 755.0 1193.0 755.6 1196.2 756.2 1200.2 756.8 1203.5 757.4 1206.2 758.0 1205.5 758.6 1211.3 759.2 1209.6 759.8 1214.3 760.4 1214.8 761.0 1215.1 761.6 1216.7 762.2 1216.8 762.9 1219.5 763.5 1221.3 764.1 1221.2 764.7 1221.8 765.3 1223.0 765.9 1222.1 766.5 1221.9 767.1 1223.1 767.7 1224.3 768.3 1219.5 768.9 1223.8 769.5 1223.9 770.1 1221.2 770.8 1227.8 771.4 1226.4 772.0 1225.2 772.6 1225.9 773.2 1228.4 773.8 1226.4 774.4 1228.2 775.0 1226.4 775.6 1226.2 776.2 1226.7 776.8 1225.0 777.4 1227.7 778.0 1225.4 778.6 1228.5 779.3 1226.5 779.9 1225.1 780.5 1230.7 781.1 1223.9 781.7 1223.7 782.3 1229.3 782.9 1225.3 783.5 1229.2 784.1 1227.9 784.7 1227.0 785.3 1228.2 785.9 1226.3 786.5 1224.2 787.1 1227.6 787.8 1230.1 788.4 1225.7 789.0 1226.2 789.6 1224.8 790.2 1229.2 790.8 1225.7 791.4 1225.9 792.0 1231.3 792.6 1225.6 793.2 1224.2 793.8 1230.8 794.4 1225.8 795.0 1225.0 795.7 1225.2 796.3 1229.2 796.9 1230.3 797.5 1226.6 798.1 1225.4 798.7 1227.1 799.3 1223.6 799.9 1226.0 800.5 1222.4 801.1 1226.2 801.7 1224.2 802.3 1222.1 802.9 1225.3 803.5 1224.0 804.2 1223.2 804.8 1223.0 805.4 1222.1 806.0 1218.1 806.6 1217.7 807.2 1219.0 807.8 1218.0 808.4 1215.8 809.0 1216.7 809.6 1214.9 810.2 1218.9 810.8 1213.9 811.4 1211.8 812.1 1212.1 812.7 1210.7 813.3 1209.0 813.9 1210.3 814.5 1209.2 815.1 1206.3 815.7 1206.6 816.3 1209.4 816.9 1209.8 817.5 1209.4 818.1 1206.6 818.7 1211.2 819.3 1210.3 819.9 1212.0 820.6 1213.8 821.2 1217.3 821.8 1217.2 822.4 1216.1 823.0 1220.7 823.6 1219.4 824.2 1219.6 824.8 1223.9 825.4 1220.9 826.0 1225.4 826.6 1221.7 827.2 1223.7 827.8 1227.0 828.4 1224.7 829.1 1224.3 829.7 1226.0 830.3 1227.8 830.9 1226.6 831.5 1227.8 832.1 1225.8 832.7 1225.7 833.3 1228.0 833.9 1229.0 834.5 1229.4 835.1 1230.2 835.7 1226.5 836.3 1227.9 837.0 1230.2 837.6 1228.7 838.2 1228.5 838.8 1227.8 839.4 1228.4 840.0 1227.4 840.6 1225.7 841.2 1227.7 841.8 1229.4 842.4 1226.6 843.0 1229.4 843.6 1229.0 844.2 1228.2 844.8 1230.5 845.5 1227.0 846.1 1228.9 846.7 1228.7 847.3 1228.7 847.9 1227.2 848.5 1229.7 849.1 1230.3 849.7 1231.4 850.3 1227.5 850.9 1228.3 851.5 1230.1 852.1 1229.3 852.7 1229.8 853.3 1228.1 854.0 1226.4 854.6 1230.5 855.2 1228.7 855.8 1225.5 856.4 1229.1 857.0 1227.8 857.6 1229.8 858.2 1229.4 858.8 1228.7 859.4 1230.7 860.0 1229.7 860.6 1229.3 861.2 1233.8 861.9 1231.5 862.5 1228.1 863.1 1230.7 863.7 1228.8 864.3 1229.4 864.9 1226.7 865.5 1225.1 866.1 1226.2 866.7 1228.7 867.3 1226.8 867.9 1228.2 868.5 1223.2 869.1 1228.5 869.7 1227.9 870.4 1227.0 871.0 1226.3 871.6 1226.1 872.2 1222.2 872.8 1221.7 873.4 1224.7 874.0 1223.7 874.6 1225.8 875.2 1220.3 875.8 1222.7 876.4 1226.4 877.0 1226.9 877.6 1225.4 878.3 1228.4 878.9 1226.0 879.5 1229.7 880.1 1227.5 880.7 1227.9 881.3 1225.4 881.9 1226.4 882.5 1228.6 883.1 1227.5 883.7 1227.9 884.3 1226.3 884.9 1228.4 885.5 1229.4 886.1 1230.5 886.8 1229.4 887.4 1232.7 888.0 1230.1 888.6 1229.3 889.2 1230.9 889.8 1231.9 890.4 1229.4 891.0 1232.6 891.6 1230.0 892.2 1229.9 892.8 1227.7 893.4 1231.4 894.0 1234.3 894.6 1232.6 895.3 1230.1 895.9 1230.1 896.5 1230.2 897.1 1227.9 897.7 1228.2 898.3 1231.7 898.9 1230.3 899.5 1230.2 900.1 1231.5 900.7 1231.0 901.3 1230.4 901.9 1230.3 902.5 1231.4 903.2 1227.8 903.8 1230.1 904.4 1230.4 905.0 1233.2 905.6 1233.1 906.2 1231.3 906.8 1230.4 907.4 1230.6 908.0 1232.4 908.6 1228.2 909.2 1231.4 909.8 1229.9 910.4 1233.2 911.0 1233.7 911.7 1229.3 912.3 1230.3 912.9 1235.3 913.5 1234.6 914.1 1233.9 914.7 1232.0 915.3 1229.1 915.9 1228.3 916.5 1231.3 917.1 1232.2 917.7 1232.7 918.3 1229.8 918.9 1228.9 919.5 1232.6 920.2 1236.8 920.8 1236.2 921.4 1232.4 922.0 1230.8 922.6 1233.4 923.2 1230.6 923.8 1234.4 924.4 1230.7 925.0 1235.0 925.6 1230.1 926.2 1230.6 926.8 1229.2 927.4 1231.6 928.1 1232.2 928.7 1232.0 929.3 1231.5 929.9 1229.1 930.5 1231.7 931.1 1232.9 931.7 1230.9 932.3 1232.5 932.9 1228.6 933.5 1227.9 934.1 1230.1 934.7 1225.5 935.3 1225.3 935.9 1226.2 936.6 1227.6 937.2 1224.1 937.8 1221.1 938.4 1224.9 939.0 1220.8 939.6 1220.2 940.2 1217.9 940.8 1215.7 941.4 1215.8 942.0 1210.0 942.6 1210.1 943.2 1207.7 943.8 1203.7 944.5 1201.4 945.1 1193.4 945.7 1194.7 946.3 1190.9 946.9 1187.2 947.5 1179.6 948.1 1175.6 948.7 1170.4 949.3 1168.2 949.9 1167.1 950.5 1160.1 951.1 1158.4 951.7 1158.4 952.3 1153.6 953.0 1157.0 953.6 1154.1 954.2 1155.7 954.8 1154.0 955.4 1153.4 956.0 1157.8 956.6 1159.7 957.2 1161.9 957.8 1164.3 958.4 1170.5 959.0 1170.4 959.6 1171.5 960.2 1178.9 960.8 1181.1 961.5 1187.2 962.1 1191.4 962.7 1197.7 963.3 1197.6 963.9 1201.8 964.5 1204.5 965.1 1207.7 965.7 1211.3 966.3 1215.8 966.9 1217.5 967.5 1216.7 968.1 1215.3 968.7 1219.2 969.4 1223.4 970.0 1224.0 970.6 1226.8 971.2 1228.6 971.8 1230.0 972.4 1228.2 973.0 1231.8 973.6 1226.0 974.2 1229.7 974.8 1231.9 975.4 1230.3 976.0 1230.7 976.6 1234.8 977.2 1228.9 977.9 1235.4 978.5 1230.7 979.1 1232.0 979.7 1230.2 980.3 1233.5 980.9 1232.0 981.5 1230.6 982.1 1231.4 982.7 1228.1 983.3 1231.7 983.9 1231.5 984.5 1236.1 985.1 1231.7 985.8 1232.8 986.4 1232.4 987.0 1233.7 987.6 1235.1 988.2 1232.0 988.8 1233.6 989.4 1233.9 990.0 1235.5 990.6 1233.8 991.2 1235.1 991.8 1233.8 992.4 1234.3 993.0 1233.2 993.6 1232.4 994.3 1234.6 994.9 1232.4 995.5 1231.2 996.1 1235.2 996.7 1230.6 997.3 1237.6 997.9 1232.7 998.5 1231.5 999.1 1231.8 999.7 1232.1 1000.3 1232.1 1000.9 1234.1 1001.5 1234.7 1002.1 1236.3 1002.8 1234.2 1003.4 1232.3 1004.0 1232.9 1004.6 1231.7 1005.2 1237.8 1005.8 1231.1 1006.4 1230.7 1007.0 1235.2 1007.6 1232.2 1008.2 1231.8 1008.8 1228.3 1009.4 1232.3 1010.0 1232.5 1010.7 1230.8 1011.3 1231.0 1011.9 1230.7 1012.5 1231.3 1013.1 1230.8 1013.7 1232.1 1014.3 1231.0 1014.9 1229.9 1015.5 1230.2 1016.1 1230.2 1016.7 1229.6 1017.3 1230.2 1017.9 1230.0 1018.5 1230.1 1019.2 1226.7 1019.8 1230.2 1020.4 1229.6 1021.0 1232.7 1021.6 1229.0 1022.2 1228.8 1022.8 1228.2 1023.4 1229.3 1024.0 1230.7 1024.6 1226.1 1025.2 1227.4 1025.8 1228.8 1026.4 1226.8 1027.0 1221.8 1027.7 1220.0 1028.3 1225.2 1028.9 1221.2 1029.5 1224.8 1030.1 1222.7 1030.7 1223.0 1031.3 1220.3 1031.9 1220.7 1032.5 1217.1 1033.1 1214.5 1033.7 1212.5 1034.3 1208.3 1034.9 1206.3 1035.6 1196.4 1036.2 1196.7 1036.8 1189.0 1037.4 1178.7 1038.0 1174.0 1038.6 1156.4 1039.2 1144.1 1039.8 1134.7 1040.4 1115.4 1041.0 1097.9 1041.6 1079.1 1042.2 1059.5 1042.8 1041.6 1043.4 1019.4 1044.1 1000.2 1044.7 984.4 1045.3 968.8 1045.9 955.6 1046.5 947.7 1047.1 948.2 1047.7 956.5 1048.3 968.0 1048.9 980.9 1049.5 1002.1 1050.1 1021.0 1050.7 1036.7 1051.3 1060.3 1052.0 1080.1 1052.6 1100.3 1053.2 1115.3 1053.8 1132.3 1054.4 1144.5 1055.0 1159.7 1055.6 1170.0 1056.2 1183.1 1056.8 1190.6 1057.4 1198.4 1058.0 1202.2 1058.6 1204.2 1059.2 1212.2 1059.8 1211.0 1060.5 1216.3 1061.1 1219.1 1061.7 1219.2 1062.3 1219.5 1062.9 1221.2 1063.5 1221.1 1064.1 1223.8 1064.7 1223.0 1065.3 1225.8 1065.9 1223.9 1066.5 1221.9 1067.1 1226.3 1067.7 1226.0 1068.3 1228.9 1069.0 1230.6 1069.6 1228.0 1070.2 1226.0 1070.8 1223.6 1071.4 1230.1 1072.0 1226.2 1072.6 1229.7 1073.2 1223.5 1073.8 1230.6 1074.4 1227.0 1075.0 1229.4 1075.6 1227.8 1076.2 1229.5 1076.9 1230.5 1077.5 1228.4 1078.1 1230.5 1078.7 1228.2 1079.3 1228.4 1079.9 1229.6 1080.5 1231.1 1081.1 1232.0 1081.7 1230.9 1082.3 1232.9 1082.9 1232.2 1083.5 1226.5 1084.1 1228.3 1084.7 1231.1 1085.4 1231.1 1086.0 1232.3 1086.6 1231.2 1087.2 1228.9 1087.8 1230.0 1088.4 1231.3 1089.0 1231.3 1089.6 1232.3 1090.2 1232.3 1090.8 1233.1 1091.4 1230.7 1092.0 1231.0 1092.6 1231.5 1093.2 1228.1 1093.9 1228.7 1094.5 1230.9 1095.1 1233.3 1095.7 1228.8 1096.3 1230.3 1096.9 1229.2 1097.5 1228.8 1098.1 1229.4 1098.7 1227.6 1099.3 1225.2 1099.9 1226.6 1100.5 1225.6 1101.1 1222.5 1101.8 1218.4 1102.4 1220.7 1103.0 1214.1 1103.6 1216.3 1104.2 1213.1 1104.8 1210.7 1105.4 1208.5 1106.0 1208.3 1106.6 1202.9 1107.2 1204.0 1107.8 1196.6 1108.4 1193.5 1109.0 1194.2 1109.6 1190.1 1110.3 1189.4 1110.9 1185.9 1111.5 1184.2 1112.1 1183.9 1112.7 1183.1 1113.3 1182.6 1113.9 1180.6 1114.5 1181.0 1115.1 1188.3 1115.7 1185.7 1116.3 1186.7 1116.9 1189.9 1117.5 1191.5 1118.2 1194.9 1118.8 1196.2 1119.4 1200.0 1120.0 1198.8 1120.6 1205.2 1121.2 1208.8 1121.8 1206.2 1122.4 1210.5 1123.0 1213.4 1123.6 1211.9 1124.2 1211.0 1124.8 1217.5 1125.4 1215.7 1126.0 1214.6 1126.7 1212.8 1127.3 1211.4 1127.9 1213.0 1128.5 1217.4 1129.1 1212.1 1129.7 1216.1 1130.3 1213.2 1130.9 1213.1 1131.5 1212.5 1132.1 1211.9 1132.7 1215.0 1133.3 1209.8 1133.9 1210.5 1134.5 1214.6 1135.2 1212.8 1135.8 1213.2 1136.4 1214.5 1137.0 1211.5 1137.6 1214.8 1138.2 1212.0 1138.8 1214.4 1139.4 1214.9 1140.0 1216.7 1140.6 1218.9 1141.2 1219.1 1141.8 1217.8 1142.4 1218.3 1143.1 1221.5 1143.7 1216.9 1144.3 1219.9 1144.9 1222.8 1145.5 1219.4 1146.1 1220.4 1146.7 1221.6 1147.3 1225.2 1147.9 1225.1 1148.5 1223.1 1149.1 1224.2 1149.7 1220.5 1150.3 1221.5 1150.9 1220.3 1151.6 1221.7 1152.2 1223.9 1152.8 1223.8 1153.4 1223.8 1154.0 1225.4 1154.6 1223.9 1155.2 1224.9 1155.8 1227.6 1156.4 1227.6 1157.0 1227.8 1157.6 1225.9 1158.2 1226.0 1158.8 1231.4 1159.4 1229.0 1160.1 1228.9 1160.7 1232.2 1161.3 1229.3 1161.9 1231.3 1162.5 1229.0 1163.1 1229.9 1163.7 1234.3 1164.3 1231.4 1164.9 1229.8 1165.5 1233.0 1166.1 1230.8 1166.7 1230.0 1167.3 1233.3 1168.0 1232.9 1168.6 1231.8 1169.2 1232.6 1169.8 1231.4 1170.4 1234.6 1171.0 1233.7 1171.6 1230.8 1172.2 1233.8 1172.8 1230.0 1173.4 1230.5 1174.0 1231.8 1174.6 1229.6 1175.2 1232.6 1175.8 1233.8 1176.5 1232.9 1177.1 1233.6 1177.7 1233.9 1178.3 1232.0 1178.9 1237.7 1179.5 1233.9 1180.1 1233.5 1180.7 1231.9 1181.3 1232.4 1181.9 1231.8 1182.5 1232.2 1183.1 1228.2 1183.7 1232.7 1184.4 1229.8 1185.0 1231.1 1185.6 1231.7 1186.2 1232.3 1186.8 1232.4 1187.4 1232.6 1188.0 1233.2 1188.6 1232.3 1189.2 1233.4 1189.8 1233.4 1190.4 1229.9 1191.0 1233.1 1191.6 1235.3 1192.2 1231.0 1192.9 1234.5 1193.5 1231.0 1194.1 1231.1 1194.7 1233.7 1195.3 1233.9 1195.9 1231.8 1196.5 1234.9 1197.1 1234.0 1197.7 1233.8 1198.3 1233.5 1198.9 1232.3 1199.5 1234.3 1200.1 1234.0 1200.7 1232.4 1201.4 1234.0 1202.0 1232.2 1202.6 1234.1 1203.2 1232.3 1203.8 1231.4 1204.4 1232.0 1205.0 1233.3 1205.6 1235.2 1206.2 1230.5 1206.8 1232.2 1207.4 1230.3 1208.0 1230.2 1208.6 1230.7 1209.3 1230.0 1209.9 1234.0 1210.5 1231.3 1211.1 1229.3 1211.7 1228.9 1212.3 1229.7 1212.9 1229.0 1213.5 1227.4 1214.1 1227.0 1214.7 1230.3 1215.3 1224.9 1215.9 1227.1 1216.5 1220.4 1217.1 1225.4 1217.8 1225.9 1218.4 1225.7 1219.0 1223.4 1219.6 1223.7 1220.2 1228.1 1220.8 1223.2 1221.4 1223.9 1222.0 1226.5 1222.6 1228.6 1223.2 1223.7 1223.8 1226.9 1224.4 1228.2 1225.0 1231.7 1225.6 1229.3 1226.3 1228.3 1226.9 1228.0 1227.5 1231.4 1228.1 1231.1 1228.7 1231.2 1229.3 1231.3 1229.9 1229.1 1230.5 1231.8 1231.1 1230.1 1231.7 1231.1 1232.3 1230.8 1232.9 1229.4 1233.5 1228.1 1234.2 1228.9 1234.8 1229.5 1235.4 1231.2 1236.0 1229.2 1236.6 1226.5 1237.2 1228.4 1237.8 1227.1 1238.4 1228.5 1239.0 1227.7 1239.6 1226.2 1240.2 1227.9 1240.8 1226.3 1241.4 1227.0 1242.0 1225.8 1242.7 1226.1 1243.3 1232.0 1243.9 1228.9 1244.5 1229.1 1245.1 1226.6 1245.7 1230.5 1246.3 1229.1 1246.9 1227.6 1247.5 1231.0 1248.1 1232.7 1248.7 1232.6 1249.3 1231.8 1249.9 1231.4 1250.6 1232.2 1251.2 1229.8 1251.8 1233.9 1252.4 1229.4 1253.0 1230.5 1253.6 1230.6 1254.2 1228.9 1254.8 1231.1 1255.4 1230.8 1256.0 1229.4 1256.6 1229.3 1257.2 1232.6 1257.8 1227.3 1258.4 1230.6 1259.1 1232.3 1259.7 1232.5 1260.3 1231.4 1260.9 1228.9 1261.5 1230.6 1262.1 1229.3 1262.7 1229.0 1263.3 1231.6 1263.9 1228.6 1264.5 1232.0 1265.1 1227.6 1265.7 1230.0 1266.3 1230.2 1266.9 1229.2 1267.6 1231.9 1268.2 1227.7 1268.8 1229.0 1269.4 1230.0 1270.0 1229.9 1270.6 1227.9 1271.2 1229.5 1271.8 1229.0 1272.4 1230.1 1273.0 1225.5 1273.6 1229.2 1274.2 1227.2 1274.8 1227.5 1275.5 1227.2 1276.1 1226.9 1276.7 1227.6 1277.3 1227.3 1277.9 1226.0 1278.5 1224.5 1279.1 1224.6 1279.7 1218.8 1280.3 1221.0 1280.9 1220.1 1281.5 1218.8 1282.1 1217.9 1282.7 1215.2 1283.3 1212.7 1284.0 1210.4 1284.6 1209.3 1285.2 1205.8 1285.8 1206.4 1286.4 1203.8 1287.0 1199.5 1287.6 1203.0 1288.2 1201.1 1288.8 1204.7 1289.4 1205.2 1290.0 1206.5 1290.6 1204.8 1291.2 1209.6 1291.8 1210.5 1292.5 1210.2 1293.1 1212.4 1293.7 1215.6 1294.3 1216.2 1294.9 1219.7 1295.5 1220.3 1296.1 1224.8 1296.7 1224.7 1297.3 1225.6 1297.9 1225.3 1298.5 1227.5 1299.1 1227.2 1299.7 1224.8 1300.4 1227.9 1301.0 1228.7 1301.6 1227.2 1302.2 1229.1 1302.8 1228.6 1303.4 1225.7 1304.0 1228.5 1304.6 1231.4 1305.2 1227.8 1305.8 1227.3 1306.4 1227.4 1307.0 1230.8 1307.6 1228.0 1308.2 1228.5 1308.9 1229.2 1309.5 1230.7 1310.1 1228.3 1310.7 1228.5 1311.3 1227.7 1311.9 1231.7 1312.5 1227.8 1313.1 1230.0 1313.7 1227.5 1314.3 1227.2 1314.9 1229.3 1315.5 1230.9 1316.1 1228.9 1316.8 1228.0 1317.4 1230.1 1318.0 1229.0 1318.6 1228.3 1319.2 1229.0 1319.8 1229.8 1320.4 1232.2 1321.0 1228.1 1321.6 1229.6 1322.2 1230.5 1322.8 1229.7 1323.4 1228.0 1324.0 1231.0 1324.6 1229.1 1325.3 1230.6 1325.9 1230.0 1326.5 1227.5 1327.1 1231.2 1327.7 1232.0 1328.3 1227.2 1328.9 1228.4 1329.5 1229.5 1330.1 1230.3 1330.7 1230.4 1331.3 1227.6 1331.9 1231.4 1332.5 1229.1 1333.1 1226.9 1333.8 1228.4 1334.4 1232.1 1335.0 1228.1 1335.6 1228.8 1336.2 1227.9 1336.8 1228.3 1337.4 1228.5 1338.0 1231.8 1338.6 1230.9 1339.2 1232.3 1339.8 1229.4 1340.4 1231.3 1341.0 1228.4 1341.7 1229.0 1342.3 1229.9 1342.9 1231.1 1343.5 1227.3 1344.1 1229.9 1344.7 1226.7 1345.3 1227.7 1345.9 1229.0 1346.5 1227.3 1347.1 1229.2 1347.7 1230.2 1348.3 1228.1 1348.9 1232.0 1349.5 1228.5 1350.2 1226.6 1350.8 1224.7 1351.4 1227.7 1352.0 1226.7 1352.6 1225.6 1353.2 1224.2 1353.8 1225.6 1354.4 1223.1 1355.0 1225.8 1355.6 1225.3 1356.2 1223.5 1356.8 1222.9 1357.4 1222.0 1358.0 1220.6 1358.7 1219.3 1359.3 1219.7 1359.9 1213.0 1360.5 1219.5 1361.1 1219.6 1361.7 1215.3 1362.3 1220.0 1362.9 1218.6 1363.5 1219.0 1364.1 1215.5 1364.7 1216.2 1365.3 1219.1 1365.9 1221.2 1366.6 1222.4 1367.2 1221.7 1367.8 1222.8 1368.4 1223.5 1369.0 1223.2 1369.6 1224.7 1370.2 1224.2 1370.8 1225.7 1371.4 1229.1 1372.0 1225.8 1372.6 1225.1 1373.2 1226.4 1373.8 1228.2 1374.4 1228.6 1375.1 1226.9 1375.7 1228.3 1376.3 1230.9 1376.9 1230.2 1377.5 1228.6 1378.1 1232.8 1378.7 1234.0 1379.3 1231.1 1379.9 1230.4 1380.5 1234.0 1381.1 1234.0 1381.7 1233.1 1382.3 1234.2 1383.0 1233.0 1383.6 1232.3 1384.2 1232.9 1384.8 1231.4 1385.4 1233.0 1386.0 1233.4 1386.6 1231.3 1387.2 1232.5 1387.8 1231.3 1388.4 1233.0 1389.0 1233.9 1389.6 1234.7 1390.2 1232.0 1390.8 1233.1 1391.5 1234.9 1392.1 1232.0 1392.7 1233.9 1393.3 1233.1 1393.9 1228.9 1394.5 1229.4 1395.1 1234.0 1395.7 1231.2 1396.3 1233.9 1396.9 1233.8 1397.5 1233.9 1398.1 1232.0 1398.7 1230.4 1399.3 1232.5 1400.0 1231.0 1400.6 1232.2 1401.2 1231.2 1401.8 1231.5 1402.4 1230.5 1403.0 1235.1 1403.6 1228.0 1404.2 1227.4 1404.8 1231.3 1405.4 1229.8 1406.0 1229.0 1406.6 1228.8 1407.2 1230.6 1407.9 1229.3 1408.5 1231.2 1409.1 1231.6 1409.7 1230.5 1410.3 1232.7 1410.9 1230.4 1411.5 1227.1 1412.1 1230.7 1412.7 1232.3 1413.3 1230.6 1413.9 1231.1 1414.5 1228.1 1415.1 1230.6 1415.7 1229.3 1416.4 1226.8 1417.0 1227.1 1417.6 1228.8 1418.2 1228.6 1418.8 1228.6 1419.4 1230.3 1420.0 1230.6 1420.6 1228.3 1421.2 1229.6 1421.8 1230.0 1422.4 1228.4 1423.0 1230.9 1423.6 1226.2 1424.2 1226.1 1424.9 1227.9 1425.5 1225.1 1426.1 1226.4 1426.7 1226.6 1427.3 1223.3 1427.9 1221.6 1428.5 1219.3 1429.1 1216.0 1429.7 1209.6 1430.3 1204.6 1430.9 1203.2 1431.5 1196.2 1432.1 1193.2 1432.8 1184.5 1433.4 1179.4 1434.0 1173.6 1434.6 1163.7 1435.2 1162.5 1435.8 1156.6 1436.4 1155.9 1437.0 1150.4 1437.6 1157.7 1438.2 1157.7 1438.8 1164.0 1439.4 1163.6 1440.0 1172.1 1440.6 1175.6 1441.3 1181.3 1441.9 1184.3 1442.5 1191.8 1443.1 1193.5 1443.7 1191.4 1444.3 1197.1 1444.9 1196.7 1445.5 1198.0 1446.1 1195.5 1446.7 1201.9 1447.3 1199.3 1447.9 1199.0 1448.5 1196.1 1449.2 1200.9 1449.8 1201.4 1450.4 1203.4 1451.0 1204.0 1451.6 1201.4 1452.2 1206.8 1452.8 1210.2 1453.4 1208.7 1454.0 1207.9 1454.6 1209.9 1455.2 1210.7 1455.8 1215.1 1456.4 1216.3 1457.0 1216.6 1457.7 1219.7 1458.3 1220.9 1458.9 1220.0 1459.5 1221.2 1460.1 1223.5 1460.7 1222.9 1461.3 1228.0 1461.9 1222.9 1462.5 1224.2 1463.1 1226.2 1463.7 1223.2 1464.3 1224.5 1464.9 1226.3 1465.5 1226.5 1466.2 1224.8 1466.8 1225.4 1467.4 1227.2 1468.0 1227.8 1468.6 1225.7 1469.2 1225.0 1469.8 1227.1 1470.4 1224.6 1471.0 1227.3 1471.6 1228.1 1472.2 1225.3 1472.8 1227.9 1473.4 1227.8 1474.1 1225.7 1474.7 1227.8 1475.3 1225.3 1475.9 1229.0 1476.5 1225.0 1477.1 1227.8 1477.7 1225.9 1478.3 1222.5 1478.9 1226.0 1479.5 1224.3 1480.1 1227.1 1480.7 1225.7 1481.3 1225.9 1481.9 1226.2 1482.6 1227.5 1483.2 1226.4 1483.8 1225.8 1484.4 1226.8 1485.0 1230.6 1485.6 1227.2 1486.2 1227.1 1486.8 1225.2 1487.4 1226.9 1488.0 1228.0 1488.6 1224.5 1489.2 1224.5 1489.8 1227.3 1490.4 1222.8 1491.1 1224.8 1491.7 1226.9 1492.3 1225.8 1492.9 1224.2 1493.5 1229.1 1494.1 1227.4 1494.7 1225.0 1495.3 1225.8 1495.9 1224.0 1496.5 1224.4 1497.1 1225.2 1497.7 1227.7 1498.3 1223.9 1499.0 1223.3 1499.6 1224.5 1500.2 1220.8 1500.8 1222.3 1501.4 1220.7 1502.0 1217.1 1502.6 1217.0 1503.2 1212.5 1503.8 1216.8 1504.4 1212.7 1505.0 1218.8 1505.6 1218.7 1506.2 1219.9 1506.8 1226.9 1507.5 1224.8 1508.1 1227.7 1508.7 1224.3 1509.3 1223.8 1509.9 1226.9 1510.5 1224.7 1511.1 1226.0 1511.7 1222.6 1512.3 1219.6 1512.9 1218.8 1513.5 1211.9 1514.1 1207.3 1514.7 1207.5 1515.4 1204.3 1516.0 1206.0 1516.6 1206.0 1517.2 1212.1 1517.8 1211.2 1518.4 1220.3 1519.0 1221.2 1519.6 1220.4 1520.2 1223.5 1520.8 1224.6 1521.4 1225.0 1522.0 1226.3 1522.6 1226.1 1523.2 1226.7 1523.9 1224.3 1524.5 1225.5 1525.1 1227.1 1525.7 1228.6 1526.3 1229.5 1526.9 1225.6 1527.5 1227.3 1528.1 1226.4 1528.7 1232.2 1529.3 1225.0 1529.9 1224.4 1530.5 1227.1 1531.1 1225.3 1531.7 1227.1 1532.4 1227.4 1533.0 1226.5 1533.6 1228.6 1534.2 1228.5 1534.8 1227.1 1535.4 1225.8 1536.0 1229.5 1536.6 1226.1 1537.2 1226.4 1537.8 1227.5 1538.4 1226.7 1539.0 1224.7 1539.6 1228.5 1540.3 1225.9 1540.9 1227.4 1541.5 1227.1 1542.1 1227.8 1542.7 1227.2 1543.3 1225.2 1543.9 1227.9 1544.5 1227.2 1545.1 1226.3 1545.7 1223.3 1546.3 1227.0 1546.9 1227.1 1547.5 1225.3 1548.1 1227.0 1548.8 1228.6 1549.4 1223.7 1550.0 1223.0 1550.6 1225.1 1551.2 1223.6 1551.8 1222.2 1552.4 1221.2 1553.0 1224.2 1553.6 1226.5 1554.2 1222.4 1554.8 1226.8 1555.4 1222.8 1556.0 1225.9 1556.6 1227.2 1557.3 1224.3 1557.9 1224.2 1558.5 1226.5 1559.1 1228.9 1559.7 1227.3 1560.3 1227.3 1560.9 1226.9 1561.5 1228.5 1562.1 1227.9 1562.7 1231.1 1563.3 1229.9 1563.9 1228.0 1564.5 1225.7 1565.2 1228.8 1565.8 1229.2 1566.4 1227.3 1567.0 1228.3 1567.6 1227.4 1568.2 1227.5 1568.8 1228.8 1569.4 1228.6 1570.0 1227.1 1570.6 1228.2 1571.2 1228.9 1571.8 1226.9 1572.4 1225.5 1573.0 1226.6 1573.7 1227.7 1574.3 1229.1 1574.9 1225.2 1575.5 1227.3 1576.1 1230.1 1576.7 1228.2 1577.3 1228.7 1577.9 1226.4 1578.5 1226.9 1579.1 1226.3 1579.7 1231.1 1580.3 1230.3 1580.9 1227.6 1581.6 1224.7 1582.2 1225.7 1582.8 1221.4 1583.4 1225.2 1584.0 1225.6 1584.6 1225.2 1585.2 1223.6 1585.8 1223.3 1586.4 1219.6 1587.0 1224.0 1587.6 1223.1 1588.2 1222.8 1588.8 1219.5 1589.4 1223.3 1590.1 1222.3 1590.7 1223.3 1591.3 1224.4 1591.9 1224.1 1592.5 1225.9 1593.1 1223.4 1593.7 1225.2 1594.3 1227.0 1594.9 1227.3 1595.5 1225.4 1596.1 1230.8 1596.7 1227.9 1597.3 1225.6 1597.9 1227.8 1598.6 1230.4 1599.2 1226.9 1599.8 1229.3 1600.4 1226.3 1601.0 1231.3 1601.6 1229.6 1602.2 1227.3 1602.8 1230.6 1603.4 1231.4 1604.0 1228.5 1604.6 1229.8 1605.2 1228.0 1605.8 1229.4 1606.5 1230.3 1607.1 1229.1 1607.7 1228.8 1608.3 1231.1 1608.9 1227.2 1609.5 1230.5 1610.1 1228.6 1610.7 1230.0 1611.3 1229.5 1611.9 1231.2 1612.5 1229.3 1613.1 1229.8 1613.7 1227.9 1614.3 1225.1 1615.0 1229.2 1615.6 1230.5 1616.2 1227.5 1616.8 1229.9 1617.4 1227.7 1618.0 1231.0 1618.6 1230.1 1619.2 1226.2 1619.8 1230.0 1620.4 1229.2 1621.0 1227.3 1621.6 1226.2 1622.2 1228.5 1622.8 1232.4 1623.5 1232.1 1624.1 1227.6 1624.7 1227.9 1625.3 1228.4 1625.9 1226.4 1626.5 1233.3 1627.1 1229.6 1627.7 1230.2 1628.3 1230.7 1628.9 1228.2 1629.5 1228.7 1630.1 1228.2 1630.7 1229.8 1631.4 1230.9 1632.0 1226.6 1632.6 1230.9 1633.2 1230.8 1633.8 1231.0 1634.4 1227.4 1635.0 1225.7 1635.6 1226.7 1636.2 1227.8 1636.8 1232.1 1637.4 1228.9 1638.0 1227.6 1638.6 1229.4 1639.2 1226.7 1639.9 1227.6 1640.5 1229.3 1641.1 1232.8 1641.7 1230.5 1642.3 1227.2 1642.9 1232.7 1643.5 1230.5 1644.1 1227.7 1644.7 1232.2 1645.3 1228.9 1645.9 1228.1 1646.5 1228.3 1647.1 1230.7 1647.8 1228.5 1648.4 1229.9 1649.0 1228.3 1649.6 1226.4 1650.2 1225.7 1650.8 1228.3 1651.4 1229.3 1652.0 1229.4 1652.6 1227.4 1653.2 1228.4 1653.8 1229.5 1654.4 1228.9 1655.0 1229.2 1655.6 1226.3 1656.3 1227.2 1656.9 1226.8 1657.5 1230.3 1658.1 1227.7 1658.7 1226.3 1659.3 1226.0 1659.9 1227.5 1660.5 1229.4 1661.1 1228.5 1661.7 1225.5 1662.3 1225.4 1662.9 1227.8 1663.5 1225.4 1664.1 1226.0 1664.8 1226.6 1665.4 1221.7 1666.0 1223.5 1666.6 1224.3 1667.2 1222.9 1667.8 1221.2 1668.4 1219.2 1669.0 1218.8 1669.6 1220.4 1670.2 1219.3 1670.8 1216.4 1671.4 1221.0 1672.0 1219.5 1672.7 1216.0 1673.3 1220.9 1673.9 1220.5 1674.5 1224.6 1675.1 1224.8 1675.7 1221.2 1676.3 1224.4 1676.9 1222.5 1677.5 1222.9 1678.1 1224.8 1678.7 1227.1 1679.3 1227.0 1679.9 1230.2 1680.5 1227.7 1681.2 1226.8 1681.8 1231.0 1682.4 1228.7 1683.0 1229.8 1683.6 1226.4 1684.2 1230.8 1684.8 1227.8 1685.4 1227.9 1686.0 1227.3 1686.6 1229.0 1687.2 1227.3 1687.8 1228.5 1688.4 1231.0 1689.0 1226.3 1689.7 1226.9 1690.3 1227.3 1690.9 1226.0 1691.5 1228.7 1692.1 1230.1 1692.7 1227.9 1693.3 1232.4 1693.9 1229.6 1694.5 1231.1 1695.1 1230.8 1695.7 1228.0 1696.3 1228.7 1696.9 1229.7 1697.6 1229.3 1698.2 1229.5 1698.8 1227.4 1699.4 1230.8 1700.0 1227.6 1700.6 1231.1 1701.2 1229.2 1701.8 1227.8 1702.4 1228.6 1703.0 1228.3 1703.6 1226.8 1704.2 1229.6 1704.8 1229.7 1705.4 1229.2 1706.1 1225.1 1706.7 1228.9 1707.3 1230.4 1707.9 1228.0 1708.5 1228.1 1709.1 1227.6 1709.7 1231.9 1710.3 1227.4 1710.9 1232.3 1711.5 1230.1 1712.1 1230.8 1712.7 1230.2 1713.3 1228.0 1714.0 1228.5 1714.6 1225.2 1715.2 1226.4 1715.8 1225.2 1716.4 1230.2 1717.0 1226.9 1717.6 1228.3 1718.2 1226.3 1718.8 1229.1 1719.4 1226.5 1720.0 1225.5 1720.6 1226.3 1721.2 1225.8 1721.8 1224.9 1722.5 1227.1 1723.1 1224.9 1723.7 1225.3 1724.3 1223.6 1724.9 1223.2 1725.5 1225.2 1726.1 1222.2 1726.7 1224.4 1727.3 1221.3 1727.9 1225.4 1728.5 1224.2 1729.1 1225.3 1729.7 1225.3 1730.3 1224.4 1731.0 1226.6 1731.6 1228.8 1732.2 1227.9 1732.8 1227.8 1733.4 1228.7 1734.0 1229.3 1734.6 1230.6 1735.2 1228.6 1735.8 1227.4 1736.4 1226.6 1737.0 1227.9 1737.6 1227.8 1738.2 1228.6 1738.9 1231.7 1739.5 1228.3 1740.1 1230.4 1740.7 1228.2 1741.3 1227.9 1741.9 1227.2 1742.5 1229.4 1743.1 1227.2 1743.7 1231.3 1744.3 1228.4 1744.9 1230.3 1745.5 1228.2 1746.1 1230.9 1746.7 1227.5 1747.4 1228.8 1748.0 1229.8 1748.6 1228.1 1749.2 1228.4 1749.8 1229.2 1750.4 1229.8 1751.0 1228.1 1751.6 1228.9 1752.2 1230.8 1752.8 1232.0 1753.4 1229.6 1754.0 1227.1 1754.6 1227.9 1755.2 1228.8 1755.9 1231.2 1756.5 1228.2 1757.1 1227.0 1757.7 1227.9 1758.3 1231.5 1758.9 1229.5 1759.5 1228.8 1760.1 1228.1 1760.7 1229.3 1761.3 1231.3 1761.9 1229.4 1762.5 1231.1 1763.1 1229.9 1763.8 1231.7 1764.4 1230.1 1765.0 1229.5 1765.6 1229.3 1766.2 1231.0 1766.8 1230.1 1767.4 1229.9 1768.0 1230.7 1768.6 1228.7 1769.2 1228.2 1769.8 1230.5 1770.4 1231.1 1771.0 1230.8 1771.6 1230.4 1772.3 1231.5 1772.9 1228.3 1773.5 1229.0 1774.1 1230.4 1774.7 1231.8 1775.3 1231.2 1775.9 1227.3 1776.5 1230.5 1777.1 1227.8 1777.7 1231.2 1778.3 1229.5 1778.9 1230.3 1779.5 1226.4 1780.2 1228.1 1780.8 1231.5 1781.4 1227.7 1782.0 1224.1 1782.6 1227.5 1783.2 1225.2 1783.8 1230.3 1784.4 1228.3 1785.0 1227.3 1785.6 1230.5 1786.2 1229.8 1786.8 1229.7 1787.4 1226.8 1788.0 1227.4 1788.7 1232.1 1789.3 1227.4 1789.9 1230.3 1790.5 1225.4 1791.1 1230.6 1791.7 1230.6 1792.3 1230.1 1792.9 1229.2 1793.5 1227.1 1794.1 1227.5 1794.7 1229.4 1795.3 1230.0 1795.9 1225.3 1796.5 1231.5 1797.2 1230.5 1797.8 1231.3 1798.4 1230.9 1799.0 1230.0 1799.6 1227.7 1800.2 1227.5 1800.8 1227.0 1801.4 1228.4 1802.0 1227.9 1802.6 1230.7 1803.2 1231.0 1803.8 1231.3 1804.4 1227.7 1805.1 1230.5 1805.7 1228.1 1806.3 1228.6 1806.9 1228.6 1807.5 1231.8 1808.1 1228.7 1808.7 1232.9 1809.3 1232.6 1809.9 1227.0 1810.5 1226.6 1811.1 1230.5 1811.7 1227.8 1812.3 1229.9 1812.9 1231.3 1813.6 1229.6 1814.2 1225.4 1814.8 1229.6 1815.4 1229.9 1816.0 1227.0 1816.6 1228.0 1817.2 1229.4 1817.8 1232.5 1818.4 1227.0 1819.0 1227.6 1819.6 1227.8 1820.2 1225.9 1820.8 1226.8 1821.4 1226.0 1822.1 1226.5 1822.7 1226.7 1823.3 1226.3 1823.9 1225.6 1824.5 1226.2 1825.1 1226.0 1825.7 1227.1 1826.3 1225.5 1826.9 1229.1 1827.5 1220.5 1828.1 1222.7 1828.7 1223.8 1829.3 1224.7 1830.0 1221.2 1830.6 1221.9 1831.2 1219.6 1831.8 1221.8 1832.4 1222.0 1833.0 1221.2 1833.6 1216.0 1834.2 1216.2 1834.8 1218.3 1835.4 1216.2 1836.0 1215.5 1836.6 1217.6 1837.2 1214.0 1837.8 1213.8 1838.5 1217.0 1839.1 1213.4 1839.7 1215.5 1840.3 1213.8 1840.9 1215.4 1841.5 1215.8 1842.1 1211.1 1842.7 1214.1 1843.3 1215.0 1843.9 1211.4 1844.5 1214.1 1845.1 1213.5 1845.7 1216.1 1846.4 1212.1 1847.0 1214.1 1847.6 1214.6 1848.2 1214.4 1848.8 1213.9 1849.4 1211.8 1850.0 1213.6 1850.6 1214.3 1851.2 1213.2 1851.8 1215.4 1852.4 1216.2 1853.0 1212.6 1853.6 1216.9 1854.2 1217.7 1854.9 1215.8 1855.5 1216.8 1856.1 1223.8 1856.7 1219.8 1857.3 1218.9 1857.9 1218.8 1858.5 1222.6 1859.1 1221.0 1859.7 1222.4 1860.3 1224.2 1860.9 1222.7 1861.5 1223.6 1862.1 1223.1 1862.7 1223.9 1863.4 1223.6 1864.0 1226.3 1864.6 1223.3 1865.2 1230.1 1865.8 1227.3 1866.4 1225.8 1867.0 1227.4 1867.6 1226.8 1868.2 1227.6 1868.8 1226.4 1869.4 1225.8 1870.0 1226.6 1870.6 1228.9 1871.3 1223.4 1871.9 1228.1 1872.5 1227.3 1873.1 1227.8 1873.7 1226.3 1874.3 1229.4 1874.9 1226.2 1875.5 1228.8 1876.1 1224.6 1876.7 1229.4 1877.3 1228.8 1877.9 1228.3 1878.5 1226.5 1879.1 1229.0 1879.8 1230.8 1880.4 1232.1 1881.0 1228.7 1881.6 1225.6 1882.2 1228.2 1882.8 1226.6 1883.4 1224.5 1884.0 1230.9 1884.6 1229.7 1885.2 1230.1 1885.8 1226.8 1886.4 1227.1 1887.0 1229.9 1887.6 1230.2 1888.3 1227.6 1888.9 1230.1 1889.5 1226.1 1890.1 1229.9 1890.7 1230.0 1891.3 1229.8 1891.9 1229.8 1892.5 1229.6 1893.1 1229.4 1893.7 1229.4 1894.3 1227.8 1894.9 1225.0 1895.5 1226.9 1896.2 1227.8 1896.8 1225.3 1897.4 1227.3 1898.0 1228.2 1898.6 1226.7 1899.2 1228.4 1899.8 1225.1 1900.4 1223.1 1901.0 1220.0 1901.6 1216.9 1902.2 1215.6 1902.8 1213.1 1903.4 1210.1 1904.0 1205.1 1904.7 1203.2 1905.3 1205.3 1905.9 1198.6 1906.5 1199.5 1907.1 1194.2 1907.7 1195.5 1908.3 1195.5 1908.9 1198.0 1909.5 1200.3 1910.1 1201.8 1910.7 1205.0 1911.3 1206.2 1911.9 1212.3 1912.6 1213.2 1913.2 1217.4 1913.8 1217.0 1914.4 1221.4 1915.0 1222.0 1915.6 1223.5 1916.2 1226.2 1916.8 1228.1 1917.4 1225.1 1918.0 1228.0 1918.6 1227.3 1919.2 1232.0 1919.8 1231.5 1920.4 1226.9 1921.1 1226.1 1921.7 1231.1 1922.3 1228.6 1922.9 1227.1 1923.5 1232.1 1924.1 1232.5 1924.7 1226.9 1925.3 1229.8 1925.9 1228.3 1926.5 1229.1 1927.1 1229.3 1927.7 1229.5 1928.3 1227.1 1928.9 1230.0 1929.6 1229.9 1930.2 1227.9 1930.8 1231.0 1931.4 1229.1 1932.0 1227.9 1932.6 1229.0 1933.2 1228.6 1933.8 1228.5 1934.4 1229.7 1935.0 1227.2 1935.6 1229.7 1936.2 1225.6 1936.8 1227.3 1937.5 1228.7 1938.1 1231.0 1938.7 1232.1 1939.3 1233.2 1939.9 1229.9 1940.5 1230.2 1941.1 1230.6 1941.7 1231.3 1942.3 1231.2 1942.9 1231.2 1943.5 1232.8 1944.1 1228.3 1944.7 1228.4 1945.3 1228.7 1946.0 1229.2 1946.6 1229.3 1947.2 1233.2 1947.8 1229.3 1948.4 1230.2 1949.0 1227.7 1949.6 1229.1 1950.2 1228.4 1950.8 1230.7 1951.4 1232.5 1952.0 1232.5 1952.6 1233.3 1953.2 1228.9 1953.8 1231.3 1954.5 1232.3 1955.1 1232.5 1955.7 1230.6 1956.3 1231.2 1956.9 1232.9 1957.5 1230.0 1958.1 1230.2 1958.7 1230.1 1959.3 1227.0 1959.9 1231.3 1960.5 1229.8 1961.1 1228.9 1961.7 1230.4 1962.4 1230.2 1963.0 1231.1 1963.6 1229.4 1964.2 1229.2 1964.8 1228.2 1965.4 1228.3 1966.0 1229.1 1966.6 1227.5 1967.2 1229.0 1967.8 1229.3 1968.4 1229.3 1969.0 1227.6 1969.6 1232.3 1970.2 1228.7 1970.9 1229.0 1971.5 1230.7 1972.1 1229.8 1972.7 1230.5 1973.3 1230.3 1973.9 1230.1 1974.5 1230.1 1975.1 1229.2 1975.7 1230.7 1976.3 1225.5 1976.9 1229.5 1977.5 1229.6 1978.1 1231.4 1978.8 1231.7 1979.4 1230.8 1980.0 1227.6 1980.6 1231.5 1981.2 1229.0 1981.8 1229.4 1982.4 1228.2 1983.0 1229.5 1983.6 1232.0 1984.2 1229.9 1984.8 1230.3 1985.4 1227.5 1986.0 1227.4 1986.6 1227.9 1987.3 1229.0 1987.9 1227.5 1988.5 1228.3 1989.1 1231.3 1989.7 1228.5 1990.3 1230.1 1990.9 1231.9 1991.5 1227.2 1992.1 1228.1 1992.7 1226.7 1993.3 1228.2 1993.9 1228.0 1994.5 1228.6 1995.1 1231.1 1995.8 1227.7 1996.4 1228.0 1997.0 1227.6 1997.6 1229.4 1998.2 1228.6 1998.8 1226.5 1999.4 1230.2 2000.0 1229.1 2000.6 1230.3 2001.2 1229.6 2001.8 1228.2 2002.4 1228.7 2003.0 1228.9 2003.7 1225.9 2004.3 1227.7 2004.9 1227.4 2005.5 1230.1 2006.1 1227.6 2006.7 1230.8 2007.3 1229.4 2007.9 1230.8 2008.5 1230.6 2009.1 1231.4 2009.7 1231.7 2010.3 1227.7 2010.9 1229.2 2011.5 1227.3 2012.2 1228.7 2012.8 1228.7 2013.4 1227.9 2014.0 1230.0 2014.6 1228.3 2015.2 1225.9 2015.8 1224.9 2016.4 1226.0 2017.0 1226.1 2017.6 1227.7 2018.2 1224.5 2018.8 1225.6 2019.4 1222.3 2020.1 1219.8 2020.7 1221.8 2021.3 1220.3 2021.9 1217.0 2022.5 1219.3 2023.1 1217.5 2023.7 1215.0 2024.3 1215.6 2024.9 1215.2 2025.5 1215.3 2026.1 1213.2 2026.7 1212.2 2027.3 1216.1 2027.9 1216.3 2028.6 1218.6 2029.2 1219.1 2029.8 1219.7 2030.4 1220.2 2031.0 1223.4 2031.6 1220.9 2032.2 1226.7 2032.8 1224.2 2033.4 1224.3 2034.0 1225.6 2034.6 1226.5 2035.2 1227.6 2035.8 1230.8 2036.4 1226.3 2037.1 1231.1 2037.7 1230.7 2038.3 1229.5 2038.9 1229.1 2039.5 1231.2 2040.1 1229.7 2040.7 1230.1 2041.3 1229.5 2041.9 1231.2 2042.5 1228.8 2043.1 1227.8 2043.7 1230.0 2044.3 1227.8 2045.0 1229.2 2045.6 1228.6 2046.2 1229.1 2046.8 1232.8 2047.4 1229.9 2048.0 1233.8 2048.6 1229.9 2049.2 1234.0 2049.8 1228.1 2050.4 1228.8 2051.0 1228.4 2051.6 1229.5 2052.2 1227.7 2052.8 1230.6 2053.5 1229.4 2054.1 1228.4 2054.7 1232.7 2055.3 1228.3 2055.9 1227.5 2056.5 1232.5 2057.1 1228.3 2057.7 1228.8 2058.3 1229.6 2058.9 1230.7 2059.5 1227.6 2060.1 1228.6 2060.7 1231.7 2061.3 1226.6 2062.0 1228.8 2062.6 1228.5 2063.2 1228.6 2063.8 1226.7 2064.4 1231.1 2065.0 1227.2 2065.6 1228.1 2066.2 1231.6 2066.8 1227.6 2067.4 1230.7 2068.0 1227.7 2068.6 1228.9 2069.2 1228.9 2069.9 1233.0 2070.5 1231.5 2071.1 1229.0 2071.7 1228.4 2072.3 1229.5 2072.9 1232.8 2073.5 1226.7 2074.1 1227.2 2074.7 1225.4 2075.3 1228.1 2075.9 1226.1 2076.5 1226.2 2077.1 1228.0 2077.7 1229.9 2078.4 1226.5 2079.0 1226.5 2079.6 1224.6 2080.2 1221.5 2080.8 1226.3 2081.4 1224.3 2082.0 1226.2 2082.6 1222.3 2083.2 1223.4 2083.8 1225.0 2084.4 1223.5 2085.0 1224.5 2085.6 1220.8 2086.3 1223.8 2086.9 1223.7 2087.5 1225.1 2088.1 1221.4 2088.7 1223.4 2089.3 1223.8 2089.9 1224.7 2090.5 1224.8 2091.1 1224.9 2091.7 1228.2 2092.3 1227.8 2092.9 1227.1 2093.5 1227.6 2094.1 1230.1 2094.8 1227.1 2095.4 1227.4 2096.0 1229.2 2096.6 1225.7 2097.2 1229.7 2097.8 1230.7 2098.4 1231.0 2099.0 1229.7 2099.6 1231.4 2100.2 1228.2 2100.8 1229.5 2101.4 1230.0 2102.0 1228.9 2102.6 1228.6 2103.3 1228.7 2103.9 1228.7 2104.5 1228.2 2105.1 1230.2 2105.7 1230.1 2106.3 1231.9 2106.9 1228.0 2107.5 1227.0 2108.1 1227.7 2108.7 1230.3 2109.3 1228.1 2109.9 1228.0 2110.5 1223.3 2111.2 1227.5 2111.8 1230.3 2112.4 1230.8 2113.0 1227.2 2113.6 1230.8 2114.2 1228.4 2114.8 1230.7 2115.4 1226.9 2116.0 1230.3 2116.6 1231.6 2117.2 1225.8 2117.8 1229.6 2118.4 1230.1 2119.0 1228.7 2119.7 1230.1 2120.3 1229.6 2120.9 1230.8 2121.5 1230.3 2122.1 1230.6 2122.7 1228.0 2123.3 1227.6 2123.9 1228.1 2124.5 1229.5 2125.1 1230.0 2125.7 1230.1 2126.3 1231.1 2126.9 1228.0 2127.5 1228.8 2128.2 1229.3 2128.8 1229.8 2129.4 1231.5 2130.0 1228.1 2130.6 1227.2 2131.2 1226.8 2131.8 1229.1 2132.4 1226.5 2133.0 1229.7 2133.6 1230.8 2134.2 1229.9 2134.8 1229.2 2135.4 1229.2 2136.1 1226.8 2136.7 1229.2 2137.3 1229.5 2137.9 1229.4 2138.5 1230.2 2139.1 1228.1 2139.7 1225.4 2140.3 1227.6 2140.9 1228.4 2141.5 1226.4 2142.1 1227.9 2142.7 1227.6 2143.3 1226.1 2143.9 1225.0 2144.6 1227.0 2145.2 1224.6 2145.8 1224.6 2146.4 1224.2 2147.0 1224.6 2147.6 1223.6 2148.2 1221.8 2148.8 1220.7 2149.4 1217.7 2150.0 1216.2 2150.6 1216.2 2151.2 1215.4 2151.8 1218.5 2152.5 1212.4 2153.1 1213.3 2153.7 1215.5 2154.3 1210.8 2154.9 1213.5 2155.5 1214.0 2156.1 1210.3 2156.7 1213.9 2157.3 1210.7 2157.9 1214.4 2158.5 1213.4 2159.1 1215.5 2159.7 1212.3 2160.3 1216.7 2161.0 1213.9 2161.6 1218.7 2162.2 1220.2 2162.8 1217.7 2163.4 1222.8 2164.0 1223.2 2164.6 1222.5 2165.2 1222.6 2165.8 1225.8 2166.4 1224.0 2167.0 1224.5 2167.6 1226.0 2168.2 1226.9 2168.8 1229.0 2169.5 1225.1 2170.1 1227.0 2170.7 1227.2 2171.3 1228.5 2171.9 1227.8 2172.5 1227.4 2173.1 1230.4 2173.7 1229.0 2174.3 1226.9 2174.9 1227.5 2175.5 1227.0 2176.1 1228.9 2176.7 1228.5 2177.4 1226.9 2178.0 1225.6 2178.6 1226.0 2179.2 1229.9 2179.8 1230.0 2180.4 1227.3 2181.0 1230.7 2181.6 1226.9 2182.2 1229.6 2182.8 1226.6 2183.4 1229.3 2184.0 1226.3 2184.6 1229.9 2185.2 1228.0 2185.9 1229.8 2186.5 1228.2 2187.1 1228.6 2187.7 1227.6 2188.3 1230.0 2188.9 1228.0 2189.5 1233.3 2190.1 1229.4 2190.7 1228.6 2191.3 1230.1 2191.9 1227.0 2192.5 1226.4 2193.1 1225.4 2193.7 1229.6 2194.4 1227.4 2195.0 1228.4 2195.6 1222.8 2196.2 1220.0 2196.8 1222.5 2197.4 1223.4 2198.0 1220.1 2198.6 1218.4 2199.2 1216.8 2199.8 1214.2 2200.4 1213.3 2201.0 1211.7 2201.6 1208.6 2202.3 1207.1 2202.9 1203.7 2203.5 1204.3 2204.1 1206.2 2204.7 1204.1 2205.3 1207.2 2205.9 1206.2 2206.5 1209.2 2207.1 1208.6 2207.7 1216.6 2208.3 1212.7 2208.9 1215.9 2209.5 1218.5 2210.1 1216.8 2210.8 1220.6 2211.4 1224.1 2212.0 1224.1 2212.6 1224.4 2213.2 1225.3 2213.8 1225.4 2214.4 1229.0 2215.0 1229.2 2215.6 1224.8 2216.2 1228.8 2216.8 1228.3 2217.4 1228.3 2218.0 1231.4 2218.7 1224.5 2219.3 1233.9 2219.9 1228.7 2220.5 1231.1 2221.1 1227.4 2221.7 1230.6 2222.3 1231.5 2222.9 1228.9 2223.5 1229.8 2224.1 1230.5 2224.7 1230.1 2225.3 1231.8 2225.9 1231.2 2226.5 1232.2 2227.2 1227.1 2227.8 1230.2 2228.4 1228.2 2229.0 1228.9 2229.6 1229.3 2230.2 1227.3 2230.8 1228.2 2231.4 1229.4 2232.0 1229.4 2232.6 1230.1 2233.2 1232.2 2233.8 1227.9 2234.4 1228.0 2235.0 1229.9 2235.7 1232.4 2236.3 1229.0 2236.9 1227.1 2237.5 1228.4 2238.1 1231.8 2238.7 1233.3 2239.3 1229.8 2239.9 1230.0 2240.5 1231.8 2241.1 1230.1 2241.7 1230.8 2242.3 1229.0 2242.9 1230.1 2243.6 1230.3 2244.2 1226.5 2244.8 1228.6 2245.4 1227.1 2246.0 1224.7 2246.6 1227.8 2247.2 1228.8 2247.8 1229.2 2248.4 1231.5 2249.0 1225.8 2249.6 1223.9 2250.2 1226.9 2250.8 1228.0 2251.4 1230.5 2252.1 1230.3 2252.7 1229.6 2253.3 1221.4 2253.9 1226.6 2254.5 1228.3 2255.1 1224.0 2255.7 1220.7 2256.3 1220.9 2256.9 1221.4 2257.5 1222.4 2258.1 1216.1 2258.7 1218.0 2259.3 1216.6 2259.9 1212.8 2260.6 1217.7 2261.2 1215.1 2261.8 1216.1 2262.4 1217.8 2263.0 1222.7 2263.6 1220.0 2264.2 1222.0 2264.8 1222.4 2265.4 1223.4 2266.0 1221.9 2266.6 1227.9 2267.2 1227.7 2267.8 1227.3 2268.5 1229.2 2269.1 1223.2 2269.7 1232.0 2270.3 1229.4 2270.9 1229.6 2271.5 1231.4 2272.1 1229.1 2272.7 1229.9 2273.3 1231.3 2273.9 1225.9 2274.5 1232.1 2275.1 1232.9 2275.7 1229.8 2276.3 1232.6 2277.0 1229.6 2277.6 1231.4 2278.2 1231.9 2278.8 1227.6 2279.4 1231.2 2280.0 1228.6 2280.6 1228.5 2281.2 1229.7 2281.8 1232.4 2282.4 1231.5 2283.0 1231.8 2283.6 1230.0 2284.2 1231.0 2284.9 1232.2 2285.5 1232.8 2286.1 1231.7 2286.7 1231.2 2287.3 1233.2 2287.9 1229.6 2288.5 1231.5 2289.1 1229.0 2289.7 1231.1 2290.3 1229.4 2290.9 1231.6 2291.5 1230.3 2292.1 1227.3 2292.7 1233.6 2293.4 1230.5 2294.0 1229.0 2294.6 1228.1 2295.2 1231.2 2295.8 1230.1 2296.4 1231.1 2297.0 1229.2 2297.6 1228.1 2298.2 1229.9 2298.8 1229.4 2299.4 1227.2 2300.0 1227.8 2300.6 1227.3 2301.2 1231.6 2301.9 1229.8 2302.5 1227.7 2303.1 1227.4 2303.7 1225.4 2304.3 1227.3 2304.9 1231.1 2305.5 1228.0 2306.1 1226.6 2306.7 1226.1 2307.3 1228.7 2307.9 1231.4 2308.5 1231.2 2309.1 1229.1 2309.8 1228.9 2310.4 1225.5 2311.0 1227.5 2311.6 1230.6 2312.2 1229.0 2312.8 1228.1 2313.4 1233.1 2314.0 1233.1 2314.6 1231.7 2315.2 1229.4 2315.8 1232.0 2316.4 1232.0 2317.0 1234.8 2317.6 1232.4 2318.3 1231.5 2318.9 1232.9 2319.5 1232.2 2320.1 1233.0 2320.7 1231.9 2321.3 1231.1 2321.9 1235.8 2322.5 1234.7 2323.1 1234.1 2323.7 1232.7 2324.3 1236.6 2324.9 1236.0 2325.5 1234.9 2326.1 1232.7 2326.8 1235.6 2327.4 1236.0 2328.0 1233.1 2328.6 1232.8 2329.2 1229.9 2329.8 1234.2 2330.4 1237.3 2331.0 1235.0 2331.6 1235.7 2332.2 1236.0 2332.8 1232.8 2333.4 1237.2 2334.0 1235.6 2334.7 1232.7 2335.3 1236.1 2335.9 1230.0 2336.5 1235.3 2337.1 1236.4 2337.7 1237.7 2338.3 1235.8 2338.9 1237.6 2339.5 1234.1 2340.1 1234.3 2340.7 1236.4 2341.3 1239.2 2341.9 1237.9 2342.5 1237.5 2343.2 1235.4 2343.8 1237.6 2344.4 1234.4 2345.0 1234.9 2345.6 1236.5 2346.2 1236.4 2346.8 1235.5 2347.4 1235.4 2348.0 1235.7 2348.6 1236.1" fill="none" stroke="#ff8000" stroke-width="6.5" stroke-linejoin="round" shape-rendering="crispEdges"/>
<path d="M192.6 1682.8L193.2 1686.1 193.8 1683.0 194.4 1682.9 195.0 1680.6 195.6 1684.8 196.2 1684.7 196.8 1683.6 197.4 1682.8 198.0 1684.0 198.6 1683.0 199.2 1683.5 199.9 1684.5 200.5 1682.6 201.1 1681.8 201.7 1683.1 202.3 1680.6 202.9 1680.4 203.5 1684.3 204.1 1679.5 204.7 1679.2 205.3 1680.6 205.9 1681.4 206.5 1680.9 207.1 1683.3 207.7 1681.8 208.4 1677.9 209.0 1680.2 209.6 1682.5 210.2 1677.8 210.8 1683.6 211.4 1683.4 212.0 1682.0 212.6 1682.3 213.2 1679.2 213.8 1682.5 214.4 1682.9 215.0 1679.7 215.6 1682.5 216.3 1684.1 216.9 1685.0 217.5 1682.8 218.1 1681.9 218.7 1682.2 219.3 1680.5 219.9 1681.9 220.5 1682.6 221.1 1680.2 221.7 1680.9 222.3 1682.2 222.9 1680.8 223.5 1684.0 224.1 1679.7 224.8 1681.8 225.4 1682.1 226.0 1682.9 226.6 1680.4 227.2 1679.9 227.8 1681.3 228.4 1681.0 229.0 1680.8 229.6 1682.8 230.2 1680.0 230.8 1682.9 231.4 1681.7 232.0 1683.3 232.6 1682.0 233.3 1682.2 233.9 1681.2 234.5 1681.2 235.1 1678.0 235.7 1683.3 236.3 1683.6 236.9 1680.1 237.5 1682.4 238.1 1680.2 238.7 1682.1 239.3 1679.1 239.9 1680.5 240.5 1681.3 241.2 1680.0 241.8 1681.8 242.4 1678.7 243.0 1679.5 243.6 1682.2 244.2 1678.9 244.8 1679.6 245.4 1677.3 246.0 1678.7 246.6 1679.4 247.2 1682.6 247.8 1679.4 248.4 1681.3 249.0 1680.2 249.7 1679.1 250.3 1678.5 250.9 1682.2 251.5 1678.9 252.1 1678.2 252.7 1676.4 253.3 1679.1 253.9 1679.1 254.5 1679.4 255.1 1676.9 255.7 1676.4 256.3 1675.7 256.9 1677.7 257.5 1677.2 258.2 1677.5 258.8 1679.2 259.4 1676.9 260.0 1678.9 260.6 1673.9 261.2 1679.0 261.8 1676.9 262.4 1675.8 263.0 1676.0 263.6 1675.1 264.2 1675.8 264.8 1673.5 265.4 1675.6 266.1 1668.4 266.7 1668.6 267.3 1667.1 267.9 1666.3 268.5 1659.8 269.1 1658.9 269.7 1660.3 270.3 1653.8 270.9 1653.6 271.5 1645.5 272.1 1644.8 272.7 1642.9 273.3 1639.1 273.9 1638.3 274.6 1637.3 275.2 1639.8 275.8 1641.9 276.4 1644.8 277.0 1645.8 277.6 1648.2 278.2 1648.8 278.8 1659.2 279.4 1661.1 280.0 1656.8 280.6 1664.1 281.2 1665.6 281.8 1666.8 282.5 1668.0 283.1 1671.7 283.7 1673.4 284.3 1675.2 284.9 1672.4 285.5 1673.7 286.1 1676.2 286.7 1675.5 287.3 1675.0 287.9 1675.3 288.5 1676.7 289.1 1674.1 289.7 1673.3 290.3 1677.2 291.0 1676.2 291.6 1673.8 292.2 1675.1 292.8 1675.9 293.4 1677.7 294.0 1676.5 294.6 1676.3 295.2 1674.6 295.8 1676.4 296.4 1674.4 297.0 1677.4 297.6 1680.4 298.2 1675.6 298.8 1678.7 299.5 1680.1 300.1 1674.0 300.7 1678.2 301.3 1676.1 301.9 1677.2 302.5 1676.0 303.1 1676.5 303.7 1677.3 304.3 1675.8 304.9 1676.5 305.5 1676.5 306.1 1676.3 306.7 1675.4 307.4 1675.0 308.0 1674.7 308.6 1678.5 309.2 1673.3 309.8 1679.0 310.4 1677.0 311.0 1677.9 311.6 1675.7 312.2 1678.0 312.8 1675.8 313.4 1674.3 314.0 1675.4 314.6 1674.1 315.2 1679.3 315.9 1676.6 316.5 1675.7 317.1 1675.3 317.7 1678.2 318.3 1677.4 318.9 1676.0 319.5 1674.6 320.1 1675.1 320.7 1676.8 321.3 1673.3 321.9 1674.9 322.5 1674.7 323.1 1673.2 323.7 1675.9 324.4 1674.1 325.0 1673.3 325.6 1672.8 326.2 1674.5 326.8 1672.2 327.4 1673.3 328.0 1674.1 328.6 1673.3 329.2 1673.9 329.8 1674.6 330.4 1670.5 331.0 1674.6 331.6 1672.9 332.3 1673.3 332.9 1674.4 333.5 1674.3 334.1 1672.3 334.7 1671.6 335.3 1673.0 335.9 1669.6 336.5 1674.1 337.1 1671.3 337.7 1673.0 338.3 1672.3 338.9 1675.2 339.5 1675.2 340.1 1671.8 340.8 1674.6 341.4 1672.4 342.0 1671.8 342.6 1673.0 343.2 1671.2 343.8 1672.3 344.4 1670.1 345.0 1671.4 345.6 1673.3 346.2 1671.1 346.8 1674.9 347.4 1673.8 348.0 1671.2 348.7 1673.2 349.3 1671.9 349.9 1674.4 350.5 1674.7 351.1 1671.5 351.7 1670.1 352.3 1675.4 352.9 1672.0 353.5 1672.0 354.1 1673.3 354.7 1670.5 355.3 1675.3 355.9 1672.7 356.5 1671.7 357.2 1677.4 357.8 1677.4 358.4 1673.9 359.0 1674.1 359.6 1674.8 360.2 1671.8 360.8 1667.9 361.4 1674.6 362.0 1672.3 362.6 1672.7 363.2 1673.4 363.8 1673.8 364.4 1674.8 365.0 1672.1 365.7 1670.4 366.3 1672.6 366.9 1672.9 367.5 1672.7 368.1 1673.9 368.7 1673.2 369.3 1673.3 369.9 1672.7 370.5 1670.5 371.1 1676.3 371.7 1670.6 372.3 1670.1 372.9 1672.6 373.6 1676.0 374.2 1673.6 374.8 1674.7 375.4 1667.3 376.0 1673.1 376.6 1672.5 377.2 1673.3 377.8 1674.3 378.4 1675.2 379.0 1674.8 379.6 1674.0 380.2 1675.3 380.8 1671.4 381.4 1671.3 382.1 1671.9 382.7 1672.0 383.3 1671.1 383.9 1672.4 384.5 1673.5 385.1 1673.7 385.7 1671.9 386.3 1671.6 386.9 1671.6 387.5 1671.3 388.1 1672.5 388.7 1669.5 389.3 1670.9 389.9 1671.1 390.6 1676.7 391.2 1671.2 391.8 1669.8 392.4 1672.0 393.0 1669.9 393.6 1673.8 394.2 1677.7 394.8 1672.1 395.4 1670.6 396.0 1673.0 396.6 1673.1 397.2 1673.4 397.8 1672.9 398.5 1675.3 399.1 1673.6 399.7 1672.9 400.3 1673.8 400.9 1670.2 401.5 1671.5 402.1 1674.6 402.7 1672.0 403.3 1671.7 403.9 1673.6 404.5 1675.5 405.1 1672.5 405.7 1671.2 406.3 1671.7 407.0 1671.8 407.6 1673.8 408.2 1670.0 408.8 1672.6 409.4 1673.3 410.0 1671.7 410.6 1670.9 411.2 1671.8 411.8 1677.0 412.4 1673.2 413.0 1674.3 413.6 1670.2 414.2 1672.3 414.9 1671.1 415.5 1673.4 416.1 1672.1 416.7 1674.0 417.3 1672.7 417.9 1674.8 418.5 1673.1 419.1 1672.8 419.7 1672.7 420.3 1671.9 420.9 1673.0 421.5 1674.4 422.1 1671.2 422.7 1673.9 423.4 1673.4 424.0 1672.0 424.6 1672.1 425.2 1676.6 425.8 1675.1 426.4 1672.1 427.0 1672.4 427.6 1669.7 428.2 1673.6 428.8 1670.5 429.4 1672.8 430.0 1672.8 430.6 1669.0 431.2 1673.8 431.9 1673.6 432.5 1672.7 433.1 1672.6 433.7 1671.3 434.3 1672.8 434.9 1671.8 435.5 1671.3 436.1 1670.4 436.7 1670.8 437.3 1671.4 437.9 1673.7 438.5 1672.9 439.1 1669.9 439.8 1673.9 440.4 1674.1 441.0 1672.4 441.6 1673.8 442.2 1670.6 442.8 1670.8 443.4 1670.7 444.0 1673.6 444.6 1673.0 445.2 1668.7 445.8 1672.2 446.4 1669.6 447.0 1673.0 447.6 1672.2 448.3 1673.8 448.9 1672.3 449.5 1672.5 450.1 1674.5 450.7 1676.0 451.3 1673.1 451.9 1675.3 452.5 1676.5 453.1 1674.3 453.7 1671.3 454.3 1674.6 454.9 1672.6 455.5 1673.4 456.1 1675.6 456.8 1674.4 457.4 1673.1 458.0 1671.4 458.6 1675.7 459.2 1674.1 459.8 1674.7 460.4 1672.2 461.0 1672.3 461.6 1675.2 462.2 1673.4 462.8 1674.5 463.4 1674.8 464.0 1676.3 464.7 1676.4 465.3 1672.3 465.9 1671.1 466.5 1673.5 467.1 1674.4 467.7 1672.2 468.3 1675.5 468.9 1673.5 469.5 1673.7 470.1 1673.3 470.7 1673.4 471.3 1673.4 471.9 1673.8 472.5 1672.9 473.2 1673.2 473.8 1674.8 474.4 1674.1 475.0 1674.7 475.6 1674.5 476.2 1673.4 476.8 1675.1 477.4 1673.0 478.0 1675.7 478.6 1670.6 479.2 1675.8 479.8 1672.9 480.4 1675.9 481.1 1673.8 481.7 1674.1 482.3 1673.5 482.9 1672.8 483.5 1678.1 484.1 1675.6 484.7 1673.1 485.3 1671.9 485.9 1675.5 486.5 1674.0 487.1 1675.2 487.7 1675.4 488.3 1677.8 488.9 1675.6 489.6 1671.8 490.2 1676.2 490.8 1673.4 491.4 1673.6 492.0 1679.2 492.6 1674.4 493.2 1673.2 493.8 1672.5 494.4 1673.8 495.0 1673.6 495.6 1677.6 496.2 1675.3 496.8 1677.8 497.4 1678.4 498.1 1673.4 498.7 1673.6 499.3 1673.4 499.9 1674.1 500.5 1677.1 501.1 1674.2 501.7 1674.4 502.3 1675.2 502.9 1675.8 503.5 1673.6 504.1 1676.0 504.7 1671.6 505.3 1678.5 506.0 1677.5 506.6 1675.7 507.2 1677.1 507.8 1675.8 508.4 1674.9 509.0 1673.9 509.6 1677.0 510.2 1672.0 510.8 1676.7 511.4 1675.4 512.0 1680.3 512.6 1674.5 513.2 1678.0 513.8 1678.0 514.5 1673.7 515.1 1676.4 515.7 1673.6 516.3 1674.7 516.9 1676.6 517.5 1674.0 518.1 1675.9 518.7 1675.0 519.3 1673.7 519.9 1677.6 520.5 1674.7 521.1 1675.5 521.7 1676.9 522.3 1672.0 523.0 1671.5 523.6 1676.9 524.2 1677.0 524.8 1676.9 525.4 1674.9 526.0 1676.9 526.6 1674.2 527.2 1678.5 527.8 1675.1 528.4 1677.6 529.0 1673.8 529.6 1678.2 530.2 1677.4 530.9 1674.4 531.5 1677.7 532.1 1671.5 532.7 1675.4 533.3 1678.1 533.9 1677.1 534.5 1677.0 535.1 1674.6 535.7 1675.3 536.3 1676.3 536.9 1679.5 537.5 1678.9 538.1 1677.3 538.7 1676.9 539.4 1678.5 540.0 1677.3 540.6 1678.1 541.2 1679.5 541.8 1677.4 542.4 1676.9 543.0 1677.3 543.6 1678.3 544.2 1678.9 544.8 1677.8 545.4 1677.8 546.0 1677.1 546.6 1677.4 547.3 1676.6 547.9 1680.4 548.5 1680.1 549.1 1676.9 549.7 1676.3 550.3 1679.9 550.9 1680.8 551.5 1676.9 552.1 1677.5 552.7 1678.7 553.3 1678.7 553.9 1681.2 554.5 1677.3 555.1 1675.9 555.8 1679.8 556.4 1677.7 557.0 1676.4 557.6 1676.2 558.2 1676.7 558.8 1677.8 559.4 1678.1 560.0 1676.7 560.6 1677.3 561.2 1675.8 561.8 1679.6 562.4 1679.9 563.0 1677.4 563.6 1675.7 564.3 1678.7 564.9 1676.4 565.5 1679.2 566.1 1678.5 566.7 1677.6 567.3 1677.9 567.9 1679.4 568.5 1677.9 569.1 1676.6 569.7 1679.7 570.3 1681.3 570.9 1679.4 571.5 1678.9 572.2 1679.8 572.8 1680.8 573.4 1676.6 574.0 1677.1 574.6 1677.1 575.2 1678.2 575.8 1676.8 576.4 1677.0 577.0 1676.1 577.6 1675.2 578.2 1676.3 578.8 1675.9 579.4 1677.8 580.0 1676.4 580.7 1675.4 581.3 1671.8 581.9 1674.3 582.5 1670.9 583.1 1670.3 583.7 1668.3 584.3 1670.6 584.9 1670.9 585.5 1670.3 586.1 1669.3 586.7 1669.9 587.3 1666.3 587.9 1664.1 588.5 1661.2 589.2 1657.4 589.8 1658.3 590.4 1653.4 591.0 1649.0 591.6 1644.7 592.2 1637.1 592.8 1637.3 593.4 1631.6 594.0 1623.0 594.6 1623.3 595.2 1614.5 595.8 1605.3 596.4 1600.3 597.1 1592.5 597.7 1582.8 598.3 1580.0 598.9 1568.7 599.5 1563.6 600.1 1554.2 600.7 1542.7 601.3 1537.0 601.9 1530.1 602.5 1527.0 603.1 1521.9 603.7 1512.6 604.3 1510.0 604.9 1507.6 605.6 1504.7 606.2 1500.8 606.8 1499.0 607.4 1501.1 608.0 1504.0 608.6 1506.3 609.2 1515.1 609.8 1514.0 610.4 1523.5 611.0 1528.9 611.6 1533.2 612.2 1545.9 612.8 1549.9 613.5 1561.1 614.1 1566.4 614.7 1579.3 615.3 1586.5 615.9 1589.0 616.5 1596.8 617.1 1607.4 617.7 1613.5 618.3 1618.9 618.9 1625.6 619.5 1631.1 620.1 1635.7 620.7 1638.9 621.3 1646.5 622.0 1648.8 622.6 1650.7 623.2 1655.7 623.8 1660.8 624.4 1661.1 625.0 1660.7 625.6 1665.3 626.2 1665.9 626.8 1669.2 627.4 1669.4 628.0 1671.2 628.6 1672.1 629.2 1671.8 629.8 1671.1 630.5 1676.9 631.1 1674.0 631.7 1676.8 632.3 1670.5 632.9 1676.7 633.5 1672.2 634.1 1678.0 634.7 1676.7 635.3 1677.7 635.9 1677.9 636.5 1677.0 637.1 1676.0 637.7 1675.8 638.4 1674.7 639.0 1676.2 639.6 1678.1 640.2 1677.0 640.8 1677.6 641.4 1677.4 642.0 1676.9 642.6 1679.1 643.2 1675.6 643.8 1675.3 644.4 1680.4 645.0 1679.2 645.6 1676.7 646.2 1681.3 646.9 1677.2 647.5 1680.0 648.1 1678.0 648.7 1678.5 649.3 1679.4 649.9 1679.2 650.5 1679.7 651.1 1676.9 651.7 1676.5 652.3 1677.8 652.9 1678.3 653.5 1680.2 654.1 1678.1 654.7 1676.8 655.4 1680.3 656.0 1677.3 656.6 1677.5 657.2 1677.0 657.8 1674.2 658.4 1675.1 659.0 1679.3 659.6 1678.3 660.2 1679.0 660.8 1679.1 661.4 1676.2 662.0 1675.4 662.6 1677.2 663.3 1677.0 663.9 1677.8 664.5 1678.3 665.1 1677.9 665.7 1677.2 666.3 1677.7 666.9 1677.1 667.5 1676.3 668.1 1678.4 668.7 1676.6 669.3 1677.8 669.9 1675.4 670.5 1677.6 671.1 1675.3 671.8 1681.1 672.4 1676.7 673.0 1676.0 673.6 1674.2 674.2 1675.3 674.8 1679.5 675.4 1679.6 676.0 1676.1 676.6 1675.8 677.2 1673.8 677.8 1674.8 678.4 1670.8 679.0 1671.4 679.7 1669.6 680.3 1666.7 680.9 1665.7 681.5 1666.7 682.1 1663.2 682.7 1662.7 683.3 1659.2 683.9 1656.6 684.5 1656.9 685.1 1650.1 685.7 1653.5 686.3 1652.1 686.9 1651.0 687.5 1655.1 688.2 1655.0 688.8 1654.5 689.4 1656.3 690.0 1658.1 690.6 1661.0 691.2 1661.5 691.8 1664.1 692.4 1667.7 693.0 1667.6 693.6 1669.4 694.2 1667.8 694.8 1668.5 695.4 1668.1 696.0 1668.8 696.7 1668.4 697.3 1664.4 697.9 1670.8 698.5 1668.2 699.1 1659.8 699.7 1662.7 700.3 1658.4 700.9 1656.2 701.5 1654.7 702.1 1652.4 702.7 1653.0 703.3 1652.2 703.9 1651.3 704.6 1653.0 705.2 1654.8 705.8 1653.5 706.4 1658.1 707.0 1658.7 707.6 1660.2 708.2 1661.6 708.8 1661.2 709.4 1666.8 710.0 1667.9 710.6 1666.8 711.2 1667.2 711.8 1668.2 712.4 1670.5 713.1 1671.7 713.7 1671.5 714.3 1672.4 714.9 1671.6 715.5 1672.4 716.1 1674.8 716.7 1672.1 717.3 1669.3 717.9 1670.9 718.5 1672.6 719.1 1667.6 719.7 1669.4 720.3 1670.1 720.9 1667.2 721.6 1666.5 722.2 1665.6 722.8 1660.4 723.4 1655.0 724.0 1649.6 724.6 1649.5 725.2 1640.0 725.8 1633.2 726.4 1626.1 727.0 1611.5 727.6 1601.1 728.2 1586.2 728.8 1573.8 729.5 1559.5 730.1 1537.0 730.7 1519.1 731.3 1507.4 731.9 1487.1 732.5 1471.9 733.1 1460.3 733.7 1445.9 734.3 1436.5 734.9 1434.2 735.5 1431.8 736.1 1438.4 736.7 1444.5 737.3 1457.9 738.0 1469.0 738.6 1485.6 739.2 1503.8 739.8 1523.3 740.4 1543.3 741.0 1557.8 741.6 1571.9 742.2 1585.4 742.8 1600.6 743.4 1611.1 744.0 1625.8 744.6 1631.1 745.2 1640.2 745.9 1648.6 746.5 1651.5 747.1 1657.4 747.7 1663.9 748.3 1661.5 748.9 1665.8 749.5 1667.5 750.1 1667.6 750.7 1667.7 751.3 1671.0 751.9 1669.7 752.5 1671.1 753.1 1674.8 753.7 1669.9 754.4 1670.1 755.0 1675.1 755.6 1671.4 756.2 1669.3 756.8 1674.9 757.4 1672.4 758.0 1672.9 758.6 1674.3 759.2 1674.1 759.8 1672.5 760.4 1673.6 761.0 1676.4 761.6 1675.5 762.2 1671.3 762.9 1674.7 763.5 1672.0 764.1 1672.9 764.7 1674.1 765.3 1677.8 765.9 1676.4 766.5 1673.6 767.1 1677.6 767.7 1675.9 768.3 1678.3 768.9 1676.3 769.5 1674.5 770.1 1677.1 770.8 1679.8 771.4 1676.5 772.0 1677.8 772.6 1676.7 773.2 1675.0 773.8 1677.8 774.4 1677.6 775.0 1675.9 775.6 1677.2 776.2 1675.9 776.8 1678.4 777.4 1676.9 778.0 1674.2 778.6 1678.6 779.3 1673.0 779.9 1674.1 780.5 1675.8 781.1 1674.8 781.7 1676.2 782.3 1674.0 782.9 1676.4 783.5 1676.6 784.1 1675.4 784.7 1675.7 785.3 1672.8 785.9 1678.8 786.5 1674.6 787.1 1674.1 787.8 1672.9 788.4 1675.4 789.0 1675.3 789.6 1673.3 790.2 1673.7 790.8 1676.0 791.4 1673.4 792.0 1672.0 792.6 1674.5 793.2 1675.9 793.8 1676.8 794.4 1675.5 795.0 1672.0 795.7 1673.7 796.3 1672.8 796.9 1674.3 797.5 1670.5 798.1 1672.2 798.7 1673.6 799.3 1671.4 799.9 1669.5 800.5 1669.2 801.1 1666.9 801.7 1666.2 802.3 1663.9 802.9 1661.3 803.5 1659.0 804.2 1655.7 804.8 1656.0 805.4 1653.0 806.0 1649.7 806.6 1650.1 807.2 1647.8 807.8 1642.8 808.4 1643.3 809.0 1641.6 809.6 1643.2 810.2 1641.3 810.8 1643.6 811.4 1646.8 812.1 1647.1 812.7 1649.2 813.3 1653.4 813.9 1655.9 814.5 1656.3 815.1 1657.9 815.7 1658.0 816.3 1660.0 816.9 1663.5 817.5 1658.7 818.1 1662.0 818.7 1663.4 819.3 1666.0 819.9 1663.2 820.6 1666.9 821.2 1667.4 821.8 1664.6 822.4 1662.5 823.0 1661.6 823.6 1664.1 824.2 1666.4 824.8 1661.5 825.4 1665.3 826.0 1664.6 826.6 1660.1 827.2 1660.9 827.8 1663.9 828.4 1664.5 829.1 1666.3 829.7 1662.5 830.3 1664.0 830.9 1665.5 831.5 1668.3 832.1 1667.3 832.7 1668.1 833.3 1665.3 833.9 1668.2 834.5 1667.3 835.1 1666.4 835.7 1669.4 836.3 1675.3 837.0 1672.6 837.6 1670.0 838.2 1672.2 838.8 1674.7 839.4 1672.8 840.0 1676.0 840.6 1674.9 841.2 1668.3 841.8 1674.2 842.4 1673.7 843.0 1672.3 843.6 1672.9 844.2 1674.8 844.8 1675.1 845.5 1675.3 846.1 1677.9 846.7 1675.6 847.3 1675.7 847.9 1675.7 848.5 1674.7 849.1 1675.5 849.7 1680.6 850.3 1671.1 850.9 1675.1 851.5 1676.4 852.1 1674.7 852.7 1676.9 853.3 1675.3 854.0 1676.3 854.6 1676.7 855.2 1673.3 855.8 1674.8 856.4 1673.6 857.0 1674.3 857.6 1672.9 858.2 1673.5 858.8 1671.2 859.4 1671.1 860.0 1671.7 860.6 1670.5 861.2 1670.2 861.9 1667.5 862.5 1667.2 863.1 1669.4 863.7 1666.2 864.3 1667.3 864.9 1664.5 865.5 1665.6 866.1 1666.4 866.7 1663.7 867.3 1663.5 867.9 1665.3 868.5 1665.2 869.1 1664.2 869.7 1666.3 870.4 1668.3 871.0 1669.5 871.6 1669.7 872.2 1671.2 872.8 1670.7 873.4 1673.4 874.0 1672.4 874.6 1674.4 875.2 1674.1 875.8 1673.7 876.4 1675.7 877.0 1672.2 877.6 1671.7 878.3 1674.8 878.9 1672.2 879.5 1674.6 880.1 1671.4 880.7 1674.6 881.3 1672.6 881.9 1678.3 882.5 1674.8 883.1 1674.5 883.7 1677.1 884.3 1675.0 884.9 1676.4 885.5 1672.2 886.1 1675.3 886.8 1675.3 887.4 1672.1 888.0 1671.0 888.6 1676.1 889.2 1673.2 889.8 1674.8 890.4 1677.6 891.0 1673.7 891.6 1674.9 892.2 1674.8 892.8 1673.6 893.4 1676.7 894.0 1673.3 894.6 1676.3 895.3 1676.6 895.9 1674.5 896.5 1677.9 897.1 1677.5 897.7 1676.5 898.3 1675.1 898.9 1677.3 899.5 1676.1 900.1 1674.3 900.7 1676.4 901.3 1674.6 901.9 1675.6 902.5 1675.5 903.2 1676.3 903.8 1676.1 904.4 1675.3 905.0 1676.1 905.6 1677.8 906.2 1672.5 906.8 1672.5 907.4 1672.5 908.0 1674.4 908.6 1675.8 909.2 1673.9 909.8 1675.9 910.4 1676.7 911.0 1673.8 911.7 1674.2 912.3 1676.2 912.9 1675.8 913.5 1675.5 914.1 1677.8 914.7 1672.6 915.3 1676.4 915.9 1673.6 916.5 1673.3 917.1 1673.9 917.7 1674.1 918.3 1675.4 918.9 1675.1 919.5 1673.2 920.2 1676.6 920.8 1671.5 921.4 1676.7 922.0 1674.9 922.6 1674.6 923.2 1675.7 923.8 1675.9 924.4 1675.1 925.0 1671.4 925.6 1672.1 926.2 1674.0 926.8 1673.7 927.4 1673.6 928.1 1671.0 928.7 1672.9 929.3 1675.6 929.9 1673.2 930.5 1674.7 931.1 1670.9 931.7 1674.1 932.3 1674.2 932.9 1670.4 933.5 1671.9 934.1 1669.1 934.7 1668.8 935.3 1666.9 935.9 1664.3 936.6 1662.3 937.2 1660.8 937.8 1657.3 938.4 1653.4 939.0 1649.6 939.6 1648.3 940.2 1645.1 940.8 1640.2 941.4 1636.7 942.0 1625.6 942.6 1622.4 943.2 1617.5 943.8 1608.3 944.5 1605.8 945.1 1595.3 945.7 1594.3 946.3 1582.5 946.9 1575.4 947.5 1572.5 948.1 1570.6 948.7 1562.9 949.3 1563.0 949.9 1559.0 950.5 1557.5 951.1 1561.7 951.7 1566.4 952.3 1568.2 953.0 1571.9 953.6 1574.0 954.2 1583.6 954.8 1591.1 955.4 1600.3 956.0 1603.3 956.6 1610.6 957.2 1615.0 957.8 1621.1 958.4 1631.2 959.0 1636.0 959.6 1639.7 960.2 1644.4 960.8 1649.1 961.5 1651.5 962.1 1655.9 962.7 1661.3 963.3 1658.8 963.9 1666.6 964.5 1668.6 965.1 1668.6 965.7 1672.1 966.3 1667.9 966.9 1669.8 967.5 1670.8 968.1 1672.0 968.7 1672.1 969.4 1671.4 970.0 1673.3 970.6 1673.1 971.2 1672.6 971.8 1676.2 972.4 1678.2 973.0 1676.5 973.6 1676.6 974.2 1677.1 974.8 1679.7 975.4 1678.0 976.0 1678.2 976.6 1677.6 977.2 1675.9 977.9 1680.1 978.5 1680.2 979.1 1678.7 979.7 1678.5 980.3 1680.5 980.9 1680.0 981.5 1677.8 982.1 1677.9 982.7 1680.0 983.3 1680.3 983.9 1677.3 984.5 1682.4 985.1 1676.7 985.8 1677.5 986.4 1678.5 987.0 1680.3 987.6 1678.8 988.2 1678.0 988.8 1680.7 989.4 1679.0 990.0 1679.5 990.6 1679.8 991.2 1677.3 991.8 1677.2 992.4 1678.6 993.0 1677.8 993.6 1677.7 994.3 1678.8 994.9 1677.4 995.5 1676.3 996.1 1680.2 996.7 1677.0 997.3 1678.2 997.9 1675.7 998.5 1678.9 999.1 1676.2 999.7 1677.9 1000.3 1679.6 1000.9 1677.5 1001.5 1677.2 1002.1 1680.1 1002.8 1678.5 1003.4 1679.2 1004.0 1675.2 1004.6 1676.7 1005.2 1676.6 1005.8 1679.7 1006.4 1678.0 1007.0 1675.0 1007.6 1676.9 1008.2 1675.5 1008.8 1675.8 1009.4 1673.9 1010.0 1676.2 1010.7 1675.4 1011.3 1673.7 1011.9 1673.3 1012.5 1675.8 1013.1 1671.6 1013.7 1673.8 1014.3 1668.5 1014.9 1666.0 1015.5 1666.1 1016.1 1663.9 1016.7 1664.7 1017.3 1662.3 1017.9 1658.1 1018.5 1657.0 1019.2 1653.2 1019.8 1651.9 1020.4 1652.5 1021.0 1647.5 1021.6 1638.7 1022.2 1637.7 1022.8 1631.9 1023.4 1624.2 1024.0 1622.7 1024.6 1611.4 1025.2 1607.4 1025.8 1600.4 1026.4 1594.5 1027.0 1583.8 1027.7 1578.7 1028.3 1567.2 1028.9 1563.9 1029.5 1555.3 1030.1 1544.0 1030.7 1526.7 1031.3 1529.9 1031.9 1512.0 1032.5 1507.5 1033.1 1503.2 1033.7 1490.3 1034.3 1481.8 1034.9 1477.7 1035.6 1467.7 1036.2 1464.6 1036.8 1461.0 1037.4 1460.2 1038.0 1455.6 1038.6 1455.8 1039.2 1453.8 1039.8 1458.9 1040.4 1464.0 1041.0 1463.6 1041.6 1473.4 1042.2 1480.9 1042.8 1485.5 1043.4 1492.4 1044.1 1503.4 1044.7 1509.8 1045.3 1515.9 1045.9 1526.3 1046.5 1535.2 1047.1 1545.2 1047.7 1549.8 1048.3 1557.9 1048.9 1568.3 1049.5 1576.6 1050.1 1588.3 1050.7 1598.4 1051.3 1600.6 1052.0 1608.8 1052.6 1615.4 1053.2 1622.7 1053.8 1629.0 1054.4 1633.9 1055.0 1635.4 1055.6 1641.1 1056.2 1644.9 1056.8 1650.2 1057.4 1653.7 1058.0 1657.2 1058.6 1657.4 1059.2 1659.9 1059.8 1660.6 1060.5 1666.2 1061.1 1666.9 1061.7 1667.6 1062.3 1671.1 1062.9 1669.6 1063.5 1670.8 1064.1 1671.8 1064.7 1673.3 1065.3 1674.9 1065.9 1673.5 1066.5 1673.4 1067.1 1675.8 1067.7 1675.1 1068.3 1672.6 1069.0 1673.2 1069.6 1676.8 1070.2 1678.0 1070.8 1676.8 1071.4 1675.7 1072.0 1675.8 1072.6 1675.2 1073.2 1674.1 1073.8 1674.7 1074.4 1675.9 1075.0 1674.4 1075.6 1677.9 1076.2 1676.1 1076.9 1675.8 1077.5 1673.0 1078.1 1675.9 1078.7 1675.0 1079.3 1677.2 1079.9 1673.3 1080.5 1672.5 1081.1 1675.2 1081.7 1674.9 1082.3 1674.3 1082.9 1675.8 1083.5 1672.3 1084.1 1672.1 1084.7 1672.5 1085.4 1673.5 1086.0 1669.8 1086.6 1664.5 1087.2 1662.3 1087.8 1660.9 1088.4 1657.7 1089.0 1651.7 1089.6 1646.9 1090.2 1638.8 1090.8 1635.2 1091.4 1633.7 1092.0 1627.9 1092.6 1623.3 1093.2 1620.0 1093.9 1619.9 1094.5 1617.7 1095.1 1620.2 1095.7 1617.0 1096.3 1626.3 1096.9 1626.3 1097.5 1630.8 1098.1 1634.6 1098.7 1640.6 1099.3 1638.1 1099.9 1640.7 1100.5 1641.5 1101.1 1644.2 1101.8 1641.1 1102.4 1642.6 1103.0 1642.0 1103.6 1639.6 1104.2 1633.9 1104.8 1633.1 1105.4 1626.2 1106.0 1622.1 1106.6 1623.7 1107.2 1620.9 1107.8 1612.4 1108.4 1608.9 1109.0 1610.0 1109.6 1611.9 1110.3 1612.5 1110.9 1615.8 1111.5 1614.9 1112.1 1621.7 1112.7 1625.7 1113.3 1623.5 1113.9 1632.1 1114.5 1630.5 1115.1 1632.6 1115.7 1637.0 1116.3 1638.6 1116.9 1639.8 1117.5 1643.4 1118.2 1641.1 1118.8 1644.2 1119.4 1642.3 1120.0 1645.2 1120.6 1644.5 1121.2 1644.5 1121.8 1645.8 1122.4 1645.0 1123.0 1646.2 1123.6 1641.3 1124.2 1642.7 1124.8 1646.2 1125.4 1646.4 1126.0 1648.3 1126.7 1648.8 1127.3 1644.7 1127.9 1646.3 1128.5 1644.1 1129.1 1648.6 1129.7 1646.7 1130.3 1650.2 1130.9 1650.6 1131.5 1648.0 1132.1 1653.0 1132.7 1650.7 1133.3 1652.9 1133.9 1653.7 1134.5 1654.8 1135.2 1652.4 1135.8 1654.6 1136.4 1653.4 1137.0 1656.2 1137.6 1658.7 1138.2 1659.0 1138.8 1659.0 1139.4 1660.1 1140.0 1657.9 1140.6 1656.6 1141.2 1663.4 1141.8 1658.6 1142.4 1664.4 1143.1 1663.5 1143.7 1663.5 1144.3 1664.0 1144.9 1665.3 1145.5 1667.8 1146.1 1665.2 1146.7 1665.8 1147.3 1667.5 1147.9 1671.4 1148.5 1671.0 1149.1 1669.6 1149.7 1667.5 1150.3 1672.4 1150.9 1674.9 1151.6 1672.8 1152.2 1668.4 1152.8 1673.1 1153.4 1675.0 1154.0 1672.5 1154.6 1673.5 1155.2 1673.8 1155.8 1673.4 1156.4 1674.7 1157.0 1676.6 1157.6 1675.4 1158.2 1676.3 1158.8 1673.8 1159.4 1673.8 1160.1 1670.4 1160.7 1674.3 1161.3 1671.9 1161.9 1672.0 1162.5 1672.4 1163.1 1670.5 1163.7 1673.1 1164.3 1670.9 1164.9 1669.3 1165.5 1667.2 1166.1 1666.2 1166.7 1670.7 1167.3 1671.2 1168.0 1668.7 1168.6 1670.9 1169.2 1664.5 1169.8 1668.9 1170.4 1671.5 1171.0 1673.2 1171.6 1672.1 1172.2 1672.5 1172.8 1673.3 1173.4 1674.7 1174.0 1673.4 1174.6 1674.5 1175.2 1674.6 1175.8 1677.0 1176.5 1676.2 1177.1 1674.6 1177.7 1674.0 1178.3 1677.4 1178.9 1674.6 1179.5 1677.7 1180.1 1680.8 1180.7 1674.0 1181.3 1677.4 1181.9 1677.7 1182.5 1676.9 1183.1 1677.6 1183.7 1679.1 1184.4 1676.4 1185.0 1677.2 1185.6 1679.1 1186.2 1677.4 1186.8 1674.9 1187.4 1678.0 1188.0 1678.6 1188.6 1676.3 1189.2 1676.6 1189.8 1677.2 1190.4 1676.9 1191.0 1676.8 1191.6 1677.1 1192.2 1677.9 1192.9 1678.1 1193.5 1677.9 1194.1 1678.0 1194.7 1679.4 1195.3 1677.1 1195.9 1674.9 1196.5 1676.2 1197.1 1673.1 1197.7 1677.3 1198.3 1678.8 1198.9 1673.9 1199.5 1677.0 1200.1 1675.7 1200.7 1673.6 1201.4 1673.2 1202.0 1671.8 1202.6 1672.0 1203.2 1670.1 1203.8 1672.9 1204.4 1667.1 1205.0 1669.0 1205.6 1667.9 1206.2 1661.8 1206.8 1661.7 1207.4 1663.6 1208.0 1659.5 1208.6 1658.2 1209.3 1656.0 1209.9 1651.7 1210.5 1650.6 1211.1 1644.5 1211.7 1648.4 1212.3 1646.4 1212.9 1644.9 1213.5 1643.5 1214.1 1642.8 1214.7 1638.5 1215.3 1637.7 1215.9 1639.7 1216.5 1639.4 1217.1 1644.1 1217.8 1642.3 1218.4 1645.3 1219.0 1644.4 1219.6 1650.4 1220.2 1652.3 1220.8 1648.3 1221.4 1655.1 1222.0 1655.8 1222.6 1658.5 1223.2 1660.4 1223.8 1661.3 1224.4 1666.3 1225.0 1665.2 1225.6 1664.8 1226.3 1668.7 1226.9 1670.3 1227.5 1668.1 1228.1 1671.8 1228.7 1672.9 1229.3 1674.1 1229.9 1675.3 1230.5 1674.2 1231.1 1676.9 1231.7 1676.7 1232.3 1674.8 1232.9 1676.6 1233.5 1678.1 1234.2 1677.1 1234.8 1678.4 1235.4 1675.8 1236.0 1676.3 1236.6 1680.2 1237.2 1678.9 1237.8 1677.9 1238.4 1678.6 1239.0 1679.5 1239.6 1679.2 1240.2 1678.6 1240.8 1677.2 1241.4 1674.9 1242.0 1677.9 1242.7 1677.7 1243.3 1680.8 1243.9 1678.9 1244.5 1680.4 1245.1 1677.6 1245.7 1679.3 1246.3 1679.2 1246.9 1677.5 1247.5 1677.9 1248.1 1677.6 1248.7 1680.8 1249.3 1679.8 1249.9 1676.8 1250.6 1676.4 1251.2 1679.4 1251.8 1677.9 1252.4 1678.6 1253.0 1680.5 1253.6 1680.1 1254.2 1679.6 1254.8 1677.3 1255.4 1678.3 1256.0 1679.3 1256.6 1677.9 1257.2 1676.5 1257.8 1675.9 1258.4 1678.4 1259.1 1676.5 1259.7 1677.5 1260.3 1676.8 1260.9 1679.5 1261.5 1680.0 1262.1 1681.5 1262.7 1675.9 1263.3 1678.8 1263.9 1678.9 1264.5 1675.1 1265.1 1679.4 1265.7 1680.3 1266.3 1678.6 1266.9 1675.5 1267.6 1673.3 1268.2 1675.1 1268.8 1676.5 1269.4 1674.6 1270.0 1672.8 1270.6 1674.8 1271.2 1672.5 1271.8 1672.1 1272.4 1667.7 1273.0 1669.6 1273.6 1666.1 1274.2 1665.8 1274.8 1663.2 1275.5 1662.5 1276.1 1659.8 1276.7 1658.8 1277.3 1652.2 1277.9 1652.1 1278.5 1655.8 1279.1 1649.3 1279.7 1647.4 1280.3 1646.3 1280.9 1641.0 1281.5 1643.9 1282.1 1640.7 1282.7 1641.5 1283.3 1644.3 1284.0 1639.1 1284.6 1638.2 1285.2 1642.8 1285.8 1640.1 1286.4 1644.2 1287.0 1644.9 1287.6 1646.6 1288.2 1647.4 1288.8 1647.4 1289.4 1648.6 1290.0 1653.4 1290.6 1653.4 1291.2 1657.3 1291.8 1658.3 1292.5 1661.2 1293.1 1663.5 1293.7 1666.3 1294.3 1666.1 1294.9 1668.6 1295.5 1670.7 1296.1 1669.5 1296.7 1672.7 1297.3 1673.1 1297.9 1669.6 1298.5 1672.8 1299.1 1676.2 1299.7 1675.8 1300.4 1673.1 1301.0 1678.3 1301.6 1674.2 1302.2 1673.8 1302.8 1677.8 1303.4 1674.3 1304.0 1675.4 1304.6 1675.6 1305.2 1677.7 1305.8 1676.5 1306.4 1677.2 1307.0 1675.9 1307.6 1672.9 1308.2 1676.5 1308.9 1674.9 1309.5 1676.0 1310.1 1675.2 1310.7 1677.3 1311.3 1675.7 1311.9 1673.3 1312.5 1674.8 1313.1 1675.2 1313.7 1675.1 1314.3 1681.0 1314.9 1675.4 1315.5 1676.3 1316.1 1676.0 1316.8 1674.9 1317.4 1678.3 1318.0 1677.0 1318.6 1679.8 1319.2 1680.1 1319.8 1676.4 1320.4 1673.6 1321.0 1676.0 1321.6 1677.8 1322.2 1675.5 1322.8 1674.9 1323.4 1675.5 1324.0 1674.4 1324.6 1672.4 1325.3 1674.1 1325.9 1670.5 1326.5 1673.6 1327.1 1673.8 1327.7 1672.4 1328.3 1668.0 1328.9 1667.6 1329.5 1670.6 1330.1 1670.0 1330.7 1668.4 1331.3 1670.8 1331.9 1671.1 1332.5 1672.6 1333.1 1674.3 1333.8 1673.9 1334.4 1674.2 1335.0 1672.8 1335.6 1679.6 1336.2 1676.2 1336.8 1681.3 1337.4 1678.6 1338.0 1679.5 1338.6 1678.4 1339.2 1679.1 1339.8 1680.2 1340.4 1675.1 1341.0 1681.5 1341.7 1680.3 1342.3 1676.2 1342.9 1680.4 1343.5 1677.0 1344.1 1678.1 1344.7 1678.4 1345.3 1676.5 1345.9 1676.9 1346.5 1676.3 1347.1 1675.4 1347.7 1672.8 1348.3 1677.6 1348.9 1675.1 1349.5 1671.1 1350.2 1669.2 1350.8 1671.0 1351.4 1668.2 1352.0 1663.9 1352.6 1661.9 1353.2 1661.1 1353.8 1659.0 1354.4 1656.2 1355.0 1654.7 1355.6 1652.0 1356.2 1649.1 1356.8 1651.1 1357.4 1651.2 1358.0 1650.1 1358.7 1649.4 1359.3 1650.2 1359.9 1651.5 1360.5 1655.4 1361.1 1655.3 1361.7 1660.0 1362.3 1659.2 1362.9 1659.4 1363.5 1664.2 1364.1 1664.8 1364.7 1664.3 1365.3 1669.0 1365.9 1670.5 1366.6 1672.9 1367.2 1672.6 1367.8 1671.6 1368.4 1674.1 1369.0 1673.0 1369.6 1676.3 1370.2 1677.8 1370.8 1675.9 1371.4 1673.3 1372.0 1677.0 1372.6 1678.2 1373.2 1678.8 1373.8 1677.6 1374.4 1681.7 1375.1 1682.3 1375.7 1677.3 1376.3 1681.5 1376.9 1683.2 1377.5 1683.9 1378.1 1683.1 1378.7 1684.3 1379.3 1681.5 1379.9 1681.6 1380.5 1682.2 1381.1 1684.2 1381.7 1685.3 1382.3 1683.3 1383.0 1683.3 1383.6 1684.0 1384.2 1682.6 1384.8 1684.5 1385.4 1684.5 1386.0 1685.4 1386.6 1683.4 1387.2 1685.6 1387.8 1684.0 1388.4 1683.3 1389.0 1682.3 1389.6 1684.7 1390.2 1682.9 1390.8 1682.6 1391.5 1682.2 1392.1 1678.9 1392.7 1681.0 1393.3 1680.1 1393.9 1681.5 1394.5 1680.0 1395.1 1679.0 1395.7 1680.9 1396.3 1675.9 1396.9 1674.5 1397.5 1674.8 1398.1 1673.2 1398.7 1672.2 1399.3 1676.8 1400.0 1675.5 1400.6 1671.8 1401.2 1671.1 1401.8 1669.0 1402.4 1671.2 1403.0 1669.8 1403.6 1668.5 1404.2 1670.1 1404.8 1669.9 1405.4 1669.0 1406.0 1667.3 1406.6 1670.3 1407.2 1668.2 1407.9 1667.9 1408.5 1670.9 1409.1 1667.4 1409.7 1668.9 1410.3 1671.4 1410.9 1671.9 1411.5 1671.4 1412.1 1668.6 1412.7 1670.2 1413.3 1671.7 1413.9 1669.0 1414.5 1667.6 1415.1 1667.4 1415.7 1665.3 1416.4 1665.3 1417.0 1661.5 1417.6 1659.8 1418.2 1656.2 1418.8 1655.8 1419.4 1651.7 1420.0 1645.5 1420.6 1639.1 1421.2 1638.2 1421.8 1636.2 1422.4 1627.5 1423.0 1622.7 1423.6 1616.8 1424.2 1616.2 1424.9 1611.5 1425.5 1606.5 1426.1 1605.9 1426.7 1596.5 1427.3 1592.1 1427.9 1597.0 1428.5 1594.7 1429.1 1594.3 1429.7 1594.6 1430.3 1594.1 1430.9 1593.0 1431.5 1597.3 1432.1 1601.7 1432.8 1606.0 1433.4 1606.2 1434.0 1612.3 1434.6 1613.2 1435.2 1613.8 1435.8 1617.3 1436.4 1617.1 1437.0 1625.3 1437.6 1625.9 1438.2 1629.0 1438.8 1634.6 1439.4 1630.0 1440.0 1634.1 1440.6 1637.2 1441.3 1638.8 1441.9 1644.3 1442.5 1645.7 1443.1 1646.5 1443.7 1647.2 1444.3 1649.7 1444.9 1650.1 1445.5 1654.9 1446.1 1656.9 1446.7 1658.1 1447.3 1656.1 1447.9 1660.9 1448.5 1660.9 1449.2 1665.6 1449.8 1665.7 1450.4 1665.5 1451.0 1665.6 1451.6 1668.4 1452.2 1668.0 1452.8 1669.1 1453.4 1672.1 1454.0 1671.9 1454.6 1672.5 1455.2 1670.5 1455.8 1671.2 1456.4 1672.1 1457.0 1672.3 1457.7 1676.2 1458.3 1676.8 1458.9 1675.8 1459.5 1673.4 1460.1 1674.7 1460.7 1676.0 1461.3 1676.4 1461.9 1676.1 1462.5 1680.8 1463.1 1676.9 1463.7 1678.1 1464.3 1679.7 1464.9 1674.0 1465.5 1673.8 1466.2 1677.5 1466.8 1674.4 1467.4 1677.2 1468.0 1678.1 1468.6 1675.6 1469.2 1676.6 1469.8 1676.5 1470.4 1679.0 1471.0 1676.5 1471.6 1676.2 1472.2 1677.1 1472.8 1676.8 1473.4 1676.8 1474.1 1676.7 1474.7 1679.2 1475.3 1675.9 1475.9 1677.2 1476.5 1676.5 1477.1 1677.5 1477.7 1673.8 1478.3 1678.3 1478.9 1675.4 1479.5 1676.5 1480.1 1680.1 1480.7 1674.0 1481.3 1676.1 1481.9 1674.6 1482.6 1674.4 1483.2 1673.8 1483.8 1673.2 1484.4 1676.0 1485.0 1671.3 1485.6 1675.1 1486.2 1671.9 1486.8 1669.1 1487.4 1667.2 1488.0 1670.5 1488.6 1668.0 1489.2 1668.5 1489.8 1669.3 1490.4 1664.0 1491.1 1663.7 1491.7 1662.7 1492.3 1659.8 1492.9 1660.9 1493.5 1657.6 1494.1 1657.4 1494.7 1656.4 1495.3 1655.1 1495.9 1655.0 1496.5 1655.3 1497.1 1652.6 1497.7 1646.4 1498.3 1650.4 1499.0 1645.9 1499.6 1643.5 1500.2 1643.8 1500.8 1638.1 1501.4 1635.8 1502.0 1634.5 1502.6 1634.8 1503.2 1629.8 1503.8 1629.5 1504.4 1625.4 1505.0 1623.5 1505.6 1619.8 1506.2 1619.8 1506.8 1618.3 1507.5 1619.0 1508.1 1622.0 1508.7 1622.5 1509.3 1623.6 1509.9 1627.2 1510.5 1626.9 1511.1 1636.2 1511.7 1637.5 1512.3 1638.7 1512.9 1641.4 1513.5 1645.8 1514.1 1647.5 1514.7 1650.9 1515.4 1652.7 1516.0 1656.8 1516.6 1659.3 1517.2 1664.8 1517.8 1664.3 1518.4 1663.7 1519.0 1666.3 1519.6 1669.1 1520.2 1670.3 1520.8 1672.5 1521.4 1673.4 1522.0 1672.4 1522.6 1671.9 1523.2 1670.1 1523.9 1673.7 1524.5 1672.7 1525.1 1672.1 1525.7 1672.0 1526.3 1674.1 1526.9 1674.2 1527.5 1671.9 1528.1 1676.5 1528.7 1674.5 1529.3 1671.2 1529.9 1678.0 1530.5 1674.4 1531.1 1673.7 1531.7 1674.0 1532.4 1676.3 1533.0 1673.8 1533.6 1674.3 1534.2 1671.5 1534.8 1674.8 1535.4 1674.2 1536.0 1674.4 1536.6 1677.1 1537.2 1675.1 1537.8 1675.1 1538.4 1674.8 1539.0 1674.6 1539.6 1674.8 1540.3 1677.7 1540.9 1677.6 1541.5 1675.4 1542.1 1676.4 1542.7 1678.3 1543.3 1676.1 1543.9 1675.4 1544.5 1675.7 1545.1 1673.8 1545.7 1676.6 1546.3 1673.9 1546.9 1673.0 1547.5 1676.7 1548.1 1672.7 1548.8 1674.2 1549.4 1672.5 1550.0 1672.4 1550.6 1676.7 1551.2 1673.3 1551.8 1676.7 1552.4 1674.5 1553.0 1675.2 1553.6 1676.3 1554.2 1678.2 1554.8 1676.5 1555.4 1674.7 1556.0 1677.0 1556.6 1677.4 1557.3 1678.4 1557.9 1675.3 1558.5 1675.0 1559.1 1674.2 1559.7 1674.6 1560.3 1678.1 1560.9 1678.3 1561.5 1674.2 1562.1 1677.5 1562.7 1672.5 1563.3 1675.8 1563.9 1673.5 1564.5 1674.5 1565.2 1678.7 1565.8 1676.3 1566.4 1675.8 1567.0 1677.4 1567.6 1674.0 1568.2 1676.2 1568.8 1675.6 1569.4 1676.3 1570.0 1674.4 1570.6 1672.6 1571.2 1673.2 1571.8 1669.8 1572.4 1673.4 1573.0 1672.6 1573.7 1669.7 1574.3 1667.9 1574.9 1667.9 1575.5 1666.4 1576.1 1663.5 1576.7 1657.7 1577.3 1660.4 1577.9 1655.8 1578.5 1650.9 1579.1 1649.0 1579.7 1645.4 1580.3 1645.8 1580.9 1641.1 1581.6 1641.9 1582.2 1640.1 1582.8 1640.2 1583.4 1642.1 1584.0 1642.4 1584.6 1644.4 1585.2 1644.0 1585.8 1647.1 1586.4 1647.8 1587.0 1656.1 1587.6 1654.9 1588.2 1658.2 1588.8 1659.9 1589.4 1662.8 1590.1 1668.2 1590.7 1665.0 1591.3 1668.4 1591.9 1668.2 1592.5 1670.5 1593.1 1672.0 1593.7 1673.0 1594.3 1672.5 1594.9 1673.8 1595.5 1672.5 1596.1 1677.8 1596.7 1675.3 1597.3 1675.4 1597.9 1672.7 1598.6 1673.0 1599.2 1674.9 1599.8 1676.0 1600.4 1677.2 1601.0 1674.7 1601.6 1672.1 1602.2 1676.1 1602.8 1673.0 1603.4 1675.6 1604.0 1676.1 1604.6 1676.8 1605.2 1676.8 1605.8 1674.7 1606.5 1676.6 1607.1 1675.4 1607.7 1678.7 1608.3 1674.8 1608.9 1675.4 1609.5 1678.6 1610.1 1674.1 1610.7 1677.3 1611.3 1673.2 1611.9 1677.3 1612.5 1673.8 1613.1 1679.1 1613.7 1677.4 1614.3 1677.0 1615.0 1678.2 1615.6 1673.9 1616.2 1676.6 1616.8 1676.0 1617.4 1676.0 1618.0 1674.2 1618.6 1676.2 1619.2 1677.6 1619.8 1675.3 1620.4 1673.8 1621.0 1672.7 1621.6 1678.6 1622.2 1674.3 1622.8 1676.8 1623.5 1680.3 1624.1 1677.0 1624.7 1678.9 1625.3 1677.3 1625.9 1677.6 1626.5 1678.0 1627.1 1676.4 1627.7 1677.6 1628.3 1677.7 1628.9 1674.8 1629.5 1677.1 1630.1 1677.1 1630.7 1677.2 1631.4 1676.2 1632.0 1675.6 1632.6 1674.9 1633.2 1675.1 1633.8 1676.7 1634.4 1677.4 1635.0 1674.7 1635.6 1674.5 1636.2 1677.6 1636.8 1678.9 1637.4 1675.6 1638.0 1677.2 1638.6 1679.1 1639.2 1674.4 1639.9 1678.0 1640.5 1678.0 1641.1 1678.8 1641.7 1677.5 1642.3 1678.9 1642.9 1675.5 1643.5 1675.2 1644.1 1677.9 1644.7 1676.0 1645.3 1678.3 1645.9 1679.3 1646.5 1677.3 1647.1 1679.0 1647.8 1677.7 1648.4 1677.2 1649.0 1677.2 1649.6 1678.7 1650.2 1681.1 1650.8 1676.6 1651.4 1676.0 1652.0 1677.2 1652.6 1674.6 1653.2 1678.5 1653.8 1680.1 1654.4 1675.0 1655.0 1676.9 1655.6 1674.7 1656.3 1676.9 1656.9 1676.4 1657.5 1678.5 1658.1 1676.1 1658.7 1677.4 1659.3 1673.7 1659.9 1676.1 1660.5 1673.8 1661.1 1670.9 1661.7 1672.5 1662.3 1672.1 1662.9 1670.6 1663.5 1671.3 1664.1 1669.0 1664.8 1670.6 1665.4 1667.1 1666.0 1671.3 1666.6 1668.7 1667.2 1667.7 1667.8 1667.5 1668.4 1668.4 1669.0 1667.4 1669.6 1668.6 1670.2 1668.2 1670.8 1671.1 1671.4 1670.0 1672.0 1672.6 1672.7 1670.0 1673.3 1673.1 1673.9 1677.2 1674.5 1672.8 1675.1 1673.1 1675.7 1673.3 1676.3 1674.2 1676.9 1672.9 1677.5 1679.2 1678.1 1677.1 1678.7 1676.6 1679.3 1678.0 1679.9 1680.6 1680.5 1675.6 1681.2 1677.9 1681.8 1678.6 1682.4 1677.3 1683.0 1682.2 1683.6 1675.3 1684.2 1676.7 1684.8 1676.0 1685.4 1678.1 1686.0 1678.1 1686.6 1680.8 1687.2 1675.4 1687.8 1679.3 1688.4 1678.4 1689.0 1679.2 1689.7 1677.0 1690.3 1677.1 1690.9 1679.2 1691.5 1676.4 1692.1 1677.0 1692.7 1679.8 1693.3 1677.9 1693.9 1680.9 1694.5 1678.5 1695.1 1679.5 1695.7 1677.1 1696.3 1680.3 1696.9 1675.0 1697.6 1677.4 1698.2 1681.4 1698.8 1679.6 1699.4 1680.9 1700.0 1677.2 1700.6 1680.4 1701.2 1680.2 1701.8 1678.7 1702.4 1678.1 1703.0 1680.0 1703.6 1680.5 1704.2 1679.9 1704.8 1678.9 1705.4 1679.7 1706.1 1679.0 1706.7 1676.2 1707.3 1679.9 1707.9 1678.4 1708.5 1678.3 1709.1 1680.3 1709.7 1677.5 1710.3 1678.5 1710.9 1677.1 1711.5 1673.7 1712.1 1677.5 1712.7 1675.8 1713.3 1675.2 1714.0 1679.4 1714.6 1680.8 1715.2 1677.3 1715.8 1679.3 1716.4 1677.3 1717.0 1675.4 1717.6 1677.3 1718.2 1678.0 1718.8 1680.3 1719.4 1675.7 1720.0 1678.9 1720.6 1676.7 1721.2 1674.3 1721.8 1677.7 1722.5 1675.4 1723.1 1674.0 1723.7 1674.7 1724.3 1676.2 1724.9 1673.7 1725.5 1672.6 1726.1 1675.3 1726.7 1674.6 1727.3 1673.3 1727.9 1673.0 1728.5 1676.8 1729.1 1674.0 1729.7 1673.9 1730.3 1671.8 1731.0 1674.4 1731.6 1676.2 1732.2 1676.3 1732.8 1673.7 1733.4 1679.9 1734.0 1673.3 1734.6 1676.7 1735.2 1672.6 1735.8 1676.1 1736.4 1677.3 1737.0 1678.8 1737.6 1680.0 1738.2 1676.5 1738.9 1675.3 1739.5 1678.5 1740.1 1678.9 1740.7 1677.6 1741.3 1680.6 1741.9 1678.1 1742.5 1680.5 1743.1 1675.9 1743.7 1678.4 1744.3 1680.4 1744.9 1677.5 1745.5 1681.5 1746.1 1678.6 1746.7 1682.3 1747.4 1678.3 1748.0 1676.7 1748.6 1677.0 1749.2 1678.3 1749.8 1677.1 1750.4 1675.1 1751.0 1677.0 1751.6 1678.5 1752.2 1677.4 1752.8 1676.9 1753.4 1681.6 1754.0 1677.9 1754.6 1679.7 1755.2 1677.2 1755.9 1676.9 1756.5 1679.9 1757.1 1678.3 1757.7 1676.6 1758.3 1674.2 1758.9 1676.9 1759.5 1680.0 1760.1 1679.1 1760.7 1678.0 1761.3 1676.5 1761.9 1676.4 1762.5 1676.0 1763.1 1673.0 1763.8 1674.0 1764.4 1675.0 1765.0 1676.8 1765.6 1676.1 1766.2 1674.5 1766.8 1673.2 1767.4 1673.1 1768.0 1669.4 1768.6 1674.7 1769.2 1672.2 1769.8 1672.5 1770.4 1672.3 1771.0 1671.1 1771.6 1672.9 1772.3 1672.5 1772.9 1673.2 1773.5 1670.4 1774.1 1667.8 1774.7 1669.0 1775.3 1669.4 1775.9 1669.1 1776.5 1669.6 1777.1 1670.7 1777.7 1667.7 1778.3 1666.9 1778.9 1672.9 1779.5 1666.3 1780.2 1667.3 1780.8 1668.9 1781.4 1671.1 1782.0 1668.9 1782.6 1666.9 1783.2 1670.5 1783.8 1669.9 1784.4 1668.9 1785.0 1668.7 1785.6 1670.3 1786.2 1670.3 1786.8 1670.4 1787.4 1672.2 1788.0 1670.8 1788.7 1671.4 1789.3 1673.3 1789.9 1670.7 1790.5 1672.7 1791.1 1675.2 1791.7 1673.3 1792.3 1676.0 1792.9 1673.1 1793.5 1673.3 1794.1 1672.6 1794.7 1673.4 1795.3 1676.2 1795.9 1674.5 1796.5 1673.6 1797.2 1675.7 1797.8 1675.0 1798.4 1675.1 1799.0 1675.9 1799.6 1677.2 1800.2 1675.8 1800.8 1676.6 1801.4 1676.4 1802.0 1676.9 1802.6 1674.3 1803.2 1673.4 1803.8 1674.2 1804.4 1676.2 1805.1 1678.4 1805.7 1676.0 1806.3 1673.7 1806.9 1676.1 1807.5 1675.1 1808.1 1671.5 1808.7 1674.2 1809.3 1672.8 1809.9 1676.8 1810.5 1674.5 1811.1 1678.7 1811.7 1675.1 1812.3 1676.2 1812.9 1674.0 1813.6 1675.6 1814.2 1674.5 1814.8 1674.4 1815.4 1674.5 1816.0 1672.7 1816.6 1674.7 1817.2 1675.8 1817.8 1673.4 1818.4 1673.0 1819.0 1673.3 1819.6 1672.2 1820.2 1669.7 1820.8 1671.9 1821.4 1670.8 1822.1 1671.3 1822.7 1671.4 1823.3 1671.9 1823.9 1669.5 1824.5 1666.2 1825.1 1672.0 1825.7 1667.4 1826.3 1672.3 1826.9 1666.9 1827.5 1668.9 1828.1 1663.2 1828.7 1665.2 1829.3 1665.2 1830.0 1666.3 1830.6 1661.3 1831.2 1661.6 1831.8 1660.5 1832.4 1660.2 1833.0 1663.0 1833.6 1660.7 1834.2 1659.1 1834.8 1659.0 1835.4 1656.5 1836.0 1661.2 1836.6 1657.5 1837.2 1654.8 1837.8 1657.2 1838.5 1655.2 1839.1 1658.0 1839.7 1654.5 1840.3 1656.0 1840.9 1656.5 1841.5 1654.3 1842.1 1651.9 1842.7 1654.2 1843.3 1651.1 1843.9 1649.3 1844.5 1657.7 1845.1 1653.2 1845.7 1653.0 1846.4 1652.2 1847.0 1649.1 1847.6 1652.2 1848.2 1651.7 1848.8 1651.2 1849.4 1652.9 1850.0 1650.6 1850.6 1653.3 1851.2 1658.2 1851.8 1654.9 1852.4 1654.9 1853.0 1659.5 1853.6 1658.0 1854.2 1656.8 1854.9 1660.6 1855.5 1660.6 1856.1 1662.1 1856.7 1659.8 1857.3 1661.8 1857.9 1662.8 1858.5 1663.3 1859.1 1662.8 1859.7 1665.3 1860.3 1664.8 1860.9 1667.6 1861.5 1668.7 1862.1 1665.1 1862.7 1670.4 1863.4 1667.3 1864.0 1666.9 1864.6 1670.0 1865.2 1668.3 1865.8 1668.9 1866.4 1670.7 1867.0 1670.5 1867.6 1665.5 1868.2 1672.3 1868.8 1672.1 1869.4 1669.9 1870.0 1668.7 1870.6 1672.0 1871.3 1673.1 1871.9 1672.5 1872.5 1672.3 1873.1 1672.1 1873.7 1674.8 1874.3 1673.1 1874.9 1670.9 1875.5 1673.4 1876.1 1672.4 1876.7 1674.5 1877.3 1675.5 1877.9 1673.7 1878.5 1668.7 1879.1 1671.0 1879.8 1672.0 1880.4 1674.3 1881.0 1670.8 1881.6 1670.9 1882.2 1672.8 1882.8 1673.8 1883.4 1668.3 1884.0 1675.1 1884.6 1672.1 1885.2 1673.6 1885.8 1670.2 1886.4 1673.1 1887.0 1672.2 1887.6 1670.2 1888.3 1671.5 1888.9 1670.4 1889.5 1668.8 1890.1 1670.7 1890.7 1668.7 1891.3 1670.3 1891.9 1667.0 1892.5 1665.9 1893.1 1666.2 1893.7 1665.8 1894.3 1664.4 1894.9 1662.6 1895.5 1659.7 1896.2 1658.2 1896.8 1661.0 1897.4 1654.4 1898.0 1655.5 1898.6 1648.7 1899.2 1651.5 1899.8 1646.1 1900.4 1649.0 1901.0 1646.9 1901.6 1647.8 1902.2 1647.0 1902.8 1645.7 1903.4 1645.3 1904.0 1647.6 1904.7 1645.3 1905.3 1649.1 1905.9 1651.7 1906.5 1648.9 1907.1 1655.1 1907.7 1656.7 1908.3 1655.9 1908.9 1656.6 1909.5 1661.5 1910.1 1661.9 1910.7 1662.5 1911.3 1663.5 1911.9 1666.7 1912.6 1667.1 1913.2 1666.7 1913.8 1667.4 1914.4 1671.6 1915.0 1668.0 1915.6 1665.8 1916.2 1670.3 1916.8 1668.6 1917.4 1670.8 1918.0 1671.7 1918.6 1670.1 1919.2 1673.3 1919.8 1671.8 1920.4 1671.3 1921.1 1674.2 1921.7 1673.6 1922.3 1673.7 1922.9 1672.4 1923.5 1672.1 1924.1 1670.7 1924.7 1673.3 1925.3 1672.4 1925.9 1670.8 1926.5 1670.2 1927.1 1673.9 1927.7 1671.5 1928.3 1668.9 1928.9 1672.7 1929.6 1674.3 1930.2 1670.9 1930.8 1670.1 1931.4 1673.5 1932.0 1675.6 1932.6 1670.5 1933.2 1672.4 1933.8 1674.4 1934.4 1673.9 1935.0 1675.3 1935.6 1671.4 1936.2 1670.5 1936.8 1672.5 1937.5 1671.4 1938.1 1671.0 1938.7 1673.6 1939.3 1672.6 1939.9 1672.0 1940.5 1672.8 1941.1 1673.0 1941.7 1671.9 1942.3 1673.4 1942.9 1669.9 1943.5 1670.9 1944.1 1671.4 1944.7 1671.6 1945.3 1673.1 1946.0 1670.9 1946.6 1672.7 1947.2 1671.2 1947.8 1669.9 1948.4 1670.7 1949.0 1670.1 1949.6 1670.2 1950.2 1665.9 1950.8 1667.9 1951.4 1667.7 1952.0 1668.3 1952.6 1667.3 1953.2 1667.6 1953.8 1670.1 1954.5 1669.3 1955.1 1667.0 1955.7 1668.2 1956.3 1667.5 1956.9 1669.6 1957.5 1670.1 1958.1 1669.7 1958.7 1668.8 1959.3 1670.8 1959.9 1667.9 1960.5 1673.3 1961.1 1667.5 1961.7 1670.4 1962.4 1670.7 1963.0 1671.7 1963.6 1672.5 1964.2 1678.6 1964.8 1677.2 1965.4 1676.9 1966.0 1674.1 1966.6 1677.3 1967.2 1673.9 1967.8 1676.3 1968.4 1675.8 1969.0 1676.0 1969.6 1675.3 1970.2 1675.6 1970.9 1675.3 1971.5 1672.9 1972.1 1679.1 1972.7 1676.5 1973.3 1676.0 1973.9 1680.0 1974.5 1675.4 1975.1 1678.9 1975.7 1678.5 1976.3 1677.9 1976.9 1677.3 1977.5 1678.3 1978.1 1677.5 1978.8 1678.6 1979.4 1680.4 1980.0 1679.3 1980.6 1681.0 1981.2 1679.7 1981.8 1681.5 1982.4 1683.0 1983.0 1679.4 1983.6 1678.6 1984.2 1677.5 1984.8 1678.1 1985.4 1681.8 1986.0 1681.7 1986.6 1679.6 1987.3 1683.3 1987.9 1682.7 1988.5 1678.9 1989.1 1679.7 1989.7 1677.7 1990.3 1683.1 1990.9 1682.9 1991.5 1679.8 1992.1 1680.0 1992.7 1683.2 1993.3 1680.6 1993.9 1683.3 1994.5 1681.3 1995.1 1678.9 1995.8 1677.5 1996.4 1683.5 1997.0 1679.2 1997.6 1681.1 1998.2 1683.3 1998.8 1681.1 1999.4 1680.5 2000.0 1677.5 2000.6 1679.6 2001.2 1682.0 2001.8 1681.8 2002.4 1680.7 2003.0 1678.9 2003.7 1682.3 2004.3 1678.6 2004.9 1681.1 2005.5 1682.2 2006.1 1681.6 2006.7 1679.2 2007.3 1680.7 2007.9 1677.4 2008.5 1678.4 2009.1 1677.4 2009.7 1675.5 2010.3 1675.7 2010.9 1673.9 2011.5 1673.7 2012.2 1669.9 2012.8 1672.7 2013.4 1669.6 2014.0 1671.4 2014.6 1668.6 2015.2 1667.2 2015.8 1665.1 2016.4 1664.5 2017.0 1662.7 2017.6 1661.6 2018.2 1663.2 2018.8 1663.5 2019.4 1658.0 2020.1 1659.9 2020.7 1657.5 2021.3 1655.9 2021.9 1653.3 2022.5 1651.4 2023.1 1652.5 2023.7 1648.9 2024.3 1650.2 2024.9 1647.9 2025.5 1647.4 2026.1 1640.3 2026.7 1642.1 2027.3 1643.1 2027.9 1641.2 2028.6 1642.0 2029.2 1639.0 2029.8 1638.0 2030.4 1635.2 2031.0 1640.0 2031.6 1640.4 2032.2 1639.7 2032.8 1642.0 2033.4 1641.1 2034.0 1645.7 2034.6 1646.8 2035.2 1649.6 2035.8 1650.5 2036.4 1653.1 2037.1 1653.6 2037.7 1659.1 2038.3 1659.2 2038.9 1659.1 2039.5 1663.1 2040.1 1663.9 2040.7 1661.0 2041.3 1666.7 2041.9 1670.7 2042.5 1672.2 2043.1 1671.0 2043.7 1672.1 2044.3 1669.8 2045.0 1671.1 2045.6 1668.7 2046.2 1672.3 2046.8 1675.9 2047.4 1676.6 2048.0 1671.8 2048.6 1675.0 2049.2 1674.4 2049.8 1673.5 2050.4 1672.2 2051.0 1675.5 2051.6 1676.2 2052.2 1676.3 2052.8 1675.0 2053.5 1671.4 2054.1 1677.4 2054.7 1673.2 2055.3 1673.6 2055.9 1675.7 2056.5 1672.2 2057.1 1673.8 2057.7 1673.6 2058.3 1675.7 2058.9 1670.8 2059.5 1674.5 2060.1 1673.8 2060.7 1675.4 2061.3 1670.0 2062.0 1671.1 2062.6 1672.5 2063.2 1675.6 2063.8 1675.4 2064.4 1673.6 2065.0 1674.3 2065.6 1673.4 2066.2 1674.7 2066.8 1670.8 2067.4 1674.2 2068.0 1675.9 2068.6 1673.2 2069.2 1672.1 2069.9 1672.6 2070.5 1673.7 2071.1 1672.6 2071.7 1672.4 2072.3 1670.9 2072.9 1668.7 2073.5 1667.3 2074.1 1670.6 2074.7 1670.1 2075.3 1669.0 2075.9 1665.9 2076.5 1664.3 2077.1 1666.8 2077.7 1664.5 2078.4 1667.2 2079.0 1663.4 2079.6 1665.2 2080.2 1665.4 2080.8 1665.4 2081.4 1665.4 2082.0 1667.9 2082.6 1665.7 2083.2 1669.0 2083.8 1669.5 2084.4 1670.4 2085.0 1669.3 2085.6 1670.0 2086.3 1672.5 2086.9 1674.2 2087.5 1671.2 2088.1 1674.0 2088.7 1673.2 2089.3 1676.4 2089.9 1674.4 2090.5 1676.4 2091.1 1674.5 2091.7 1675.2 2092.3 1679.6 2092.9 1674.0 2093.5 1675.7 2094.1 1678.0 2094.8 1676.9 2095.4 1678.3 2096.0 1677.3 2096.6 1677.1 2097.2 1681.2 2097.8 1675.8 2098.4 1679.4 2099.0 1679.8 2099.6 1679.8 2100.2 1678.8 2100.8 1674.2 2101.4 1675.5 2102.0 1676.9 2102.6 1678.0 2103.3 1677.5 2103.9 1676.3 2104.5 1678.4 2105.1 1677.4 2105.7 1679.1 2106.3 1679.8 2106.9 1676.4 2107.5 1678.9 2108.1 1681.0 2108.7 1678.2 2109.3 1674.7 2109.9 1672.5 2110.5 1674.6 2111.2 1677.5 2111.8 1676.6 2112.4 1681.0 2113.0 1678.5 2113.6 1679.3 2114.2 1677.4 2114.8 1674.4 2115.4 1678.6 2116.0 1677.5 2116.6 1676.8 2117.2 1681.1 2117.8 1677.3 2118.4 1677.7 2119.0 1677.2 2119.7 1676.4 2120.3 1679.1 2120.9 1675.5 2121.5 1679.1 2122.1 1678.7 2122.7 1677.9 2123.3 1678.7 2123.9 1676.6 2124.5 1679.1 2125.1 1678.4 2125.7 1675.4 2126.3 1676.0 2126.9 1677.0 2127.5 1677.4 2128.2 1676.6 2128.8 1680.0 2129.4 1678.0 2130.0 1677.2 2130.6 1678.3 2131.2 1676.0 2131.8 1678.1 2132.4 1676.9 2133.0 1677.6 2133.6 1675.4 2134.2 1676.6 2134.8 1677.9 2135.4 1677.3 2136.1 1678.2 2136.7 1678.4 2137.3 1676.6 2137.9 1675.9 2138.5 1675.6 2139.1 1673.9 2139.7 1674.5 2140.3 1673.4 2140.9 1674.0 2141.5 1674.2 2142.1 1667.3 2142.7 1671.8 2143.3 1667.8 2143.9 1667.1 2144.6 1668.4 2145.2 1668.9 2145.8 1669.6 2146.4 1664.2 2147.0 1662.1 2147.6 1666.2 2148.2 1660.2 2148.8 1658.5 2149.4 1659.1 2150.0 1660.5 2150.6 1657.5 2151.2 1654.5 2151.8 1656.4 2152.5 1654.2 2153.1 1651.9 2153.7 1657.5 2154.3 1650.0 2154.9 1655.5 2155.5 1653.4 2156.1 1654.1 2156.7 1654.2 2157.3 1651.3 2157.9 1653.8 2158.5 1653.3 2159.1 1654.3 2159.7 1656.8 2160.3 1656.3 2161.0 1656.8 2161.6 1660.8 2162.2 1660.7 2162.8 1660.1 2163.4 1661.0 2164.0 1665.6 2164.6 1664.4 2165.2 1667.8 2165.8 1668.8 2166.4 1667.9 2167.0 1669.9 2167.6 1668.2 2168.2 1671.1 2168.8 1671.7 2169.5 1670.9 2170.1 1672.6 2170.7 1672.1 2171.3 1672.1 2171.9 1671.4 2172.5 1672.0 2173.1 1671.8 2173.7 1674.4 2174.3 1674.7 2174.9 1676.1 2175.5 1674.7 2176.1 1677.1 2176.7 1675.6 2177.4 1673.5 2178.0 1674.6 2178.6 1675.0 2179.2 1673.5 2179.8 1676.9 2180.4 1672.4 2181.0 1675.4 2181.6 1674.4 2182.2 1671.8 2182.8 1671.2 2183.4 1674.6 2184.0 1676.0 2184.6 1675.2 2185.2 1677.6 2185.9 1674.3 2186.5 1673.1 2187.1 1673.1 2187.7 1675.0 2188.3 1671.9 2188.9 1668.2 2189.5 1670.0 2190.1 1667.9 2190.7 1670.0 2191.3 1665.7 2191.9 1661.4 2192.5 1660.7 2193.1 1655.9 2193.7 1658.6 2194.4 1655.1 2195.0 1650.0 2195.6 1646.7 2196.2 1644.0 2196.8 1641.2 2197.4 1636.5 2198.0 1634.2 2198.6 1627.3 2199.2 1622.7 2199.8 1624.3 2200.4 1620.5 2201.0 1617.3 2201.6 1620.5 2202.3 1617.0 2202.9 1618.0 2203.5 1617.9 2204.1 1618.6 2204.7 1620.5 2205.3 1624.7 2205.9 1624.0 2206.5 1631.7 2207.1 1631.6 2207.7 1638.6 2208.3 1635.8 2208.9 1645.7 2209.5 1649.0 2210.1 1654.3 2210.8 1652.0 2211.4 1657.2 2212.0 1661.5 2212.6 1662.7 2213.2 1665.0 2213.8 1665.7 2214.4 1670.5 2215.0 1669.8 2215.6 1671.5 2216.2 1671.8 2216.8 1674.4 2217.4 1673.6 2218.0 1674.9 2218.7 1674.2 2219.3 1672.9 2219.9 1671.8 2220.5 1678.3 2221.1 1677.5 2221.7 1673.7 2222.3 1674.9 2222.9 1678.2 2223.5 1674.3 2224.1 1676.2 2224.7 1673.2 2225.3 1675.0 2225.9 1676.5 2226.5 1677.0 2227.2 1675.7 2227.8 1675.0 2228.4 1675.7 2229.0 1679.1 2229.6 1674.9 2230.2 1680.1 2230.8 1675.0 2231.4 1677.0 2232.0 1677.5 2232.6 1675.3 2233.2 1678.2 2233.8 1675.8 2234.4 1675.2 2235.0 1673.9 2235.7 1677.0 2236.3 1677.1 2236.9 1674.8 2237.5 1677.5 2238.1 1678.6 2238.7 1675.3 2239.3 1677.8 2239.9 1677.4 2240.5 1678.0 2241.1 1677.8 2241.7 1678.3 2242.3 1677.9 2242.9 1674.8 2243.6 1678.4 2244.2 1675.4 2244.8 1674.0 2245.4 1677.6 2246.0 1671.2 2246.6 1675.4 2247.2 1676.9 2247.8 1675.0 2248.4 1670.8 2249.0 1670.3 2249.6 1669.4 2250.2 1669.9 2250.8 1668.1 2251.4 1668.8 2252.1 1669.0 2252.7 1666.5 2253.3 1663.7 2253.9 1663.8 2254.5 1659.9 2255.1 1656.0 2255.7 1656.2 2256.3 1655.7 2256.9 1654.9 2257.5 1655.4 2258.1 1658.8 2258.7 1658.2 2259.3 1653.8 2259.9 1658.0 2260.6 1659.7 2261.2 1660.9 2261.8 1661.8 2262.4 1663.6 2263.0 1665.7 2263.6 1670.6 2264.2 1671.7 2264.8 1667.3 2265.4 1672.2 2266.0 1673.7 2266.6 1672.5 2267.2 1672.0 2267.8 1677.4 2268.5 1675.5 2269.1 1677.0 2269.7 1674.3 2270.3 1676.0 2270.9 1674.5 2271.5 1677.3 2272.1 1675.9 2272.7 1678.2 2273.3 1675.5 2273.9 1677.3 2274.5 1676.6 2275.1 1677.2 2275.7 1676.2 2276.3 1678.3 2277.0 1677.4 2277.6 1677.5 2278.2 1674.1 2278.8 1677.4 2279.4 1679.5 2280.0 1674.2 2280.6 1678.3 2281.2 1674.4 2281.8 1677.8 2282.4 1676.8 2283.0 1677.5 2283.6 1674.3 2284.2 1675.4 2284.9 1679.8 2285.5 1675.5 2286.1 1677.7 2286.7 1678.2 2287.3 1680.2 2287.9 1678.9 2288.5 1678.1 2289.1 1680.1 2289.7 1680.3 2290.3 1682.1 2290.9 1678.6 2291.5 1680.9 2292.1 1684.6 2292.7 1681.2 2293.4 1681.3 2294.0 1681.1 2294.6 1678.3 2295.2 1680.9 2295.8 1681.1 2296.4 1680.0 2297.0 1680.8 2297.6 1679.9 2298.2 1679.9 2298.8 1679.4 2299.4 1679.4 2300.0 1677.1 2300.6 1677.5 2301.2 1676.5 2301.9 1676.5 2302.5 1677.8 2303.1 1677.3 2303.7 1678.3 2304.3 1679.9 2304.9 1678.6 2305.5 1677.9 2306.1 1680.1 2306.7 1676.7 2307.3 1674.8 2307.9 1678.3 2308.5 1676.2 2309.1 1674.8 2309.8 1675.5 2310.4 1671.7 2311.0 1672.4 2311.6 1668.0 2312.2 1671.2 2312.8 1666.4 2313.4 1667.1 2314.0 1667.0 2314.6 1667.5 2315.2 1664.3 2315.8 1664.9 2316.4 1662.6 2317.0 1663.6 2317.6 1663.1 2318.3 1661.6 2318.9 1664.9 2319.5 1660.6 2320.1 1663.5 2320.7 1663.4 2321.3 1664.2 2321.9 1666.3 2322.5 1667.5 2323.1 1668.7 2323.7 1669.3 2324.3 1670.1 2324.9 1671.6 2325.5 1676.0 2326.1 1674.3 2326.8 1675.9 2327.4 1674.2 2328.0 1677.5 2328.6 1673.3 2329.2 1677.8 2329.8 1675.4 2330.4 1678.1 2331.0 1680.5 2331.6 1682.1 2332.2 1678.2 2332.8 1679.0 2333.4 1679.6 2334.0 1677.6 2334.7 1678.3 2335.3 1684.5 2335.9 1680.8 2336.5 1681.2 2337.1 1681.7 2337.7 1682.1 2338.3 1681.3 2338.9 1684.4 2339.5 1682.8 2340.1 1681.8 2340.7 1682.7 2341.3 1681.1 2341.9 1679.0 2342.5 1679.0 2343.2 1679.3 2343.8 1680.7 2344.4 1682.4 2345.0 1681.9 2345.6 1680.4 2346.2 1682.9 2346.8 1681.4 2347.4 1683.6 2348.0 1682.5 2348.6 1681.3" fill="none" stroke="#ff7bb5" stroke-width="6.5" stroke-linejoin="round" shape-rendering="crispEdges"/>
<rect x="192.5" y="24.5" width="2157.0" height="1743.0" fill="none" stroke="#000" stroke-width="7"/>
<line x1="283.7" y1="1770" x2="283.7" y2="1783" stroke="#000" stroke-width="7"/>
<line x1="435.5" y1="1770" x2="435.5" y2="1800" stroke="#000" stroke-width="7"/>
<line x1="587.3" y1="1770" x2="587.3" y2="1783" stroke="#000" stroke-width="7"/>
<line x1="739.2" y1="1770" x2="739.2" y2="1800" stroke="#000" stroke-width="7"/>
<line x1="891.0" y1="1770" x2="891.0" y2="1783" stroke="#000" stroke-width="7"/>
<line x1="1042.8" y1="1770" x2="1042.8" y2="1800" stroke="#000" stroke-width="7"/>
<line x1="1194.7" y1="1770" x2="1194.7" y2="1783" stroke="#000" stroke-width="7"/>
<line x1="1346.5" y1="1770" x2="1346.5" y2="1800" stroke="#000" stroke-width="7"/>
<line x1="1498.3" y1="1770" x2="1498.3" y2="1783" stroke="#000" stroke-width="7"/>
<line x1="1650.2" y1="1770" x2="1650.2" y2="1800" stroke="#000" stroke-width="7"/>
<line x1="1802.0" y1="1770" x2="1802.0" y2="1783" stroke="#000" stroke-width="7"/>
<line x1="1953.9" y1="1770" x2="1953.9" y2="1800" stroke="#000" stroke-width="7"/>
<line x1="2105.7" y1="1770" x2="2105.7" y2="1783" stroke="#000" stroke-width="7"/>
<line x1="2257.5" y1="1770" x2="2257.5" y2="1800" stroke="#000" stroke-width="7"/>
<line x1="157" y1="1679.5" x2="190" y2="1679.5" stroke="#000" stroke-width="7"/>
<line x1="175" y1="1570.6" x2="190" y2="1570.6" stroke="#000" stroke-width="7"/>
<line x1="157" y1="1461.6" x2="190" y2="1461.6" stroke="#000" stroke-width="7"/>
<line x1="175" y1="1352.7" x2="190" y2="1352.7" stroke="#000" stroke-width="7"/>
<line x1="157" y1="1243.8" x2="190" y2="1243.8" stroke="#000" stroke-width="7"/>
<line x1="175" y1="1134.8" x2="190" y2="1134.8" stroke="#000" stroke-width="7"/>
<line x1="157" y1="1025.9" x2="190" y2="1025.9" stroke="#000" stroke-width="7"/>
<line x1="175" y1="917.0" x2="190" y2="917.0" stroke="#000" stroke-width="7"/>
<line x1="157" y1="808.0" x2="190" y2="808.0" stroke="#000" stroke-width="7"/>
<line x1="175" y1="699.1" x2="190" y2="699.1" stroke="#000" stroke-width="7"/>
<line x1="157" y1="590.2" x2="190" y2="590.2" stroke="#000" stroke-width="7"/>
<line x1="175" y1="481.2" x2="190" y2="481.2" stroke="#000" stroke-width="7"/>
<line x1="157" y1="372.3" x2="190" y2="372.3" stroke="#000" stroke-width="7"/>
<line x1="175" y1="263.3" x2="190" y2="263.3" stroke="#000" stroke-width="7"/>
<line x1="157" y1="154.4" x2="190" y2="154.4" stroke="#000" stroke-width="7"/>
<line x1="175" y1="45.5" x2="190" y2="45.5" stroke="#000" stroke-width="7"/>
<text x="281.4" y="692.3" font-family="'Noto Serif CJK SC', serif" font-weight="900" font-size="54.5" stroke="#000" stroke-width="1.1" stroke-linejoin="round" transform="rotate(90 294.7 660.0)">*</text>
<text x="608.4" y="248.3" font-family="'Noto Serif CJK SC', serif" font-weight="900" font-size="54.5" stroke="#000" stroke-width="1.1" stroke-linejoin="round" transform="rotate(90 621.7 216.0)">*</text>
<text x="733.7" y="539.9" font-family="'Noto Serif CJK SC', serif" font-weight="900" font-size="54.5" stroke="#000" stroke-width="1.1" stroke-linejoin="round" transform="rotate(90 747.0 507.6)">*</text>
<text x="1425.2" y="548.7" font-family="'Noto Serif CJK SC', serif" font-weight="900" font-size="54.5" stroke="#000" stroke-width="1.1" stroke-linejoin="round" transform="rotate(90 1438.5 516.4)">*</text>
<text x="1899.0" y="629.8" font-family="'Noto Serif CJK SC', serif" font-weight="900" font-size="54.5" stroke="#000" stroke-width="1.1" stroke-linejoin="round" transform="rotate(90 1912.3 597.5)">*</text>
<text x="288.7" y="1105.8" font-family="'Noto Serif CJK SC', serif" font-weight="900" font-size="54.5" stroke="#000" stroke-width="1.1" stroke-linejoin="round" transform="rotate(90 302.0 1073.5)">*</text>
<text x="607.1" y="977.5" font-family="'Noto Serif CJK SC', serif" font-weight="900" font-size="54.5" stroke="#000" stroke-width="1.1" stroke-linejoin="round" transform="rotate(90 620.4 945.2)">*</text>
<text x="727.6" y="941.0" font-family="'Noto Serif CJK SC', serif" font-weight="900" font-size="54.5" stroke="#000" stroke-width="1.1" stroke-linejoin="round" transform="rotate(90 740.9 908.7)">*</text>
<text x="1422.4" y="1128.9" font-family="'Noto Serif CJK SC', serif" font-weight="900" font-size="54.5" stroke="#000" stroke-width="1.1" stroke-linejoin="round" transform="rotate(90 1435.7 1096.6)">*</text>
<text x="1890.8" y="1157.3" font-family="'Noto Serif CJK SC', serif" font-weight="900" font-size="54.5" stroke="#000" stroke-width="1.1" stroke-linejoin="round" transform="rotate(90 1904.1 1125.0)">*</text>
<text x="265.0" y="1607.9" font-family="'Noto Serif CJK SC', serif" font-weight="900" font-size="54.5" stroke="#000" stroke-width="1.1" stroke-linejoin="round" transform="rotate(90 278.3 1575.6)">*</text>
<text x="596.5" y="1456.4" font-family="'Noto Serif CJK SC', serif" font-weight="900" font-size="54.5" stroke="#000" stroke-width="1.1" stroke-linejoin="round" transform="rotate(90 609.8 1424.1)">*</text>
<text x="718.5" y="1423.6" font-family="'Noto Serif CJK SC', serif" font-weight="900" font-size="54.5" stroke="#000" stroke-width="1.1" stroke-linejoin="round" transform="rotate(90 731.8 1391.3)">*</text>
<text x="1026.7" y="1433.8" font-family="'Noto Serif CJK SC', serif" font-weight="900" font-size="54.5" stroke="#000" stroke-width="1.1" stroke-linejoin="round" transform="rotate(90 1040.0 1401.5)">*</text>
<text x="1412.6" y="1569.9" font-family="'Noto Serif CJK SC', serif" font-weight="900" font-size="54.5" stroke="#000" stroke-width="1.1" stroke-linejoin="round" transform="rotate(90 1425.9 1537.6)">*</text>
<text x="1566.5" y="1625.8" font-family="'Noto Serif CJK SC', serif" font-weight="900" font-size="54.5" stroke="#000" stroke-width="1.1" stroke-linejoin="round" transform="rotate(90 1579.8 1593.5)">*</text>
<text x="2018.4" y="1608.3" font-family="'Noto Serif CJK SC', serif" font-weight="900" font-size="54.5" stroke="#000" stroke-width="1.1" stroke-linejoin="round" transform="rotate(90 2031.7 1576.0)">*</text>
<text x="2184.9" y="1601.7" font-family="'Noto Serif CJK SC', serif" font-weight="900" font-size="54.5" stroke="#000" stroke-width="1.1" stroke-linejoin="round" transform="rotate(90 2198.2 1569.4)">*</text>
<text x="952.0" y="587.7" font-family="'Liberation Serif', serif" font-size="37.2">&#x25CF;</text>
<text x="1040.7" y="253.9" font-family="'Liberation Serif', serif" font-size="37.2">&#x25CF;</text>
<text x="1110.2" y="649.1" font-family="'Liberation Serif', serif" font-size="37.2">&#x25CF;</text>
<text x="943.1" y="1122.9" font-family="'Liberation Serif', serif" font-size="37.2">&#x25CF;</text>
<text x="1036.2" y="922.5" font-family="'Liberation Serif', serif" font-size="37.2">&#x25CF;</text>
<text x="1107.5" y="1130.9" font-family="'Liberation Serif', serif" font-size="37.2">&#x25CF;</text>
<text x="942.1" y="1526.0" font-family="'Liberation Serif', serif" font-size="37.2">&#x25CF;</text>
<text x="1093.8" y="1580.2" font-family="'Liberation Serif', serif" font-size="37.2">&#x25CF;</text>
<text x="2052.2" y="59.2" font-family="'Liberation Serif', serif" font-size="27.9">&#x25CF;</text>
<text x="2048.1" y="192.7" font-family="'Noto Serif CJK SC', serif" font-weight="900" font-size="46.6" stroke="#000" stroke-width="1.1" stroke-linejoin="round" transform="rotate(90 2059.5 165.1)">*</text>
<g fill="#000">
<text x="391.4" y="1881.5" font-family="'Liberation Sans', Arial, sans-serif" font-size="75.0" textLength="84.5" lengthAdjust="spacingAndGlyphs">20</text>
<text x="697.6" y="1881.5" font-family="'Liberation Sans', Arial, sans-serif" font-size="75.0" textLength="81.7" lengthAdjust="spacingAndGlyphs">30</text>
<text x="999.2" y="1881.5" font-family="'Liberation Sans', Arial, sans-serif" font-size="75.0" textLength="85.0" lengthAdjust="spacingAndGlyphs">40</text>
<text x="1304.4" y="1881.5" font-family="'Liberation Sans', Arial, sans-serif" font-size="75.0" textLength="83.0" lengthAdjust="spacingAndGlyphs">50</text>
<text x="1607.2" y="1881.5" font-family="'Liberation Sans', Arial, sans-serif" font-size="75.0" textLength="83.2" lengthAdjust="spacingAndGlyphs">60</text>
<text x="1910.8" y="1881.5" font-family="'Liberation Sans', Arial, sans-serif" font-size="75.0" textLength="83.8" lengthAdjust="spacingAndGlyphs">70</text>
<text x="2217.8" y="1881.5" font-family="'Liberation Sans', Arial, sans-serif" font-size="75.0" textLength="82.6" lengthAdjust="spacingAndGlyphs">80</text>
<text y="92.4" font-family="'Liberation Serif', serif" font-size="70.7" stroke="#000" stroke-width="0.6"><tspan x="2094.1" textLength="49.3" lengthAdjust="spacingAndGlyphs">Z</tspan><tspan x="2139.5" textLength="40.9" lengthAdjust="spacingAndGlyphs">n</tspan><tspan x="2177.7" textLength="55.3" lengthAdjust="spacingAndGlyphs">O</tspan></text>
<text y="199.6" font-family="'Liberation Serif', serif" font-size="70.0" stroke="#000" stroke-width="0.6"><tspan x="2087.8" textLength="48.3" lengthAdjust="spacingAndGlyphs">Z</tspan><tspan x="2131.5" textLength="40.8" lengthAdjust="spacingAndGlyphs">n</tspan></text>
<text x="2170.7" y="216.5" font-family="'Liberation Serif', serif" font-size="43.6" textLength="23.9" lengthAdjust="spacingAndGlyphs" stroke="#000" stroke-width="0.6">2</text>
<text y="199.6" font-family="'Liberation Serif', serif" font-size="70.0" stroke="#000" stroke-width="0.6"><tspan x="2190.3" textLength="41.8" lengthAdjust="spacingAndGlyphs">S</tspan><tspan x="2228.7" textLength="14.6" lengthAdjust="spacingAndGlyphs">i</tspan><tspan x="2241.7" textLength="59.9" lengthAdjust="spacingAndGlyphs">O</tspan></text>
<text x="2299.0" y="216.5" font-family="'Liberation Serif', serif" font-size="43.6" textLength="21.1" lengthAdjust="spacingAndGlyphs" stroke="#000" stroke-width="0.6">4</text>
<text y="652.1" font-family="'Liberation Serif', serif" font-size="69.0" stroke="#000" stroke-width="0.6"><tspan x="2068.4" textLength="49.3" lengthAdjust="spacingAndGlyphs">Z</tspan><tspan x="2113.8" textLength="39.9" lengthAdjust="spacingAndGlyphs">n</tspan><tspan x="2154.6" textLength="38.4" lengthAdjust="spacingAndGlyphs">B</tspan><tspan x="2190.0" textLength="36.7" lengthAdjust="spacingAndGlyphs">2</tspan><tspan x="2224.9" textLength="34.4" lengthAdjust="spacingAndGlyphs">9</tspan><tspan x="2256.4" textLength="36.7" lengthAdjust="spacingAndGlyphs">2</tspan><tspan x="2289.3" textLength="37.3" lengthAdjust="spacingAndGlyphs">7</tspan></text>
<text y="1158.0" font-family="'Liberation Serif', serif" font-size="68.5" stroke="#000" stroke-width="0.6"><tspan x="2064.8" textLength="50.8" lengthAdjust="spacingAndGlyphs">Z</tspan><tspan x="2111.5" textLength="40.1" lengthAdjust="spacingAndGlyphs">n</tspan><tspan x="2148.1" textLength="36.3" lengthAdjust="spacingAndGlyphs">S</tspan><tspan x="2185.0" textLength="18.6" lengthAdjust="spacingAndGlyphs">i</tspan><tspan x="2202.8" textLength="32.9" lengthAdjust="spacingAndGlyphs">3</tspan><tspan x="2234.5" textLength="36.7" lengthAdjust="spacingAndGlyphs">2</tspan><tspan x="2267.4" textLength="36.4" lengthAdjust="spacingAndGlyphs">3</tspan><tspan x="2301.1" textLength="33.7" lengthAdjust="spacingAndGlyphs">1</tspan></text>
<text y="1507.3" font-family="'Liberation Serif', serif" font-size="69.0" stroke="#000" stroke-width="0.6"><tspan x="2060.5" textLength="48.9" lengthAdjust="spacingAndGlyphs">Z</tspan><tspan x="2104.7" textLength="40.1" lengthAdjust="spacingAndGlyphs">n</tspan><tspan x="2142.1" textLength="36.3" lengthAdjust="spacingAndGlyphs">S</tspan><tspan x="2179.9" textLength="17.5" lengthAdjust="spacingAndGlyphs">i</tspan><tspan x="2195.0" textLength="36.6" lengthAdjust="spacingAndGlyphs">3</tspan><tspan x="2230.6" textLength="33.7" lengthAdjust="spacingAndGlyphs">8</tspan><tspan x="2260.9" textLength="36.7" lengthAdjust="spacingAndGlyphs">2</tspan><tspan x="2294.7" textLength="35.5" lengthAdjust="spacingAndGlyphs">5</tspan></text>
<text y="137.4" font-family="'Liberation Serif', serif" font-size="93.0" stroke="#000" stroke-width="0.6"><tspan x="200.1" textLength="53.2" lengthAdjust="spacingAndGlyphs">7</tspan><tspan x="245.9" textLength="46.7" lengthAdjust="spacingAndGlyphs">5</tspan><tspan x="294.1" textLength="47.0" lengthAdjust="spacingAndGlyphs">0</tspan></text>
<text x="362.5" y="101.4" font-family="'Liberation Serif', serif" font-size="59.7" textLength="34.0" lengthAdjust="spacingAndGlyphs" stroke="#000" stroke-width="0.6">o</text>
<text x="394.0" y="137.4" font-family="'Liberation Serif', serif" font-size="93.0" textLength="69.8" lengthAdjust="spacingAndGlyphs" stroke="#000" stroke-width="0.6">C</text>
<text x="458.9" y="137.4" font-family="'Liberation Serif', serif" font-size="93.0" textLength="31.3" lengthAdjust="spacingAndGlyphs" stroke="#000" stroke-width="0.6">-</text>
<text x="488.7" y="137.4" font-family="'Liberation Serif', serif" font-size="93.0" textLength="45.6" lengthAdjust="spacingAndGlyphs" stroke="#000" stroke-width="0.6">1</text>
<text x="557.5" y="137.4" font-family="'Liberation Serif', serif" font-size="93.0" textLength="55.1" lengthAdjust="spacingAndGlyphs" stroke="#000" stroke-width="0.6">h</text>
<text y="2035.4" font-family="'Liberation Serif', serif" font-size="93.0" stroke="#000" stroke-width="0.6"><tspan x="1044.3" textLength="51.1" lengthAdjust="spacingAndGlyphs">2</tspan><tspan x="1098.3" textLength="41.4" lengthAdjust="spacingAndGlyphs">&#x3B8;</tspan><tspan x="1139.8"> </tspan><tspan x="1163.8" textLength="28.1" lengthAdjust="spacingAndGlyphs">(</tspan><tspan x="1191.3" textLength="53.5" lengthAdjust="spacingAndGlyphs">d</tspan><tspan x="1245.6" textLength="44.9" lengthAdjust="spacingAndGlyphs">e</tspan><tspan x="1288.4" textLength="52.3" lengthAdjust="spacingAndGlyphs">g</tspan><tspan x="1341.5" textLength="34.3" lengthAdjust="spacingAndGlyphs">r</tspan><tspan x="1374.3" textLength="47.7" lengthAdjust="spacingAndGlyphs">e</tspan><tspan x="1417.7" textLength="47.7" lengthAdjust="spacingAndGlyphs">e</tspan><tspan x="1463.9" textLength="28.1" lengthAdjust="spacingAndGlyphs">)</tspan></text>
<text x="1144.9" y="2160.0" font-family="'Liberation Serif', serif" font-size="85.7" textLength="100.7" lengthAdjust="spacingAndGlyphs" stroke="#000" stroke-width="0.6">(b)</text>
<g transform="translate(88.1 1183.5) rotate(-90)"><text y="0.0" font-family="'Liberation Serif', serif" font-size="94.8" stroke="#000" stroke-width="0.6"><tspan x="-3.9" textLength="34.1" lengthAdjust="spacingAndGlyphs">I</tspan><tspan x="26.7" textLength="55.3" lengthAdjust="spacingAndGlyphs">n</tspan><tspan x="81.9" textLength="28.4" lengthAdjust="spacingAndGlyphs">t</tspan><tspan x="109.1" textLength="44.9" lengthAdjust="spacingAndGlyphs">e</tspan><tspan x="152.2" textLength="55.1" lengthAdjust="spacingAndGlyphs">n</tspan><tspan x="206.2" textLength="39.9" lengthAdjust="spacingAndGlyphs">s</tspan><tspan x="245.3" textLength="25.4" lengthAdjust="spacingAndGlyphs">i</tspan><tspan x="272.7" textLength="28.2" lengthAdjust="spacingAndGlyphs">t</tspan><tspan x="298.2" textLength="52.5" lengthAdjust="spacingAndGlyphs">y</tspan><tspan x="350.7"> </tspan><tspan x="376.0" textLength="29.2" lengthAdjust="spacingAndGlyphs">(</tspan><tspan x="403.8" textLength="44.9" lengthAdjust="spacingAndGlyphs">a</tspan><tspan x="449.4" textLength="23.3" lengthAdjust="spacingAndGlyphs">.</tspan><tspan x="472.3" textLength="54.0" lengthAdjust="spacingAndGlyphs">u</tspan><tspan x="527.4" textLength="23.3" lengthAdjust="spacingAndGlyphs">.</tspan><tspan x="549.6" textLength="28.5" lengthAdjust="spacingAndGlyphs">)</tspan></text></g>
</g>
</svg>
</body></html>
